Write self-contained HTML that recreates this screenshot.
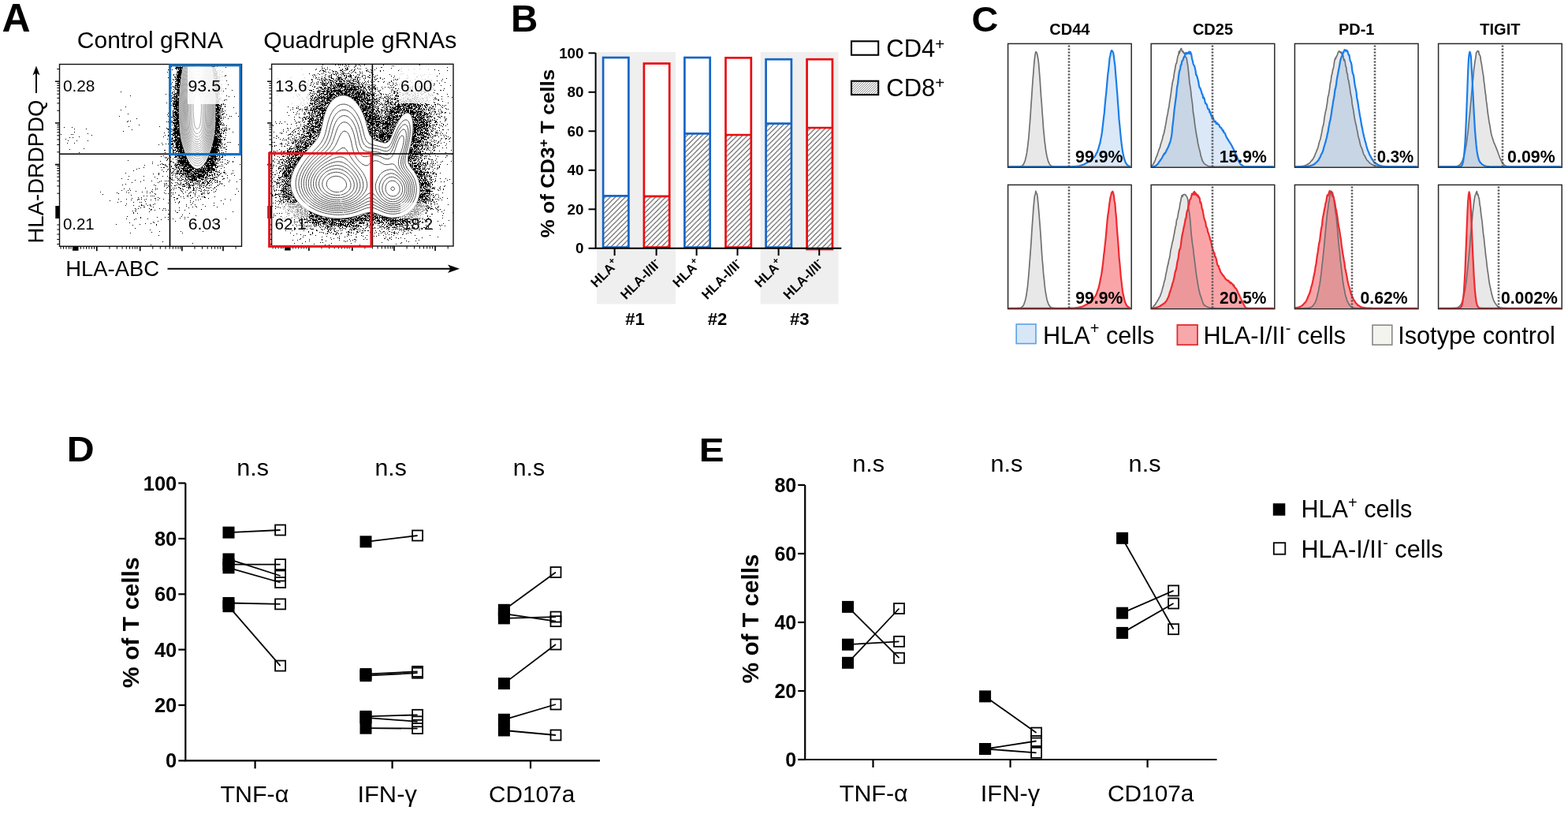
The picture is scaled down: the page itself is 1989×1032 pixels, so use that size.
<!DOCTYPE html>
<html><head><meta charset="utf-8"><title>Figure</title>
<style>html,body{margin:0;padding:0;background:#fff;}svg{display:block;}</style></head>
<body><svg width="1989" height="1032" viewBox="0 0 1989 1032" font-family="'Liberation Sans', Arial, Helvetica, sans-serif">
<rect width="1989" height="1032" fill="#fff"/>
<text transform="translate(2.5 39.5) scale(1.014 1)" font-size="49.3" font-weight="bold">A</text>
<text transform="translate(648 40) scale(1.001 1)" font-size="47.5" font-weight="bold">B</text>
<text transform="translate(1232.6 40.2) scale(1.075 1)" font-size="43.6" font-weight="bold">C</text>
<text transform="translate(84.8 585) scale(1.103 1)" font-size="43.8" font-weight="bold">D</text>
<text transform="translate(886.8 585.3) scale(1.122 1)" font-size="42.5" font-weight="bold">E</text>
<text transform="translate(97.8 60.7) scale(1.008 1)" font-size="29.8">Control gRNA</text>
<text transform="translate(334.2 60.7) scale(1.014 1)" font-size="29.8">Quadruple gRNAs</text>
<text transform="translate(55 308.5) rotate(-90) scale(1.001 1)" font-size="27.5">HLA-DRDPDQ</text>
<path d="M46 118V88" stroke="#000" stroke-width="2"/><path d="M46 83.5L41.5 95.5L46 92.5L50.5 95.5Z" fill="#000"/>
<text transform="translate(83.2 350.2) scale(1.009 1)" font-size="27.2">HLA-ABC</text>
<path d="M212.5 340.7H575" stroke="#000" stroke-width="2"/><path d="M583 340.7L568 335.5L571.5 340.7L568 346Z" fill="#000"/>
<path d="M225 82.5h1m1 0h6m35 0h8M222 83.5h1m3 0h1m1 0h1m1 0h2m36 0h6m1 0h1M217 84.5h1m5 0h1m1 0h1m2 0h1m2 0h1m36 0h5m2 0h1M214 85.5h1m8 0h9m37 0h3m14 0h1M222 86.5h10m37 0h4m1 0h1M223 87.5h1m2 0h1m1 0h2m1 0h1m38 0h4m7 0h1M213 88.5h1m4 0h1m5 0h1m1 0h5m38 0h2m1 0h2m4 0h1M227 89.5h4m38 0h5m2 0h1m2 0h1M225 90.5h6m39 0h1m1 0h4m2 0h1m3 0h1M212 91.5h1m11 0h7m39 0h3m1 0h1m6 0h2M225 92.5h6m40 0h6m1 0h1M224 93.5h1m1 0h4m40 0h6M220 94.5h1m2 0h1m1 0h5m40 0h6m2 0h1m1 0h1M220 95.5h1m3 0h6m41 0h4m3 0h1m7 0h1M224 96.5h5m42 0h6m4 0h1m3 0h1M221 97.5h2m1 0h6m41 0h2m1 0h2m1 0h2m3 0h1M213 98.5h1m8 0h1m1 0h6m41 0h1m1 0h4m2 0h1M223 99.5h1m1 0h2m1 0h2m41 0h6m1 0h1M219 100.5h1m2 0h7m42 0h5m2 0h1M220 101.5h1m3 0h5m42 0h1m1 0h2m1 0h1m2 0h1m2 0h1M223 102.5h6m42 0h6m1 0h1m8 0h1M222 103.5h2m1 0h4m43 0h5M218 104.5h1m6 0h4m43 0h3m1 0h2M215 105.5h1m6 0h5m1 0h1m43 0h7M217 106.5h1m5 0h4m1 0h1m43 0h1m1 0h2m4 0h1M222 107.5h1m1 0h5m43 0h6m3 0h1m7 0h1M222 108.5h6m44 0h6M218 109.5h1m1 0h1m1 0h1m1 0h2m1 0h1m44 0h5m1 0h1m1 0h1M220 110.5h1m1 0h1m1 0h4m44 0h3m1 0h2M215 111.5h1m1 0h1m3 0h3m1 0h3m44 0h1m1 0h4m2 0h1M222 112.5h1m1 0h1m1 0h1m46 0h7m2 0h1m3 0h1M220 113.5h1m1 0h6m45 0h6m1 0h1M224 114.5h4m45 0h5m2 0h2m12 0h1M215 115.5h1m5 0h1m3 0h3m45 0h4m1 0h3m2 0h1M153 116.5h1m61 0h1m3 0h1m4 0h4m45 0h6M218 117.5h1m2 0h1m2 0h4m45 0h2m1 0h2m4 0h1M218 118.5h1m3 0h6m45 0h4m1 0h1M210 119.5h1m3 0h1m5 0h3m1 0h1m1 0h2m45 0h6m2 0h1M219 120.5h1m1 0h1m1 0h4m46 0h4m1 0h1M165 121.5h1m48 0h1m2 0h1m3 0h1m1 0h2m1 0h2m45 0h4m10 0h1M220 122.5h6m47 0h4m1 0h1m11 0h1m6 0h1M218 123.5h1m1 0h1m1 0h3m49 0h3M218 124.5h4m1 0h4m46 0h4m1 0h3M216 125.5h2m3 0h3m1 0h2m48 0h4M221 126.5h1m1 0h4m46 0h3m1 0h3m5 0h1m1 0h1M218 127.5h1m1 0h1m1 0h3m1 0h1m46 0h5m3 0h1m2 0h1M215 128.5h1m1 0h1m2 0h7m47 0h4m4 0h1M220 129.5h7m46 0h6M211 130.5h1m4 0h1m2 0h1m1 0h1m1 0h4m46 0h4M214 131.5h1m4 0h8m46 0h6m1 0h4M219 132.5h8m46 0h5m2 0h2m1 0h1m1 0h1M217 133.5h1m1 0h1m2 0h5m46 0h6m1 0h1M219 134.5h8m46 0h4m1 0h3m4 0h1M159 135.5h1m56 0h1m3 0h5m1 0h1m48 0h3m2 0h1m4 0h1M214 136.5h1m6 0h1m1 0h4m46 0h1m1 0h5m16 0h1M220 137.5h5m1 0h1m46 0h5m1 0h2m1 0h1M221 138.5h6m46 0h7m2 0h1M153 139.5h1m66 0h1m2 0h4m47 0h5m2 0h1M219 140.5h1m2 0h1m1 0h3m46 0h3m1 0h3m2 0h1m2 0h1M219 141.5h1m1 0h3m1 0h2m46 0h5m3 0h1m1 0h1M216 142.5h1m2 0h7m49 0h5m1 0h1M213 143.5h1m2 0h1m2 0h1m1 0h4m1 0h1m46 0h5m6 0h1m14 0h1M162 144.5h1m52 0h1m3 0h2m1 0h5m46 0h4m1 0h2m2 0h2M212 145.5h1m3 0h1m2 0h1m1 0h6m46 0h2m1 0h2m3 0h2m4 0h1M219 146.5h2m1 0h5m46 0h7M151 147.5h1m61 0h1m5 0h3m1 0h4m46 0h1m1 0h4m1 0h1m10 0h1m1 0h1m8 0h1M215 148.5h4m1 0h3m1 0h3m46 0h2m1 0h4m3 0h1m1 0h1M216 149.5h1m2 0h1m2 0h5m46 0h6m1 0h2M173 150.5h1m46 0h2m1 0h4m46 0h5m1 0h2m2 0h1m5 0h1M215 151.5h2m4 0h5m47 0h6M214 152.5h3m2 0h8m46 0h6m2 0h1M162 153.5h1m2 0h1m49 0h3m3 0h2m1 0h3m47 0h6M161 154.5h1m49 0h1m1 0h2m3 0h2m3 0h4m46 0h5m1 0h1M217 155.5h1m1 0h9m45 0h4m1 0h2m1 0h1M214 156.5h1m4 0h8m46 0h5m2 0h1m2 0h1M215 157.5h1m5 0h1m1 0h5m45 0h8M176 158.5h1m41 0h1m1 0h5m1 0h2m45 0h5m1 0h1m1 0h4M216 159.5h1m4 0h3m1 0h3m45 0h6m8 0h1M163 160.5h1m38 0h1m11 0h1m1 0h1m4 0h7m45 0h2m1 0h3M81 161.5h1m9 0h1m128 0h1m1 0h3m2 0h1m45 0h6m7 0h1M211 162.5h1m4 0h1m4 0h7m45 0h6m3 0h1m1 0h1m2 0h1M94 163.5h1m14 0h1m102 0h3m2 0h1m1 0h6m1 0h2m45 0h3m2 0h1m1 0h1m5 0h1m3 0h2M167 164.5h1m45 0h3m2 0h1m1 0h8m45 0h6m1 0h2m2 0h2m1 0h1M219 165.5h4m1 0h4m44 0h6m4 0h1m1 0h2m1 0h1M156 166.5h1m60 0h1m1 0h1m1 0h7m44 0h7m1 0h1m2 0h2M94 167.5h1m118 0h1m7 0h7m44 0h2m1 0h4m16 0h1M208 168.5h1m7 0h1m2 0h9m44 0h7m1 0h2m1 0h1m2 0h1M111 169.5h1m107 0h10m44 0h2m1 0h1m1 0h3m2 0h1M77 170.5h1m12 0h1m1 0h1m124 0h3m1 0h2m1 0h5m43 0h4m1 0h1m1 0h1M116 171.5h1m92 0h1m3 0h2m1 0h1m2 0h4m1 0h5m43 0h1m2 0h2m1 0h3m5 0h1M213 172.5h1m5 0h1m2 0h4m1 0h2m43 0h3m1 0h5M100 173.5h1m106 0h1m8 0h1m4 0h4m3 0h1m42 0h7m1 0h3M88 174.5h1m3 0h1m125 0h1m2 0h8m42 0h5m1 0h2m4 0h1m1 0h1M218 175.5h2m2 0h1m1 0h5m42 0h6m2 0h1M83 176.5h1m128 0h1m1 0h1m1 0h3m3 0h8m41 0h9m1 0h1m2 0h2M219 177.5h1m1 0h4m1 0h4m41 0h11m2 0h1M86 178.5h1m10 0h1m13 0h1m105 0h1m1 0h11m40 0h7m1 0h2M217 179.5h3m1 0h2m1 0h6m40 0h11M221 180.5h1m1 0h8m39 0h11m7 0h1m1 0h1m1 0h1M85 181.5h1m8 0h1m110 0h1m12 0h2m2 0h5m1 0h3m39 0h6m1 0h1m1 0h1m1 0h1M210 182.5h1m2 0h1m3 0h3m3 0h8m38 0h9m1 0h1m1 0h1m3 0h1M201 183.5h1m4 0h1m9 0h4m2 0h9m38 0h10m2 0h1m2 0h1m17 0h1M220 184.5h1m2 0h4m1 0h4m37 0h11M219 185.5h1m3 0h3m1 0h5m38 0h4m1 0h2m1 0h3m1 0h1m4 0h1M218 186.5h1m1 0h1m1 0h10m36 0h4m1 0h4M217 187.5h1m3 0h12m35 0h10m1 0h3m1 0h3M106 188.5h1m111 0h1m5 0h3m1 0h5m35 0h8M88 189.5h1m130 0h1m2 0h1m2 0h6m1 0h1m35 0h10m8 0h2M208 190.5h2m9 0h4m2 0h1m1 0h7m33 0h11m3 0h1M219 191.5h2m2 0h8m1 0h2m33 0h8m1 0h3M219 192.5h1m3 0h2m1 0h8m32 0h11m9 0h1M100 193.5h1m108 0h1m9 0h2m1 0h1m3 0h1m1 0h7m31 0h10m2 0h1m2 0h1m1 0h1M223 194.5h11m33 0h5m1 0h2m3 0h1M226 195.5h2m1 0h3m1 0h2m30 0h14m2 0h1m2 0h1M222 196.5h1m2 0h2m2 0h7m29 0h12M207 197.5h1m6 0h1m7 0h1m1 0h9m1 0h2m29 0h9m2 0h1m1 0h1m3 0h1m2 0h1M204 198.5h1m17 0h3m1 0h3m1 0h7m27 0h1m2 0h9m2 0h1m3 0h1M209 199.5h1m1 0h1m4 0h1m4 0h3m3 0h2m1 0h7m27 0h1m1 0h1m1 0h6m4 0h1m1 0h3m14 0h1M210 200.5h1m2 0h1m11 0h12m26 0h8m1 0h3m2 0h1M212 201.5h1m6 0h1m8 0h5m1 0h4m25 0h14m1 0h2M212 202.5h1m10 0h1m1 0h1m1 0h1m1 0h2m1 0h4m1 0h1m24 0h8m1 0h4m1 0h1m1 0h1m3 0h1m2 0h1M162 203.5h1m48 0h1m13 0h14m23 0h3m2 0h4m1 0h2m2 0h1m1 0h1m9 0h1M203 204.5h1m12 0h2m8 0h10m1 0h2m23 0h10m1 0h1m2 0h1m13 0h1m4 0h1M193 205.5h1m21 0h2m2 0h1m4 0h16m21 0h3m1 0h3m1 0h4m6 0h1m1 0h2m12 0h1M220 206.5h1m5 0h1m1 0h13m19 0h3m1 0h1m1 0h6m1 0h3m12 0h2M193 207.5h1m11 0h1m16 0h1m1 0h1m1 0h1m1 0h6m1 0h5m19 0h14m1 0h1m1 0h1m8 0h1M203 208.5h1m2 0h2m1 0h1m4 0h1m7 0h1m1 0h5m1 0h12m17 0h2m1 0h3m2 0h7m7 0h1m5 0h1m16 0h1M183 209.5h1m16 0h1m8 0h1m11 0h5m1 0h2m1 0h3m1 0h9m15 0h1m1 0h15M210 210.5h2m5 0h1m5 0h1m4 0h9m1 0h6m13 0h1m1 0h1m1 0h10m1 0h2m2 0h1m1 0h1m1 0h1m1 0h1M212 211.5h1m4 0h1m4 0h2m1 0h3m5 0h5m1 0h6m11 0h1m2 0h1m1 0h5m2 0h2m3 0h1m1 0h2M182 212.5h1m21 0h1m2 0h2m14 0h2m1 0h1m2 0h1m2 0h3m2 0h9m9 0h3m1 0h1m1 0h1m1 0h7m3 0h3m8 0h1M176 213.5h1m41 0h3m3 0h1m1 0h2m1 0h11m1 0h1m1 0h5m4 0h2m1 0h1m1 0h15m8 0h1M173 214.5h1m39 0h1m1 0h1m6 0h1m4 0h1m3 0h3m1 0h1m1 0h1m2 0h6m1 0h12m1 0h1m2 0h4m1 0h5m1 0h1M205 215.5h1m6 0h1m3 0h1m3 0h2m2 0h1m2 0h2m1 0h1m1 0h7m1 0h4m1 0h1m2 0h4m1 0h3m1 0h16M169 216.5h1m55 0h2m2 0h2m1 0h12m2 0h3m1 0h10m1 0h6m1 0h1m1 0h3m1 0h1m3 0h1m5 0h1m10 0h1M207 217.5h1m3 0h1m4 0h1m2 0h2m3 0h3m1 0h3m1 0h1m1 0h8m1 0h3m1 0h14m2 0h2m2 0h2m4 0h2m1 0h1M218 218.5h1m4 0h1m1 0h1m2 0h1m3 0h1m1 0h1m1 0h5m1 0h1m1 0h4m1 0h1m1 0h13m1 0h4m1 0h1m4 0h1m1 0h2m4 0h3M159 219.5h1m41 0h1m13 0h1m1 0h2m1 0h1m3 0h3m1 0h3m1 0h1m1 0h2m1 0h6m3 0h6m4 0h3m1 0h2m1 0h1m2 0h1m1 0h1m3 0h1m7 0h1m3 0h1m10 0h1M194 220.5h1m6 0h1m20 0h4m1 0h2m1 0h9m3 0h15m1 0h6m7 0h2m2 0h1m3 0h1m6 0h1m6 0h1M201 221.5h1m17 0h1m7 0h1m3 0h2m2 0h1m1 0h6m1 0h2m1 0h2m2 0h5m1 0h3m2 0h2m1 0h1m2 0h2m2 0h1m2 0h2m1 0h1M218 222.5h1m3 0h1m6 0h2m1 0h1m1 0h1m1 0h2m1 0h1m2 0h5m1 0h12m2 0h2m1 0h3m1 0h1m2 0h1m4 0h1m10 0h1m8 0h1M163 223.5h1m18 0h1m23 0h1m5 0h1m11 0h1m5 0h1m4 0h2m1 0h11m1 0h9m3 0h1m1 0h2m3 0h1m6 0h1m4 0h2M196 224.5h1m25 0h1m5 0h2m1 0h1m1 0h1m2 0h7m1 0h15m1 0h3m8 0h1m1 0h2M214 225.5h1m1 0h1m1 0h1m5 0h1m10 0h1m2 0h1m3 0h6m1 0h1m1 0h3m3 0h2m1 0h2m1 0h1m2 0h1m2 0h1m1 0h2m2 0h1m12 0h1M154 226.5h1m44 0h1m16 0h1m8 0h1m1 0h1m2 0h1m4 0h1m2 0h3m2 0h7m2 0h5m3 0h1m1 0h1m1 0h1m1 0h5m12 0h2M162 227.5h1m54 0h2m7 0h1m4 0h2m2 0h2m1 0h1m1 0h5m1 0h4m5 0h4m1 0h1m1 0h1m7 0h2m10 0h1m21 0h1M171 228.5h1m10 0h1m35 0h1m1 0h1m4 0h1m1 0h1m1 0h2m6 0h1m2 0h10m1 0h1m1 0h1m2 0h1m4 0h1m4 0h2m1 0h1m2 0h2m1 0h1m15 0h1M192 229.5h1m11 0h1m4 0h1m1 0h1m1 0h1m14 0h1m4 0h4m6 0h2m1 0h1m1 0h1m1 0h2m1 0h2m4 0h2m1 0h1m2 0h2m8 0h1M178 230.5h1m23 0h1m35 0h2m1 0h2m1 0h1m4 0h3m1 0h1m3 0h1m4 0h2m1 0h1m2 0h1m3 0h1m2 0h1m2 0h2m10 0h1m9 0h1M167 231.5h1m32 0h1m16 0h1m4 0h1m1 0h1m4 0h1m6 0h2m3 0h2m1 0h1m2 0h1m4 0h1m3 0h3m1 0h1m2 0h2m2 0h1m5 0h1m1 0h1M208 232.5h1m1 0h2m6 0h1m6 0h1m3 0h1m5 0h2m2 0h1m5 0h1m1 0h1m1 0h2m1 0h1m3 0h4m3 0h3m3 0h1m9 0h1m1 0h1M159 233.5h1m66 0h1m1 0h1m3 0h2m3 0h4m4 0h1m2 0h1m3 0h1m2 0h1m6 0h2m14 0h1m2 0h1M155 234.5h1m39 0h1m12 0h2m1 0h1m12 0h1m2 0h1m1 0h1m1 0h3m2 0h1m3 0h1m1 0h1m1 0h1m1 0h1m3 0h1m1 0h1m1 0h1m2 0h1m1 0h1m2 0h1m3 0h1m1 0h1m7 0h1M197 235.5h1m15 0h1m3 0h1m3 0h2m11 0h1m3 0h4m1 0h3m7 0h1m1 0h1m2 0h1m2 0h1m3 0h1m10 0h1m7 0h1M208 236.5h1m5 0h1m16 0h4m5 0h1m12 0h1m1 0h1m4 0h1m13 0h1M212 237.5h1m13 0h2m8 0h1m1 0h4m3 0h1m2 0h1m1 0h1m6 0h2m3 0h1m4 0h1m4 0h1M184 238.5h1m12 0h1m13 0h1m7 0h1m1 0h1m1 0h1m4 0h1m10 0h1m1 0h1m3 0h1m6 0h3m7 0h1m1 0h2m6 0h1M157 239.5h1m6 0h1m34 0h1m28 0h2m1 0h1m7 0h1m5 0h2m2 0h1m20 0h1m29 0h1M193 240.5h1m3 0h1m19 0h1m2 0h1m11 0h1m12 0h1m9 0h1m3 0h1m14 0h1M154 241.5h1m7 0h1m2 0h1m43 0h1m6 0h1m12 0h1m7 0h1m6 0h3m1 0h1m3 0h1m5 0h1m1 0h1m1 0h1m1 0h1m3 0h1M172 242.5h1m13 0h1m5 0h1m37 0h1m23 0h2m17 0h1m28 0h1M127 243.5h1m32 0h1m19 0h1m12 0h1m37 0h1m3 0h1m5 0h2m5 0h1m10 0h1m3 0h1m7 0h1M148 244.5h1m14 0h1m22 0h1m3 0h1m17 0h1m8 0h1m1 0h1m2 0h1m17 0h1m4 0h1m11 0h1m7 0h1M150 245.5h1m45 0h1m13 0h1m2 0h1m18 0h1m6 0h1m7 0h1m7 0h1m1 0h1m1 0h1m3 0h2M130 246.5h1m66 0h1m17 0h1m3 0h1m27 0h1m7 0h2m41 0h1M166 247.5h1m59 0h2m10 0h1m2 0h1M182 248.5h1m3 0h1m4 0h1m1 0h1m1 0h1m21 0h1m19 0h1m3 0h1m5 0h1m4 0h1M229 249.5h1m2 0h1m5 0h1m17 0h1m1 0h2m12 0h1M175 250.5h1m3 0h1m20 0h1m19 0h2m22 0h1m5 0h1m8 0h2M167 251.5h1m28 0h2m4 0h1m21 0h2m7 0h1m8 0h1m21 0h1M150 252.5h1m9 0h1m14 0h2m2 0h1m5 0h1m21 0h1m16 0h1m29 0h1m30 0h1M166 253.5h1m7 0h1m8 0h1m7 0h1m5 0h1m2 0h1m13 0h1m6 0h1m26 0h1m2 0h1m40 0h1M139 254.5h1m101 0h1m38 0h1M153 255.5h1m30 0h1m42 0h1m17 0h1M149 256.5h1m19 0h1m7 0h1m1 0h1m42 0h1m4 0h1m13 0h1M213 257.5h1m12 0h1m17 0h1m26 0h1M160 258.5h1m24 0h1m10 0h1m86 0h1M179 259.5h1m10 0h1m3 0h1m41 0h1m5 0h1m4 0h1m9 0h1M159 260.5h1m9 0h1m9 0h2m1 0h1m4 0h1m2 0h1m80 0h1M176 261.5h1m14 0h1m23 0h1m20 0h1m11 0h1m11 0h1M182 262.5h2m10 0h1m49 0h1m4 0h1m25 0h1M178 263.5h1m48 0h1m11 0h1M171 264.5h1m3 0h1m13 0h1m12 0h1m4 0h1m1 0h1M172 265.5h1m18 0h2m62 0h1M191 266.5h1m4 0h1m9 0h1m3 0h1m2 0h1m13 0h1m6 0h1M168 267.5h1m2 0h2m49 0h1M189 268.5h1m105 0h1M169 269.5h1m54 0h2M169 270.5h1m4 0h1m65 0h1M213 271.5h2M231 272.5h1M248 273.5h1M161 274.5h1m53 0h1m14 0h1M178 275.5h1m20 0h1m9 0h1m3 0h1m20 0h1m3 0h1M178 276.5h1m49 0h1M160 277.5h1m11 0h1m14 0h1m31 0h1m14 0h1m51 0h1M170 278.5h1m33 0h1m8 0h1M200 280.5h1m21 0h1M194 281.5h1M164 282.5h1m30 0h1m48 0h1m26 0h1M184 283.5h1m6 0h1M147 284.5h1m29 0h1m20 0h1M168 285.5h1m29 0h1M215 287.5h1M171 289.5h1M190 291.5h1M202 293.5h1m26 0h1m27 0h1M192 294.5h1M165 295.5h1m65 0h1M201 298.5h1M206 306.5h1M244 308.5h1M191 310.5h1" stroke="#000" stroke-width="1" fill="none"/>
<path d="M267.7 81.5L268 82.8L268.3 84L268.6 85.5L268.9 87L269.3 88.5L269.5 89.8L269.7 91L270 92.5L270.3 94L270.5 95.5L270.7 97L271 98.5L271.2 100L271.4 101.5L271.6 103L271.7 104.5L271.9 106L272.1 107.5L272.2 109L272.3 110.5L272.5 112L272.6 113.5L272.7 115L272.8 116.5L272.9 118L273 119.5L273.1 121L273.1 122.5L273.2 124L273.2 125.5L273.3 127L273.3 128.5L273.3 130L273.4 131.5L273.4 133L273.4 134.5L273.4 136L273.4 137.5L273.4 139L273.4 140.5L273.3 142L273.3 143.5L273.3 145L273.3 146.5L273.2 148L273.2 149.5L273.2 151L273.1 152.5L273.1 154L273 155.5L273 157L272.9 158.5L272.8 160L272.7 161.5L272.6 163L272.5 164.5L272.4 166L272.2 167.5L272 169L271.8 170.5L271.6 172L271.4 173.5L271.1 175L270.8 176.5L270.5 177.9L270.1 179.5L269.8 181L269.4 182.5L269 183.9L268.6 185.5L268.1 187L267.7 188.5L267.2 190L266.7 191.5L266.2 193L265.6 194.5L265.1 196L264.5 197.4L264 198.6L263.5 199.8L263 200.9L262.5 202L261.7 203.5L261 204.8L260.3 206L259.5 207.3L258.6 208.5L257.8 209.5L257 210.4L256 211.4L255 212.2L253.7 213L252.5 213.5L251 213.8L249.5 213.8L248.2 213.5L247 213L245.5 212.1L244.5 211.3L243.5 210.3L242.5 209.2L241.6 208L240.9 207L240 205.5L239.1 204L238.5 202.8L237.9 201.5L237.2 200L236.5 198.5L236 197.2L235.5 196L235 194.6L234.5 193.2L234.1 192L233.5 190.5L233.1 189L232.6 187.5L232.1 186L231.7 184.5L231.3 183L230.9 181.5L230.5 180.1L230.1 178.5L229.8 177L229.5 175.5L229.2 174L229 172.8L228.8 171.5L228.6 170L228.4 168.5L228.2 167L228.1 165.5L227.9 164L227.8 162.5L227.7 161L227.7 159.5L227.6 158L227.5 156.5L227.5 155.3L227.5 154L227.4 152.5L227.4 151L227.4 149.5L227.3 148L227.3 146.5L227.3 145L227.3 143.5L227.2 142L227.2 140.5L227.2 139L227.2 137.5L227.2 136L227.2 134.5L227.2 133L227.2 131.5L227.3 130L227.3 128.5L227.3 127L227.4 125.5L227.4 124L227.5 122.5L227.5 121L227.6 119.5L227.7 118L227.8 116.5L227.9 115L228 113.6L228.1 112L228.3 110.5L228.4 109L228.5 107.5L228.7 106L228.9 104.5L229 103L229.2 101.5L229.4 100L229.6 98.5L229.9 97L230.1 95.5L230.3 94L230.6 92.5L230.9 91L231.1 89.5L231.4 88L231.8 86.5L232.1 85L232.4 83.5L232.8 82M266.2 81.5L266.6 83L267 84.4L267.4 86L267.7 87.5L268 88.8L268.3 90L268.5 91.2L268.7 92.5L269 93.9L269.3 95.5L269.5 96.8L269.8 98.5L270 100L270.2 101.5L270.4 103L270.6 104.5L270.8 106L270.9 107.5L271.1 109L271.2 110.5L271.4 112L271.5 113.5L271.6 115L271.7 116.5L271.8 118L271.9 119.5L272 121L272 122.5L272.1 124L272.2 125.5L272.2 127L272.3 128.5L272.3 130L272.3 131.5L272.3 133L272.3 134.5L272.3 136L272.3 137.5L272.3 139L272.3 140.5L272.3 142L272.3 143.5L272.2 145L272.2 146.5L272.2 148L272.1 149.5L272.1 151L272.1 152.5L272 154L272 155.5L271.9 157L271.8 158.5L271.8 160L271.7 161.5L271.5 163L271.4 164.5L271.3 166L271.1 167.5L270.9 169L270.7 170.5L270.5 171.8L270.2 173.5L269.9 175L269.6 176.5L269.3 178L268.9 179.5L268.5 181L268.1 182.5L267.7 184L267.2 185.5L266.7 187L266.2 188.5L265.7 190L265.1 191.5L264.6 193L264 194.4L263.5 195.6L263 196.7L262.4 198L261.7 199.5L261 200.8L260.3 202L259.5 203.3L258.7 204.5L257.9 205.5L257.1 206.5L256.1 207.5L255 208.4L254 209.1L252.5 209.8L251 210.1L249.5 210.1L248 209.8L246.5 209L245.5 208.4L244.5 207.5L243.5 206.5L242.7 205.5L241.9 204.5L241.2 203.5L240.5 202.4L239.7 201L239 199.7L238.4 198.5L237.7 197L237 195.5L236.5 194.2L236 193L235.5 191.7L235 190.5L234.5 189L234 187.6L233.5 186L233 184.5L232.6 183L232.1 181.5L231.7 180L231.3 178.5L231 177L230.7 175.5L230.4 174L230.1 172.5L229.8 171L229.6 169.5L229.4 168L229.3 166.5L229.1 165L229 163.7L228.9 162.5L228.8 161L228.7 159.5L228.7 158L228.6 156.5L228.6 155L228.5 153.5L228.5 152L228.5 150.5L228.4 149L228.4 147.5L228.4 146L228.3 144.5L228.3 143L228.3 141.5L228.3 140L228.3 138.5L228.3 137L228.3 135.5L228.3 134L228.3 132.5L228.3 131L228.3 129.5L228.4 128L228.4 126.5L228.5 125L228.5 123.7L228.6 122.5L228.6 121L228.7 119.5L228.8 118L228.9 116.5L229 115L229.1 113.5L229.2 112L229.4 110.5L229.5 109.2L229.6 108L229.8 106.5L230 105L230.1 103.5L230.3 102L230.5 100.5L230.8 99L231 97.5L231.2 96L231.5 94.5L231.8 93L232 91.7L232.2 90.5L232.5 89.3L232.8 88L233.1 86.5L233.5 85L233.8 83.5L234.2 82M265 81.5L265.4 83L265.8 84.5L266.2 86L266.5 87.2L266.8 88.5L267.2 90L267.5 91.5L267.8 93L268 94.2L268.2 95.5L268.5 97L268.7 98.5L269 100L269.2 101.5L269.4 103L269.6 104.5L269.8 106L270 107.5L270.1 109L270.3 110.5L270.4 112L270.6 113.5L270.7 115L270.8 116.5L270.9 118L271 119.5L271.1 121L271.1 122.5L271.2 124L271.3 125.5L271.3 127L271.4 128.5L271.4 130L271.4 131.5L271.4 133L271.4 134.5L271.4 136L271.4 137.5L271.4 139L271.4 140.5L271.4 142L271.4 143.5L271.3 145L271.3 146.5L271.3 148L271.2 149.5L271.2 151L271.2 152.5L271.1 154L271.1 155.5L271 156.9L270.9 158.5L270.8 160L270.8 161.5L270.6 163L270.5 164.5L270.4 166L270.2 167.5L270 168.9L269.8 170.5L269.5 172L269.2 173.5L269 174.7L268.7 176L268.4 177.5L268 179L267.6 180.5L267.2 182L266.7 183.5L266.2 185L265.7 186.5L265.2 188L264.6 189.5L264 191L263.5 192.2L263 193.4L262.5 194.5L261.8 196L261 197.5L260.1 199L259.5 200.1L258.5 201.5L257.8 202.5L257 203.4L256 204.5L255 205.3L254 206L252.5 206.7L251 207.1L249.5 207.1L248 206.7L246.6 206L245.5 205.3L244.5 204.4L243.7 203.5L242.8 202.5L242.1 201.5L241.4 200.5L240.5 199.1L239.9 198L239.1 196.5L238.5 195.4L237.9 194L237.2 192.5L236.6 191L236 189.6L235.5 188.3L235 187L234.5 185.5L234 184L233.5 182.5L233.1 181L232.6 179.5L232.2 178L231.9 176.5L231.5 175L231.2 173.5L231 172.2L230.8 171L230.6 169.5L230.4 168L230.2 166.5L230 165L229.9 163.5L229.8 162L229.7 160.5L229.6 159L229.5 157.5L229.5 156.3L229.5 155L229.4 153.5L229.4 152L229.3 150.5L229.3 149L229.3 147.5L229.3 146L229.2 144.5L229.2 143L229.2 141.5L229.2 140L229.2 138.5L229.2 137L229.2 135.5L229.2 134L229.2 132.5L229.2 131L229.2 129.5L229.3 128L229.3 126.5L229.3 125L229.4 123.5L229.5 122L229.6 120.5L229.6 119L229.7 117.5L229.8 116L230 114.5L230.1 113L230.2 111.5L230.4 110L230.5 108.7L230.6 107.5L230.8 106L231 104.5L231.2 103L231.4 101.5L231.6 100L231.9 98.5L232.1 97L232.4 95.5L232.6 94L232.9 92.5L233.2 91L233.5 89.8L233.8 88.5L234.1 87L234.5 85.6L234.9 84L235.3 82.5M263.7 81.5L264.2 83L264.6 84.5L265 85.8L265.3 87L265.7 88.5L266 89.8L266.3 91L266.6 92.5L266.9 94L267.2 95.5L267.5 97L267.8 98.5L268 100L268.2 101.5L268.5 103L268.7 104.5L268.9 106L269 107.5L269.2 109L269.4 110.5L269.5 111.8L269.6 113L269.7 114.5L269.9 116L270 117.5L270.1 119L270.2 120.5L270.3 122L270.3 123.5L270.4 125L270.4 126.5L270.5 128L270.5 129.5L270.5 131L270.6 132.5L270.6 134L270.6 135.5L270.6 137L270.6 138.5L270.5 140L270.5 141.5L270.5 143L270.5 144.5L270.4 146L270.4 147.5L270.4 149L270.3 150.5L270.3 152L270.3 153.5L270.2 155L270.2 156.5L270.1 158L270 159.5L269.9 161L269.8 162.5L269.7 164L269.5 165.5L269.3 167L269.2 168.5L268.9 170L268.7 171.5L268.4 173L268.1 174.5L267.7 176L267.4 177.5L267 178.9L266.5 180.5L266.1 182L265.6 183.5L265.1 185L264.5 186.5L264 187.8L263.5 189L263 190.2L262.5 191.3L261.9 192.5L261.2 194L260.5 195.3L259.8 196.5L259 197.8L258.1 199L257.4 200L256.5 201L255.5 201.9L254.5 202.7L253.2 203.5L252 204L250.5 204.2L249 204.1L247.5 203.6L246 202.7L245 201.9L244.1 201L243.2 200L242.4 199L241.7 198L241 196.9L240.2 195.5L239.5 194.2L238.9 193L238.1 191.5L237.5 190.1L237 188.9L236.5 187.7L236 186.5L235.5 185.1L235 183.7L234.6 182.5L234.1 181L233.7 179.5L233.2 178L232.9 176.5L232.5 175L232.2 173.5L231.9 172L231.6 170.5L231.4 169L231.2 167.5L231 166L230.9 164.5L230.7 163L230.6 161.5L230.5 160L230.5 158.5L230.4 157L230.3 155.5L230.3 154L230.3 152.5L230.2 151L230.2 149.5L230.2 148L230.1 146.5L230.1 145L230.1 143.5L230.1 142L230 140.5L230 139L230 137.5L230 136L230 134.5L230 133L230.1 131.5L230.1 130L230.1 128.5L230.1 127L230.2 125.5L230.3 124L230.3 122.5L230.4 121L230.5 119.5L230.6 118L230.7 116.5L230.8 115L230.9 113.5L231.1 112L231.2 110.5L231.4 109L231.6 107.5L231.7 106L231.9 104.5L232.1 103L232.4 101.5L232.6 100L232.8 98.5L233.1 97L233.4 95.5L233.7 94L234 92.5L234.3 91L234.7 89.5L235 88.1L235.4 86.5L235.8 85L236.3 83.5L236.7 82M262.4 81.5L262.9 83L263.4 84.5L263.9 86L264.3 87.5L264.7 89L265 90.2L265.3 91.5L265.7 93L266 94.5L266.3 96L266.6 97.5L266.8 99L267.1 100.5L267.3 102L267.6 103.5L267.8 105L268 106.5L268.2 108L268.4 109.5L268.5 110.8L268.7 112.5L268.8 114L268.9 115.5L269.1 117L269.2 118.5L269.3 120L269.4 121.5L269.4 123L269.5 124.5L269.6 126L269.6 127.5L269.6 129L269.7 130.5L269.7 132L269.7 133.5L269.7 135L269.7 136.5L269.7 138L269.7 139.5L269.7 141L269.7 142.5L269.6 144L269.6 145.5L269.6 147L269.5 148.5L269.5 150L269.5 151.5L269.4 153L269.4 154.5L269.3 156L269.2 157.5L269.2 159L269.1 160.5L269 162L268.8 163.5L268.7 165L268.5 166.5L268.3 168L268.1 169.5L267.8 171L267.6 172.5L267.2 174L266.9 175.5L266.5 177L266.1 178.5L265.6 180L265.2 181.5L264.6 183L264.1 184.5L263.5 186L263 187.2L262.5 188.3L261.9 189.5L261.2 191L260.5 192.3L259.8 193.5L259 194.8L258.2 196L257.4 197L256.6 198L255.6 199L254.5 199.9L253 200.8L251.5 201.3L250 201.4L248.5 201.1L247.1 200.5L246 199.8L245 199L244 198L243.2 197L242.4 196L241.7 195L241 193.9L240.2 192.5L239.5 191.3L238.9 190L238.1 188.5L237.5 187.1L237 185.9L236.5 184.6L236.1 183.5L235.5 182L235 180.5L234.6 179L234.1 177.5L233.7 176L233.4 174.5L233 173L232.7 171.5L232.5 170.2L232.3 169L232.1 167.5L231.9 166L231.7 164.5L231.6 163L231.5 161.6L231.4 160L231.3 158.5L231.3 157L231.2 155.5L231.2 154L231.1 152.5L231.1 151L231 149.5L231 148L231 146.5L231 145L230.9 143.5L230.9 142L230.9 140.5L230.9 139L230.9 137.5L230.9 136L230.9 134.5L230.9 133L230.9 131.5L230.9 130L231 128.5L231 127.3L231 126L231.1 124.5L231.2 123L231.2 121.5L231.3 120L231.4 118.5L231.5 117L231.7 115.5L231.8 114L231.9 112.5L232.1 111L232.2 109.5L232.4 108L232.6 106.5L232.8 105L233 103.7L233.3 102L233.5 100.5L233.7 99L234 97.6L234.3 96L234.6 94.5L234.9 93L235.3 91.5L235.7 90L236 88.7L236.3 87.5L236.7 86L237.2 84.5L237.7 83L238.2 81.5M261 81.5L261.5 82.9L262 84.2L262.4 85.5L262.9 87L263.4 88.5L263.8 90L264.2 91.5L264.5 92.8L264.8 94L265.1 95.5L265.4 97L265.7 98.5L266 99.9L266.3 101.5L266.5 102.8L266.8 104.5L267 106L267.2 107.5L267.4 109L267.5 110.5L267.7 112L267.9 113.5L268 115L268.1 116.5L268.3 118L268.4 119.5L268.5 121L268.5 122.5L268.6 124L268.7 125.5L268.7 127L268.8 128.5L268.8 130L268.8 131.5L268.9 133L268.9 134.5L268.9 136L268.9 137.5L268.8 139L268.8 140.5L268.8 142L268.8 143.5L268.8 145L268.7 146.5L268.7 148L268.7 149.5L268.6 151L268.6 152.5L268.5 154L268.5 155.5L268.4 157L268.3 158.5L268.2 160L268.1 161.5L268 163L267.9 164.5L267.7 166L267.5 167.4L267.3 169L267 170.5L266.7 172L266.4 173.5L266 175L265.6 176.5L265.2 178L264.7 179.5L264.2 181L263.7 182.5L263.1 184L262.5 185.3L262 186.4L261.2 188L260.5 189.4L259.9 190.5L259 192L258.3 193L257.6 194L256.7 195L255.8 196L254.6 197L253.5 197.7L252 198.3L250.5 198.6L249.2 198.5L248 198.1L246.7 197.5L245.5 196.6L244.5 195.7L243.5 194.6L242.6 193.5L241.9 192.5L241 191.1L240.4 190L239.6 188.5L239 187.4L238.3 186L237.7 184.5L237.1 183L236.5 181.6L236 180.2L235.6 179L235.1 177.5L234.7 176L234.3 174.5L234 173.1L233.7 171.5L233.4 170L233.1 168.5L232.9 167L232.7 165.5L232.6 164L232.4 162.5L232.3 161L232.2 159.5L232.2 158L232.1 156.5L232 155L232 153.5L232 152L231.9 150.5L231.9 149L231.9 147.5L231.8 146L231.8 144.5L231.8 143L231.8 141.5L231.8 140L231.7 138.5L231.7 137L231.7 135.5L231.7 134L231.7 132.5L231.8 131L231.8 129.5L231.8 128L231.9 126.5L231.9 125L232 123.5L232.1 122L232.2 120.5L232.3 119L232.4 117.5L232.5 116.1L232.6 114.5L232.8 113L232.9 111.5L233.1 110L233.3 108.5L233.5 107L233.7 105.5L233.9 104L234.2 102.5L234.4 101L234.7 99.5L235 98L235.3 96.5L235.6 95L235.9 93.5L236.3 92L236.7 90.5L237 89.3L237.4 88L237.8 86.5L238.3 85L238.9 83.5L239.4 82M259.3 81.5L260 82.9L260.5 84.1L261 85.4L261.4 86.5L261.9 88L262.4 89.5L262.9 91L263.3 92.5L263.7 94L264 95.4L264.4 97L264.7 98.5L265 100L265.3 101.5L265.5 102.9L265.8 104.5L266 106L266.2 107.5L266.4 109L266.6 110.5L266.8 112L266.9 113.5L267.1 115L267.2 116.5L267.3 118L267.5 119.5L267.6 121L267.6 122.5L267.7 124L267.8 125.5L267.9 127L267.9 128.5L267.9 130L268 131.5L268 133L268 134.5L268 136L268 137.5L268 139L268 140.5L267.9 142L267.9 143.5L267.9 145L267.9 146.5L267.8 148L267.8 149.5L267.7 151L267.7 152.5L267.6 154L267.6 155.5L267.5 157L267.4 158.5L267.3 160L267.2 161.5L267.1 163L266.9 164.5L266.8 166L266.6 167.5L266.3 169L266 170.5L265.7 172L265.4 173.5L265 175L264.6 176.5L264.1 178L263.6 179.5L263 181L262.5 182.3L262 183.5L261.3 185L260.5 186.5L259.7 188L259 189.2L258.1 190.5L257.3 191.5L256.5 192.5L255.5 193.5L254.5 194.3L253.4 195L252.3 195.5L251 195.8L249.5 195.8L248.3 195.5L247.1 195L246 194.3L245 193.4L244.1 192.5L243.2 191.5L242.5 190.5L241.8 189.5L241 188.3L240.3 187L239.5 185.6L238.7 184L238.1 182.5L237.5 181.1L237 179.8L236.5 178.5L236.1 177L235.6 175.5L235.2 174L234.9 172.5L234.5 171L234.2 169.5L234 168L233.8 166.5L233.6 165L233.4 163.5L233.3 162L233.2 160.5L233.1 159L233 157.5L233 156L232.9 154.5L232.9 153L232.8 151.5L232.8 150L232.8 148.5L232.7 147L232.7 145.5L232.7 144L232.7 142.5L232.6 141L232.6 139.5L232.6 138L232.6 136.5L232.6 135L232.6 133.5L232.6 132L232.7 130.5L232.7 129L232.7 127.5L232.8 126L232.8 124.5L232.9 123L233 121.7L233.1 120L233.2 118.5L233.3 117L233.5 115.5L233.6 114L233.8 112.5L233.9 111L234.1 109.5L234.3 108L234.5 106.7L234.7 105.5L234.9 104L235.2 102.5L235.4 101L235.7 99.5L236 98.1L236.4 96.5L236.7 95L237 93.8L237.3 92.5L237.7 91L238.2 89.5L238.7 88L239.2 86.5L239.7 85L240.3 83.5L241 82M257.4 81.5L258.3 83L259 84.4L259.5 85.5L260 86.7L260.5 87.9L261 89.3L261.4 90.5L261.9 92L262.3 93.5L262.7 95L263.1 96.5L263.5 98L263.8 99.5L264.1 101L264.4 102.5L264.7 104L264.9 105.5L265.1 107L265.4 108.5L265.6 110L265.8 111.5L265.9 113L266.1 114.5L266.2 116L266.4 117.5L266.5 119L266.6 120.5L266.7 122L266.8 123.5L266.9 125L266.9 126.5L267 128L267 129.5L267.1 131L267.1 132.5L267.1 134L267.1 135.5L267.1 137L267.1 138.5L267.1 140L267.1 141.5L267 143L267 144.3L267 145.5L266.9 147L266.9 148.5L266.9 150L266.8 151.5L266.8 153L266.7 154.5L266.7 156L266.6 157.5L266.5 158.9L266.4 160.5L266.3 162L266.1 163.5L265.9 165L265.7 166.5L265.5 168L265.2 169.5L265 170.7L264.7 172L264.3 173.5L264 174.8L263.6 176L263.1 177.5L262.6 179L262 180.5L261.5 181.7L260.9 183L260.1 184.5L259.5 185.6L258.6 187L257.9 188L257.1 189L256.3 190L255.3 191L254 192L252.5 192.8L251 193.1L249.5 193.1L248 192.7L246.6 192L245.5 191.2L244.5 190.2L243.5 189.1L242.6 188L241.9 187L241 185.5L240.2 184L239.5 182.7L238.9 181.5L238.3 180L237.7 178.5L237.2 177L236.7 175.5L236.3 174L235.9 172.5L235.5 171L235.2 169.5L235 168.3L234.8 167L234.6 165.5L234.4 164L234.3 162.5L234.1 161L234 159.5L234 158L233.9 156.5L233.8 155L233.8 153.5L233.7 152L233.7 150.5L233.7 149L233.6 147.5L233.6 146L233.6 144.5L233.6 143L233.5 141.5L233.5 140L233.5 138.5L233.5 137L233.5 135.5L233.5 134L233.5 132.5L233.5 131L233.6 129.5L233.6 128L233.7 126.5L233.7 125L233.8 123.5L233.9 122L234 120.5L234.1 119L234.2 117.5L234.4 116L234.5 114.6L234.7 113L234.8 111.5L235 110.3L235.2 109L235.4 107.5L235.6 106L235.9 104.5L236.1 103L236.4 101.5L236.7 100L237 98.7L237.4 97L237.8 95.5L238.2 94L238.5 92.8L238.9 91.5L239.4 90L239.9 88.5L240.5 87L241 85.7L241.5 84.6L242 83.5L242.9 82M254.9 81.5L255.7 82.5L256.5 83.5L257.4 85L258 86.1L258.7 87.5L259.4 89L259.9 90.5L260.5 92L261 93.5L261.4 95L261.9 96.5L262.3 98L262.6 99.5L263 101L263.3 102.5L263.5 103.7L263.7 105L264 106.5L264.2 108L264.5 109.5L264.7 111L264.9 112.5L265.1 114L265.2 115.5L265.4 117L265.5 118.5L265.6 120L265.7 121.5L265.8 123L265.9 124.5L266 126L266 127.5L266.1 129L266.1 130.5L266.2 132L266.2 133.5L266.2 135L266.2 136.5L266.2 138L266.2 139.5L266.1 141L266.1 142.5L266.1 144L266 145.5L266 147L266 148.5L265.9 150L265.9 151.5L265.8 153L265.8 154.5L265.7 156L265.6 157.5L265.5 159L265.4 160.5L265.3 162L265.2 163.5L265 164.8L264.8 166L264.6 167.5L264.3 169L264 170.5L263.7 172L263.3 173.5L262.8 175L262.3 176.5L261.7 178L261.1 179.5L260.5 180.8L259.9 182L259.1 183.5L258.1 185L257.4 186L256.6 187L255.6 188L254.5 189L253.5 189.6L252 190.3L250.5 190.5L249 190.4L247.8 190L246.5 189.3L245.5 188.5L244.5 187.6L243.5 186.5L242.8 185.5L242.1 184.5L241.2 183L240.5 181.8L239.8 180.5L239.2 179L238.6 177.5L238 176L237.5 174.5L237.1 173L236.7 171.5L236.3 170L236.1 168.5L235.8 167L235.6 165.5L235.4 164L235.2 162.5L235.1 161L235 159.7L234.9 158L234.8 156.5L234.8 155L234.7 153.5L234.7 152L234.6 150.5L234.6 149L234.6 147.5L234.5 146L234.5 144.5L234.5 143L234.5 141.5L234.4 140L234.4 138.5L234.4 137L234.4 135.5L234.4 134L234.4 132.5L234.5 131L234.5 129.5L234.5 128L234.6 126.5L234.7 125L234.7 123.5L234.8 122L234.9 120.5L235.1 119L235.2 117.5L235.3 116L235.5 114.5L235.7 113L235.9 111.5L236.1 110L236.3 108.5L236.5 107.1L236.8 105.5L237 104.2L237.2 103L237.5 101.7L237.8 100.5L238.1 99L238.5 97.5L238.9 96L239.3 94.5L239.8 93L240.3 91.5L240.8 90L241.5 88.5L242 87.3L242.6 86L243.5 84.5L244.5 83L245.3 82M252 187.7L250.5 187.9L249 187.8L247.5 187.2L246.3 186.5L245.1 185.5L244.1 184.5L243.3 183.5L242.6 182.5L241.6 181L241 179.8L240.3 178.5L239.7 177L239.1 175.5L238.5 174L238.1 172.5L237.7 171L237.3 169.5L237 168L236.8 166.5L236.5 165L236.3 163.5L236.2 162L236.1 160.5L235.9 159L235.9 157.5L235.8 156L235.7 154.5L235.7 153L235.6 151.5L235.6 150L235.6 148.5L235.5 147L235.5 145.5L235.5 144L235.4 142.5L235.4 141L235.4 139.5L235.4 138L235.4 136.5L235.4 135L235.4 133.5L235.4 132L235.4 130.5L235.5 129L235.5 127.5L235.6 126L235.7 124.5L235.8 123L235.9 121.5L236 120L236.1 118.5L236.3 117L236.4 115.5L236.6 114L236.8 112.5L237 111L237.2 109.5L237.5 108L237.7 106.5L238 105L238.3 103.5L238.6 102L239 100.5L239.4 99L239.8 97.5L240.3 96L240.8 94.5L241.3 93L241.9 91.5L242.5 90.1L243.1 89L243.9 87.5L244.9 86L245.7 85L246.7 84L248 83.1L249.5 82.6L251 82.6L252.4 83L253.5 83.7L254.4 84.5L255.3 85.5L256 86.5L257 88L257.8 89.5L258.5 91L259 92.2L259.5 93.5L260 94.9L260.5 96.5L260.9 98L261.3 99.5L261.7 101L262 102.2L262.3 103.5L262.6 105L262.9 106.5L263.1 108L263.4 109.5L263.6 111L263.8 112.5L264 113.9L264.2 115.5L264.3 117L264.5 118.5L264.6 120L264.7 121.5L264.8 123L264.9 124.5L265 126L265.1 127.5L265.1 129L265.2 130.5L265.2 132L265.2 133.5L265.2 135L265.2 136.5L265.2 138L265.2 139.5L265.2 141L265.1 142.5L265.1 144L265.1 145.5L265 147L265 148.5L265 150L264.9 151.5L264.9 153L264.8 154.5L264.7 156L264.7 157.5L264.6 159L264.4 160.5L264.3 162L264.1 163.5L263.9 165L263.7 166.5L263.5 167.7L263.3 169L262.9 170.5L262.5 172L262.1 173.5L261.6 175L261 176.5L260.5 177.7L259.9 179L259.1 180.5L258.5 181.6L257.6 183L256.8 184L256 184.9L255 185.9L254 186.7L252.5 187.5M252 185L250.5 185.3L249 185.2L247.5 184.6L246 183.6L245 182.7L244 181.6L243.2 180.5L242.2 179L241.5 177.8L240.9 176.5L240.2 175L239.7 173.5L239.2 172L238.7 170.5L238.4 169L238 167.5L237.8 166L237.5 164.5L237.4 163L237.2 161.5L237.1 160L237 158.5L236.9 157L236.8 155.5L236.7 154L236.7 152.5L236.6 151L236.6 149.5L236.6 148L236.5 146.5L236.5 145.1L236.5 143.5L236.4 142L236.4 140.5L236.4 139L236.4 137.5L236.4 136L236.4 134.5L236.4 133L236.4 131.5L236.5 130L236.5 128.5L236.6 127L236.6 125.5L236.7 124L236.8 122.5L237 121L237.1 119.5L237.2 118L237.4 116.5L237.6 115L237.8 113.5L238 112L238.2 110.5L238.5 109L238.7 107.5L239 106.2L239.3 105L239.6 103.5L240 102L240.4 100.5L240.8 99L241.3 97.5L241.8 96L242.4 94.5L243 93.2L243.6 92L244.4 90.5L245.1 89.5L245.9 88.5L246.9 87.5L248 86.7L249.5 86.1L251 86.1L252.3 86.5L253.5 87.3L254.5 88.3L255.5 89.5L256.5 91L257.3 92.5L258 94L258.5 95.3L259 96.5L259.5 98L259.9 99.5L260.4 101L260.8 102.5L261.1 104L261.5 105.5L261.8 107L262 108.2L262.2 109.5L262.5 111L262.7 112.5L262.9 114L263.1 115.5L263.3 117L263.4 118.5L263.6 120L263.7 121.5L263.8 123L263.9 124.5L264 126L264 127.5L264.1 129L264.1 130.5L264.2 132L264.2 133.5L264.2 135L264.2 136.5L264.2 138L264.2 139.5L264.2 141L264.1 142.5L264.1 144L264.1 145.5L264 147L264 148.5L263.9 150L263.9 151.5L263.8 153L263.8 154.5L263.7 156L263.6 157.5L263.5 159L263.4 160.5L263.2 162L263.1 163.5L262.9 165L262.6 166.5L262.3 168L262 169.4L261.6 171L261.1 172.5L260.6 174L260 175.5L259.5 176.7L258.9 178L258 179.5L257 181L256.2 182L255.2 183L254 184L252.5 184.9M251.5 182.5L250 182.7L248.5 182.4L247 181.6L246 180.9L245 180L244.2 179L243.5 178L242.5 176.5L241.8 175L241.1 173.5L240.5 172L240 170.5L239.6 169L239.3 167.5L239 166.2L238.8 165L238.6 163.5L238.4 162L238.2 160.5L238.1 159L238 157.5L237.9 156L237.8 154.5L237.8 153L237.7 151.5L237.7 150L237.7 148.5L237.6 147L237.6 145.5L237.6 144L237.5 142.5L237.5 141.1L237.5 139.5L237.5 138L237.5 136.5L237.5 135L237.5 133.5L237.5 132L237.5 130.5L237.6 129L237.6 127.5L237.7 126L237.8 124.5L237.9 123L238 121.5L238.2 120L238.3 118.5L238.5 117L238.7 115.5L238.9 114L239.1 112.5L239.4 111L239.6 109.5L239.9 108L240.3 106.5L240.6 105L241 103.6L241.5 102L241.9 100.5L242.5 99L243 97.6L243.5 96.5L244.2 95L245 93.7L245.8 92.5L246.7 91.5L247.9 90.5L249 90L250.5 89.7L251.7 90L253 90.7L254 91.6L255 92.8L255.8 94L256.5 95.3L257.1 96.5L257.7 98L258.3 99.5L258.8 101L259.3 102.5L259.7 104L260.1 105.5L260.4 107L260.8 108.5L261 109.7L261.2 111L261.5 112.5L261.7 114L261.9 115.5L262.1 117L262.3 118.5L262.4 120L262.6 121.5L262.7 123L262.8 124.5L262.9 126L263 127.5L263 129L263.1 130.5L263.1 132L263.1 133.5L263.1 135L263.1 136.5L263.1 138L263.1 139.5L263.1 141L263.1 142.5L263 144L263 145.5L262.9 147L262.9 148.5L262.9 150L262.8 151.5L262.7 153L262.7 154.5L262.6 156L262.5 157.5L262.4 159L262.3 160.5L262.1 162L261.9 163.5L261.7 165L261.4 166.5L261.1 168L260.7 169.5L260.3 171L259.8 172.5L259.2 174L258.5 175.4L257.7 177L257 178L256 179.4L255 180.5L254 181.3L252.9 182L251.6 182.5M252 179.6L250.5 179.9L249 179.8L247.5 179.1L246.5 178.4L245.5 177.5L244.6 176.5L243.9 175.5L243 174L242.3 172.5L241.7 171L241.2 169.5L240.7 168L240.4 166.5L240.1 165L239.8 163.5L239.6 162L239.4 160.5L239.3 159L239.2 157.5L239.1 156L239 154.5L239 153L238.9 151.5L238.9 150L238.8 148.5L238.8 147L238.7 145.5L238.7 144L238.7 142.5L238.7 141L238.6 139.5L238.6 138L238.6 136.5L238.6 135L238.6 133.5L238.7 132L238.7 130.5L238.7 129L238.8 127.5L238.9 126L239 124.5L239.1 123L239.2 121.5L239.4 120L239.6 118.5L239.8 117L240 115.5L240.2 114L240.5 112.5L240.8 111L241 109.8L241.3 108.5L241.7 107L242 105.8L242.4 104.5L242.9 103L243.4 101.5L244 100.1L244.5 99L245.4 97.5L246.1 96.5L246.9 95.5L248 94.5L249.5 93.8L251 93.8L252.5 94.5L253.5 95.3L254.5 96.4L255.2 97.5L256 98.9L256.5 100L257.2 101.5L257.7 103L258.2 104.5L258.7 106L259 107.3L259.3 108.5L259.6 110L259.9 111.5L260.2 113L260.5 114.5L260.7 116L260.9 117.5L261.1 119L261.3 120.5L261.4 122L261.5 123.5L261.6 125L261.7 126.5L261.8 128L261.9 129.5L261.9 131L262 132.5L262 134L262 135.5L262 137L262 138.5L262 140L261.9 141.5L261.9 143L261.9 144.5L261.8 146L261.8 147.5L261.7 149L261.7 150.5L261.6 152L261.5 153.5L261.5 155L261.4 156.5L261.3 158L261.1 159.5L261 160.9L260.8 162.5L260.6 164L260.3 165.5L260 166.9L259.6 168.5L259.1 170L258.6 171.5L258 172.9L257.4 174L256.6 175.5L255.9 176.5L255 177.5L254 178.4L253 179.1M252 176.6L250.5 177L249 176.8L247.5 176.1L246.5 175.3L245.5 174.3L244.6 173L243.7 171.5L243 170L242.5 168.5L242 167L241.6 165.5L241.3 164L241.1 162.5L240.9 161L240.7 159.5L240.6 158L240.5 156.5L240.4 155L240.3 153.5L240.2 152L240.2 150.5L240.1 149L240.1 147.5L240 146L240 144.5L240 143L239.9 141.5L239.9 140L239.9 138.5L239.9 137L239.9 135.5L239.9 134L239.9 132.5L239.9 131L240 129.5L240.1 128L240.2 126.5L240.3 125L240.4 123.5L240.5 122L240.7 120.5L240.9 119L241.1 117.5L241.3 116L241.6 114.5L241.9 113L242.2 111.5L242.6 110L243 108.5L243.5 107L244 105.5L244.5 104.3L245 103.2L245.6 102L246.5 100.6L247.5 99.5L248.5 98.7L250 98.1L251.5 98.4L252.6 99L253.5 99.9L254.4 101L255 102L255.8 103.5L256.4 105L257 106.5L257.4 108L257.9 109.5L258.3 111L258.6 112.5L258.9 114L259.2 115.5L259.4 117L259.6 118.5L259.8 120L260 121.4L260.2 123L260.3 124.5L260.4 126L260.5 127.5L260.6 129L260.6 130.5L260.7 132L260.7 133.5L260.7 135L260.7 136.5L260.7 138L260.7 139.5L260.7 141L260.6 142.5L260.6 144L260.5 145.5L260.5 147L260.4 148.5L260.4 150L260.3 151.5L260.3 153L260.2 154.5L260.1 156L260 157.3L259.9 158.5L259.7 160L259.6 161.5L259.3 163L259 164.5L258.7 166L258.3 167.5L257.8 169L257.2 170.5L256.5 172L255.9 173L255.2 174L254.3 175L253.1 176L252 176.6M251 173.6L249.5 173.6L248 173L247 172.2L246 171.1L245.3 170L244.5 168.5L244 167.3L243.6 166L243.1 164.5L242.8 163L242.5 161.5L242.3 160L242.1 158.5L242 157L241.9 155.5L241.8 154L241.7 152.5L241.7 151L241.6 149.5L241.5 148L241.5 146.5L241.5 145L241.4 143.5L241.4 142L241.3 140.5L241.3 139L241.3 137.5L241.3 136L241.3 134.5L241.3 133L241.4 131.5L241.4 130L241.5 128.5L241.6 127L241.7 125.5L241.8 124L242 122.5L242.2 121L242.4 119.5L242.7 118L242.9 116.5L243.3 115L243.6 113.5L244 112.1L244.5 110.5L245 109.1L245.5 108L246 106.9L246.8 105.5L247.6 104.5L248.8 103.5L250 103.1L251.5 103.4L252.5 104L253.4 105L254.1 106L254.9 107.5L255.5 108.9L255.9 110L256.4 111.5L256.9 113L257.2 114.5L257.5 115.7L257.8 117L258 118.3L258.3 120L258.5 121.5L258.7 123L258.8 124.5L258.9 126L259 127.5L259.1 129L259.2 130.5L259.3 132L259.3 133.5L259.3 135L259.3 136.5L259.3 138L259.3 139.5L259.2 141L259.2 142.5L259.2 144L259.1 145.5L259.1 147L259 148.3L258.9 150L258.9 151.5L258.8 153L258.7 154.5L258.6 156L258.5 157.5L258.3 159L258.1 160.5L257.9 162L257.6 163.5L257.2 165L256.7 166.5L256.2 168L255.5 169.4L254.9 170.5L254.1 171.5L253.1 172.5L252 173.2M251 169.5L249.5 169.5L248.4 169L247.3 168L246.6 167L245.8 165.5L245.2 164L244.8 162.5L244.5 161.3L244.3 160L244 158.5L243.8 157L243.7 155.5L243.6 154L243.5 152.6L243.4 151L243.3 149.5L243.3 148L243.2 146.5L243.2 145L243.1 143.5L243.1 142L243 140.5L243 139L243 137.5L243 136L243 134.5L243 133L243 131.5L243.1 130L243.2 128.5L243.3 127L243.5 125.5L243.7 124L243.9 122.5L244.1 121L244.4 119.5L244.7 118L245.1 116.5L245.5 115.2L245.9 114L246.5 112.6L247.1 111.5L247.8 110.5L248.8 109.5L250 108.9L251.5 109.3L252.5 110.1L253.5 111.5L254.3 113L254.9 114.5L255.3 116L255.8 117.5L256.1 119L256.4 120.5L256.7 122L256.9 123.5L257.1 125L257.2 126.5L257.4 128L257.5 129.5L257.5 131L257.6 132.5L257.6 134L257.6 135.5L257.6 137L257.6 138.5L257.6 140L257.5 141.5L257.5 142.9L257.4 144.5L257.4 146L257.3 147.5L257.2 149L257.2 150.5L257.1 152L257 153.5L256.9 155L256.7 156.5L256.5 158L256.3 159.5L256.1 161L255.7 162.5L255.3 164L254.7 165.5L254 166.8L253.2 168L252.1 169M250.5 163.6L249 163.1L248.1 162L247.5 160.8L247 159.5L246.7 158L246.4 156.5L246.2 155L246 153.5L245.9 152L245.7 150.5L245.6 149L245.5 147.5L245.5 146L245.4 144.5L245.3 143L245.2 141.5L245.2 140L245.1 138.5L245.1 137L245.1 135.5L245.1 134L245.2 132.5L245.3 131L245.4 129.5L245.5 128L245.7 126.5L246 125L246.3 123.5L246.6 122L247 120.8L247.5 119.5L248.3 118L249.2 117L250.5 116.5L252 117.5L252.6 118.5L253.3 120L253.8 121.5L254.2 123L254.5 124.3L254.7 125.5L254.9 127L255.1 128.5L255.2 130L255.4 131.5L255.4 133L255.5 134.5L255.5 136L255.5 137.5L255.4 139L255.4 140.5L255.3 142L255.3 143.5L255.2 145L255.1 146.5L255 147.8L254.9 149.5L254.8 151L254.6 152.5L254.5 153.8L254.3 155L254.1 156.5L253.8 158L253.5 159.3L253.1 160.5L252.5 161.8L251.6 163L250.5 163.6" fill="none" stroke="#8c8c8c" stroke-width="0.8"/>
<path d="M409 82.5h1m15 0h1m3 0h1m1 0h1m2 0h1m3 0h1m3 0h1m8 0h1m3 0h1m6 0h1m23 0h1m45 0h1M439 83.5h1m11 0h1m5 0h1m39 0h1m1 0h1M408 84.5h1m28 0h1m4 0h1m7 0h1M415 85.5h1m14 0h1m9 0h1m8 0h1m33 0h2m82 0h1M408 86.5h2m1 0h1m26 0h1m1 0h1m12 0h1m10 0h1m12 0h1m18 0h1m12 0h1M382 87.5h1m18 0h1m13 0h1m18 0h1m3 0h1m1 0h2m8 0h1m4 0h1m1 0h1m67 0h1m6 0h1m10 0h1M400 88.5h1m7 0h1m3 0h2m4 0h1m13 0h1m1 0h1m4 0h2m5 0h1m2 0h1m16 0h1m3 0h1m4 0h1m30 0h2m10 0h1m24 0h1m7 0h1M406 89.5h1m2 0h2m10 0h1m9 0h3m2 0h1m1 0h1m6 0h1m3 0h1m14 0h2m5 0h1m10 0h1m3 0h1m18 0h1m50 0h1m10 0h1M405 90.5h1m4 0h3m9 0h2m1 0h2m7 0h1m8 0h1m4 0h1m7 0h1m8 0h1m1 0h1m4 0h1m9 0h1m26 0h1M413 91.5h1m2 0h1m5 0h1m4 0h1m4 0h1m1 0h2m11 0h1m2 0h1m8 0h1m8 0h1m1 0h1M410 92.5h1m7 0h1m6 0h1m2 0h1m7 0h1m5 0h1m2 0h1m5 0h1m4 0h2m13 0h1M392 93.5h1m10 0h1m4 0h1m13 0h1m3 0h1m1 0h1m4 0h4m1 0h1m1 0h1m1 0h1m16 0h1m49 0h1m1 0h1m13 0h1m31 0h1M384 94.5h1m13 0h1m6 0h1m7 0h1m6 0h1m2 0h2m1 0h1m4 0h1m3 0h1m8 0h1m8 0h1m1 0h1m17 0h1m20 0h1m12 0h1m30 0h1m6 0h1M396 95.5h1m1 0h1m1 0h1m11 0h1m5 0h1m1 0h1m5 0h1m2 0h1m3 0h1m2 0h2m1 0h1m3 0h3m2 0h1m6 0h1m4 0h1m1 0h1m5 0h2m8 0h1m37 0h1m16 0h1m2 0h1M416 96.5h1m1 0h1m1 0h1m15 0h2m1 0h1m1 0h2m1 0h2m6 0h1m6 0h1m3 0h1m12 0h1m19 0h1m3 0h1m53 0h1M397 97.5h1m2 0h1m7 0h1m3 0h1m4 0h1m2 0h1m6 0h3m1 0h1m1 0h1m5 0h1m2 0h4m4 0h2m2 0h1m4 0h1m6 0h2m6 0h1m53 0h2m4 0h1m8 0h1M369 98.5h1m16 0h1m14 0h1m2 0h1m6 0h1m5 0h1m1 0h2m8 0h4m5 0h2m5 0h1m4 0h2m1 0h2m1 0h1m6 0h1m4 0h2m2 0h1m2 0h1m6 0h1m16 0h1m6 0h1m10 0h1M352 99.5h1m47 0h1m6 0h2m3 0h1m7 0h3m3 0h1m1 0h4m1 0h1m2 0h1m1 0h1m7 0h1m6 0h1m7 0h1m1 0h1m14 0h1m3 0h1m4 0h1m18 0h1m9 0h1m49 0h1M395 100.5h1m6 0h1m1 0h1m3 0h1m1 0h1m1 0h3m2 0h1m4 0h2m3 0h1m1 0h2m1 0h3m3 0h1m2 0h1m2 0h1m3 0h4m1 0h1m2 0h1m18 0h1m1 0h1m7 0h1m15 0h1m2 0h1m21 0h1m8 0h1m3 0h1m21 0h1M395 101.5h2m8 0h1m1 0h1m3 0h1m3 0h1m1 0h3m5 0h1m2 0h3m1 0h1m1 0h1m1 0h1m9 0h1m1 0h1m4 0h1m8 0h1m8 0h1m4 0h1m22 0h1m3 0h1m41 0h1m1 0h1M391 102.5h1m16 0h2m1 0h3m5 0h4m1 0h1m1 0h2m2 0h1m1 0h1m2 0h2m2 0h6m2 0h2m1 0h1m1 0h1m1 0h2m11 0h1m28 0h1m23 0h1m20 0h1m5 0h1m6 0h1m5 0h1M396 103.5h1m6 0h1m5 0h1m6 0h1m1 0h1m3 0h1m3 0h2m2 0h4m2 0h2m3 0h1m1 0h1m4 0h1m1 0h1m1 0h1m1 0h1m8 0h1m2 0h1m3 0h1m1 0h1m1 0h1m4 0h2m6 0h1m8 0h1m12 0h1m7 0h1m11 0h1M395 104.5h1m5 0h1m1 0h1m2 0h2m1 0h1m3 0h1m2 0h1m2 0h2m2 0h1m1 0h1m5 0h1m1 0h1m5 0h1m3 0h2m1 0h1m6 0h2m1 0h1m2 0h1m2 0h1m4 0h1m3 0h1m14 0h1m6 0h2m3 0h1m10 0h1m12 0h1m3 0h1m37 0h1M389 105.5h1m4 0h1m3 0h1m9 0h4m1 0h1m1 0h1m1 0h1m1 0h2m2 0h1m1 0h3m1 0h2m1 0h1m1 0h4m2 0h3m1 0h5m1 0h1m1 0h1m1 0h2m5 0h1m2 0h1m37 0h1m4 0h1m2 0h1m23 0h1m8 0h1m13 0h1M390 106.5h1m10 0h3m3 0h1m1 0h1m1 0h2m1 0h2m4 0h1m5 0h10m1 0h1m1 0h1m1 0h2m3 0h1m1 0h3m4 0h1m2 0h2m1 0h1m29 0h1m1 0h1m4 0h2m10 0h1m1 0h1m18 0h1m15 0h1m2 0h2M394 107.5h1m2 0h1m10 0h4m1 0h1m4 0h4m1 0h2m1 0h1m1 0h2m1 0h4m1 0h1m1 0h1m1 0h1m2 0h2m1 0h1m1 0h1m3 0h1m1 0h1m1 0h1m2 0h1m3 0h2m1 0h1m1 0h1m2 0h1m1 0h1m1 0h1m27 0h1m2 0h1m6 0h1m24 0h1M390 108.5h1m2 0h1m15 0h1m1 0h4m4 0h1m1 0h1m1 0h1m1 0h1m1 0h8m2 0h3m1 0h3m1 0h4m1 0h1m4 0h1m3 0h2m9 0h1m5 0h1m18 0h1m1 0h1m3 0h1m13 0h1m1 0h2m7 0h1m4 0h1m12 0h1m5 0h1m8 0h1m11 0h1M386 109.5h1m9 0h1m2 0h1m10 0h1m4 0h1m3 0h2m1 0h2m1 0h1m1 0h13m1 0h1m1 0h1m2 0h1m1 0h3m1 0h3m1 0h2m1 0h2m2 0h1m3 0h2m5 0h2m47 0h1m5 0h1m3 0h1M391 110.5h1m6 0h2m4 0h4m4 0h1m3 0h3m4 0h4m3 0h1m1 0h7m1 0h4m1 0h11m1 0h3m1 0h2m3 0h3m3 0h3m9 0h1m3 0h1m3 0h1m3 0h1m2 0h1m12 0h1m3 0h1m1 0h1m1 0h1m2 0h1m3 0h1m3 0h2m5 0h1m9 0h1M402 111.5h1m3 0h3m2 0h3m1 0h6m1 0h3m1 0h5m1 0h2m3 0h4m1 0h1m1 0h3m1 0h3m3 0h1m2 0h2m2 0h3m4 0h1m1 0h1m3 0h3m1 0h1m15 0h1m3 0h1m10 0h1m1 0h1m7 0h1m2 0h1m6 0h1m7 0h1m4 0h2M373 112.5h1m11 0h1m15 0h1m1 0h1m3 0h1m1 0h1m1 0h2m1 0h1m1 0h1m2 0h1m1 0h5m5 0h2m1 0h1m2 0h2m1 0h2m1 0h5m1 0h4m1 0h3m4 0h1m1 0h1m3 0h1m2 0h1m2 0h1m1 0h2m8 0h1m15 0h2m2 0h1m3 0h1m2 0h1m7 0h1m2 0h1m7 0h1m1 0h1m4 0h1m2 0h1m7 0h1m13 0h1M370 113.5h1m19 0h2m5 0h1m10 0h3m1 0h1m2 0h3m1 0h2m3 0h1m1 0h1m1 0h4m4 0h19m2 0h2m1 0h1m3 0h1m3 0h2m1 0h1m3 0h2m1 0h1m18 0h1m8 0h1m14 0h1m6 0h1m6 0h1m4 0h1m3 0h1m2 0h1m1 0h1M388 114.5h1m3 0h4m7 0h4m4 0h1m2 0h2m1 0h1m1 0h2m1 0h11m1 0h4m1 0h2m1 0h5m1 0h5m2 0h1m1 0h2m1 0h1m1 0h1m1 0h2m2 0h1m3 0h1m9 0h1m13 0h1m1 0h1m5 0h1m2 0h1m4 0h1m2 0h1m2 0h1m14 0h2m16 0h1m6 0h2m2 0h1M387 115.5h1m7 0h1m6 0h1m1 0h1m2 0h1m1 0h4m1 0h4m1 0h16m2 0h3m1 0h3m1 0h1m1 0h2m1 0h1m2 0h2m1 0h2m1 0h3m8 0h1m1 0h1m3 0h1m2 0h3m18 0h1m2 0h1m12 0h1m2 0h1m1 0h1m1 0h1m3 0h2m5 0h1m2 0h1m8 0h1M397 116.5h2m3 0h5m1 0h5m1 0h5m1 0h2m1 0h3m1 0h1m1 0h5m1 0h1m1 0h8m2 0h3m1 0h4m1 0h2m2 0h4m1 0h2m3 0h1m25 0h1m2 0h3m4 0h2m10 0h1m1 0h1m1 0h3m10 0h1m2 0h2M393 117.5h1m8 0h1m1 0h1m5 0h1m3 0h3m1 0h4m1 0h1m2 0h4m1 0h4m2 0h4m1 0h1m1 0h1m1 0h3m1 0h1m1 0h6m1 0h4m3 0h2m1 0h1m4 0h1m6 0h1m18 0h1m2 0h2m1 0h3m5 0h4m8 0h1m7 0h1m3 0h2m10 0h1M394 118.5h1m1 0h1m1 0h1m1 0h1m4 0h1m1 0h4m3 0h2m1 0h3m2 0h2m2 0h5m1 0h9m2 0h1m1 0h4m1 0h7m1 0h6m1 0h1m1 0h3m2 0h1m1 0h1m1 0h1m5 0h2m10 0h1m4 0h2m3 0h1m5 0h2m2 0h1m1 0h2m4 0h1m3 0h1m2 0h2m2 0h1m3 0h1m5 0h1m10 0h1M378 119.5h1m11 0h1m1 0h1m5 0h1m2 0h1m3 0h4m1 0h6m1 0h8m2 0h5m1 0h2m1 0h4m1 0h4m2 0h1m1 0h4m1 0h3m1 0h5m1 0h3m2 0h3m1 0h2m8 0h1m2 0h1m2 0h1m13 0h1m3 0h1m4 0h1m1 0h1m1 0h1m2 0h1m2 0h1m3 0h1m7 0h3m6 0h2m2 0h1m7 0h1m11 0h1M351 120.5h1m24 0h1m2 0h2m9 0h1m5 0h1m5 0h1m1 0h2m5 0h3m1 0h1m1 0h10m2 0h1m1 0h13m1 0h4m1 0h1m1 0h8m1 0h3m1 0h4m2 0h4m3 0h1m1 0h1m2 0h1m6 0h1m1 0h1m4 0h1m4 0h1m4 0h1m2 0h3m2 0h1m1 0h4m3 0h1m1 0h2m2 0h1m3 0h1m5 0h1m4 0h1m2 0h2M391 121.5h1m2 0h1m1 0h2m4 0h1m1 0h2m1 0h2m1 0h1m4 0h2m1 0h4m3 0h2m1 0h2m11 0h3m1 0h1m1 0h3m1 0h2m1 0h2m1 0h1m1 0h1m1 0h2m2 0h5m1 0h1m1 0h2m2 0h1m17 0h1m5 0h5m4 0h1m12 0h2m4 0h2m8 0h1m3 0h1m1 0h2m1 0h1M377 122.5h1m11 0h1m4 0h2m4 0h1m2 0h1m2 0h2m1 0h3m1 0h3m1 0h5m1 0h2m1 0h2m15 0h4m1 0h1m1 0h10m2 0h2m1 0h1m1 0h1m4 0h1m2 0h1m7 0h1m4 0h1m1 0h2m1 0h1m8 0h1m1 0h2m1 0h1m6 0h1m1 0h1m3 0h1m1 0h1m3 0h2m5 0h1m7 0h1m18 0h1m7 0h1M372 123.5h1m15 0h2m6 0h1m2 0h3m1 0h3m1 0h6m2 0h6m1 0h4m20 0h14m1 0h2m1 0h2m2 0h2m2 0h2m7 0h2m4 0h2m3 0h1m2 0h1m4 0h1m8 0h1m2 0h1m1 0h1m3 0h1m6 0h2m1 0h3m7 0h1m2 0h1m2 0h1m4 0h1m2 0h1m20 0h1M383 124.5h1m9 0h2m1 0h1m1 0h2m2 0h1m1 0h6m1 0h9m1 0h1m1 0h1m22 0h8m2 0h1m1 0h1m1 0h1m1 0h5m1 0h1m3 0h3m2 0h1m1 0h1m3 0h1m1 0h1m3 0h1m3 0h1m3 0h1m3 0h2m1 0h1m6 0h1m4 0h2m4 0h2m1 0h1m1 0h1m1 0h1m4 0h3m3 0h1m1 0h1m8 0h1M379 125.5h1m10 0h2m3 0h1m3 0h1m1 0h4m2 0h1m2 0h3m1 0h4m1 0h4m24 0h1m1 0h8m1 0h7m1 0h1m1 0h1m3 0h2m1 0h1m1 0h1m3 0h1m4 0h1m3 0h2m1 0h1m1 0h3m1 0h4m1 0h1m2 0h1m1 0h1m1 0h2m3 0h3m1 0h1m2 0h4m1 0h1m2 0h3m2 0h2m3 0h1m10 0h2m6 0h1M385 126.5h1m5 0h1m2 0h2m1 0h1m1 0h1m1 0h2m1 0h1m3 0h2m1 0h1m2 0h5m30 0h3m1 0h4m1 0h4m1 0h1m1 0h7m2 0h4m1 0h1m1 0h1m10 0h1m4 0h1m2 0h2m4 0h3m5 0h1m1 0h6m3 0h1m1 0h2m1 0h1m4 0h1m6 0h1m7 0h1m4 0h2M385 127.5h1m8 0h1m1 0h2m1 0h3m1 0h1m1 0h1m2 0h4m2 0h7m29 0h4m1 0h4m1 0h3m1 0h6m2 0h1m1 0h1m4 0h1m6 0h1m1 0h1m2 0h2m2 0h1m7 0h3m1 0h1m3 0h1m2 0h2m3 0h5m2 0h2m2 0h1m1 0h1m1 0h1m2 0h1m3 0h2m2 0h1m10 0h1M354 128.5h1m39 0h1m3 0h2m1 0h3m1 0h1m1 0h3m1 0h1m1 0h1m1 0h1m2 0h2m32 0h4m1 0h4m1 0h2m2 0h2m1 0h1m1 0h3m2 0h3m1 0h2m7 0h4m4 0h1m6 0h2m3 0h5m1 0h2m1 0h4m2 0h1m2 0h2m1 0h3m3 0h1m2 0h2m20 0h1M382 129.5h1m16 0h2m2 0h1m1 0h9m1 0h3m34 0h3m2 0h4m1 0h2m1 0h2m4 0h1m1 0h3m1 0h2m9 0h1m2 0h3m1 0h3m3 0h3m2 0h1m2 0h2m1 0h3m1 0h1m1 0h1m1 0h7m1 0h2m1 0h1m2 0h2m7 0h2m5 0h1M385 130.5h1m3 0h2m2 0h2m1 0h1m1 0h2m1 0h1m2 0h2m6 0h7m33 0h4m4 0h1m2 0h5m2 0h2m3 0h1m2 0h1m4 0h1m5 0h1m2 0h1m1 0h2m2 0h1m2 0h1m3 0h4m2 0h6m2 0h3m1 0h1m1 0h1m1 0h1m1 0h1m2 0h2m1 0h1m1 0h3m11 0h1m16 0h1M370 131.5h1m10 0h1m8 0h1m2 0h4m1 0h2m2 0h2m1 0h5m1 0h5m1 0h1m35 0h3m1 0h2m1 0h3m1 0h9m1 0h2m1 0h1m1 0h1m1 0h1m2 0h1m2 0h1m3 0h2m2 0h2m3 0h2m3 0h1m3 0h1m1 0h2m1 0h4m1 0h7m1 0h1m1 0h1m3 0h1m5 0h2m14 0h1M386 132.5h1m4 0h1m3 0h2m2 0h3m2 0h1m2 0h4m1 0h2m2 0h1m37 0h2m2 0h2m1 0h3m1 0h6m2 0h1m3 0h1m4 0h2m1 0h1m2 0h3m2 0h1m1 0h3m1 0h3m2 0h4m1 0h7m1 0h1m1 0h4m1 0h4m1 0h3m2 0h3m3 0h5m6 0h2m2 0h1m1 0h1M346 133.5h1m33 0h1m2 0h2m7 0h2m5 0h1m3 0h1m1 0h5m1 0h2m3 0h1m38 0h1m1 0h7m1 0h1m2 0h1m1 0h2m2 0h1m1 0h1m4 0h1m3 0h1m1 0h1m1 0h2m6 0h1m3 0h1m2 0h3m3 0h1m1 0h3m2 0h4m1 0h1m1 0h4m1 0h5m1 0h1m2 0h1m1 0h2m5 0h1m4 0h1m5 0h1m2 0h1m3 0h1M376 134.5h2m12 0h1m1 0h1m3 0h3m2 0h2m1 0h3m2 0h4m1 0h2m41 0h4m2 0h3m2 0h3m1 0h3m4 0h1m12 0h3m4 0h1m2 0h18m1 0h2m1 0h2m1 0h2m1 0h1m1 0h2m1 0h1m2 0h2m1 0h2m6 0h1m13 0h1M365 135.5h1m12 0h1m8 0h1m1 0h1m7 0h2m1 0h6m1 0h2m6 0h1m40 0h2m1 0h11m3 0h1m1 0h3m1 0h1m6 0h2m1 0h3m3 0h1m1 0h1m3 0h8m2 0h1m4 0h4m1 0h3m1 0h4m1 0h4m5 0h1m5 0h1m2 0h2m2 0h1m7 0h1M371 136.5h1m4 0h1m9 0h1m2 0h1m4 0h1m1 0h1m2 0h1m1 0h2m3 0h4m1 0h4m42 0h3m1 0h1m1 0h3m1 0h5m1 0h1m1 0h1m3 0h1m4 0h2m4 0h1m3 0h2m1 0h5m2 0h4m3 0h5m2 0h5m4 0h3m1 0h2m2 0h1m3 0h3m2 0h1m1 0h1m14 0h1M376 137.5h1m1 0h1m10 0h1m4 0h2m1 0h2m1 0h12m1 0h1m43 0h1m1 0h11m2 0h2m3 0h1m1 0h2m6 0h1m1 0h1m1 0h1m4 0h1m1 0h4m1 0h3m1 0h2m1 0h2m1 0h1m1 0h9m1 0h3m2 0h3m1 0h1m2 0h1m6 0h1m2 0h2m1 0h1m14 0h1M371 138.5h1m8 0h2m1 0h1m2 0h3m1 0h1m3 0h1m2 0h5m1 0h5m1 0h1m1 0h2m45 0h7m1 0h2m1 0h1m1 0h5m2 0h2m3 0h1m5 0h3m2 0h2m1 0h2m1 0h10m1 0h3m1 0h2m1 0h1m2 0h1m2 0h3m3 0h5m2 0h2m1 0h2m1 0h1m2 0h1m4 0h1m6 0h1m7 0h1m1 0h1M368 139.5h1m10 0h1m7 0h3m3 0h6m1 0h1m4 0h9m44 0h1m1 0h7m1 0h1m1 0h5m4 0h1m3 0h3m1 0h1m2 0h1m1 0h1m1 0h4m1 0h3m1 0h2m1 0h1m1 0h2m1 0h3m1 0h4m1 0h2m1 0h3m1 0h1m1 0h2m4 0h2m1 0h1m4 0h2m4 0h1m1 0h1m4 0h1M383 140.5h1m7 0h1m1 0h1m1 0h2m1 0h2m1 0h3m1 0h1m1 0h6m46 0h5m1 0h3m1 0h1m1 0h3m2 0h5m3 0h1m1 0h1m1 0h1m1 0h2m3 0h5m2 0h1m1 0h5m1 0h2m1 0h6m1 0h4m3 0h2m2 0h1m1 0h2m1 0h1m3 0h1m2 0h1m1 0h1m13 0h1M377 141.5h1m10 0h1m7 0h1m1 0h4m1 0h1m1 0h1m2 0h3m48 0h3m2 0h1m1 0h1m1 0h3m1 0h2m3 0h1m2 0h2m1 0h1m1 0h1m2 0h2m1 0h10m1 0h5m3 0h1m1 0h3m1 0h3m1 0h6m1 0h9m1 0h1m10 0h1m1 0h3m3 0h1m3 0h1M364 142.5h1m7 0h1m13 0h1m4 0h2m3 0h1m2 0h1m3 0h3m2 0h2m1 0h1m48 0h1m3 0h3m1 0h4m1 0h1m1 0h1m1 0h1m1 0h1m1 0h1m2 0h1m3 0h2m3 0h1m1 0h12m1 0h4m1 0h1m1 0h4m1 0h8m1 0h3m1 0h3m2 0h2m4 0h2m1 0h1m4 0h1m7 0h2m2 0h2M376 143.5h1m9 0h1m3 0h3m1 0h3m1 0h3m1 0h3m1 0h6m49 0h5m1 0h2m1 0h3m1 0h2m2 0h1m2 0h1m1 0h1m3 0h2m2 0h1m1 0h5m2 0h4m1 0h2m1 0h1m1 0h1m1 0h2m5 0h11m2 0h2m1 0h1m1 0h2m1 0h2m2 0h1m6 0h1m5 0h1m1 0h1m4 0h1m5 0h1M379 144.5h1m5 0h1m1 0h1m4 0h1m4 0h1m6 0h3m1 0h4m49 0h7m1 0h1m1 0h8m5 0h1m4 0h2m1 0h1m1 0h3m2 0h2m1 0h1m5 0h2m2 0h1m7 0h2m1 0h3m3 0h6m3 0h6m1 0h3m5 0h1m1 0h1M375 145.5h1m10 0h1m5 0h1m1 0h3m2 0h2m1 0h2m1 0h2m2 0h1m51 0h1m1 0h3m2 0h3m1 0h1m1 0h1m1 0h1m3 0h1m1 0h1m5 0h2m1 0h1m1 0h2m1 0h3m1 0h1m3 0h1m4 0h1m11 0h5m1 0h4m1 0h3m2 0h3m1 0h2m7 0h1m2 0h1m3 0h1M366 146.5h1m26 0h1m1 0h1m1 0h1m3 0h6m2 0h2m51 0h5m1 0h5m2 0h6m3 0h2m4 0h1m1 0h1m1 0h3m1 0h1m2 0h4m1 0h4m14 0h1m3 0h3m1 0h2m1 0h4m2 0h1m3 0h1M388 147.5h1m1 0h1m1 0h1m2 0h1m1 0h2m1 0h3m3 0h1m1 0h2m52 0h1m1 0h7m1 0h4m1 0h1m1 0h2m1 0h2m3 0h2m1 0h5m1 0h5m1 0h3m1 0h3m13 0h3m2 0h2m1 0h3m1 0h2m1 0h1m2 0h1m1 0h5m1 0h1m6 0h1m3 0h2M373 148.5h1m5 0h1m5 0h2m2 0h1m2 0h1m2 0h2m2 0h1m1 0h2m2 0h5m53 0h3m1 0h4m2 0h7m1 0h2m1 0h1m1 0h1m2 0h2m1 0h3m3 0h8m1 0h2m13 0h6m1 0h2m1 0h3m1 0h3m2 0h2m3 0h2m8 0h2m5 0h2M380 149.5h1m3 0h1m1 0h3m2 0h2m1 0h1m1 0h2m5 0h2m2 0h3m53 0h2m1 0h1m1 0h3m1 0h2m1 0h3m2 0h2m1 0h2m1 0h4m1 0h11m1 0h1m3 0h1m16 0h4m1 0h9m3 0h4m5 0h2m6 0h1M383 150.5h1m3 0h1m2 0h2m1 0h5m3 0h2m3 0h4m53 0h2m1 0h11m1 0h4m2 0h1m3 0h1m2 0h6m1 0h2m2 0h2m1 0h2m16 0h1m2 0h3m2 0h1m1 0h4m1 0h1m12 0h1m12 0h1m1 0h1M373 151.5h1m10 0h1m2 0h2m3 0h4m1 0h1m2 0h1m1 0h3m1 0h2m1 0h1m53 0h2m1 0h4m1 0h11m1 0h2m3 0h4m1 0h3m1 0h9m17 0h7m1 0h4m1 0h4m2 0h2m1 0h1m2 0h1m5 0h1m10 0h1M384 152.5h1m7 0h1m1 0h8m1 0h2m1 0h4m54 0h10m2 0h1m5 0h1m2 0h3m3 0h8m3 0h3m20 0h10m1 0h2m1 0h2m1 0h1m3 0h1m1 0h1m1 0h2m13 0h1M374 153.5h1m8 0h1m6 0h4m1 0h2m3 0h1m1 0h2m2 0h1m2 0h1m55 0h3m3 0h2m1 0h8m1 0h4m1 0h1m1 0h2m1 0h1m1 0h1m1 0h3m1 0h1m1 0h2m19 0h1m1 0h1m1 0h2m2 0h1m1 0h2m1 0h2m1 0h2m1 0h4m5 0h2m10 0h1M349 154.5h1m5 0h1m5 0h1m16 0h1m1 0h1m5 0h1m4 0h4m1 0h1m2 0h1m1 0h6m58 0h7m1 0h2m1 0h7m1 0h1m1 0h1m1 0h4m1 0h3m1 0h1m1 0h2m1 0h1m1 0h1m19 0h1m1 0h2m1 0h3m1 0h6m2 0h2m1 0h1m1 0h1m5 0h2m4 0h1M376 155.5h1m2 0h1m5 0h1m6 0h1m3 0h1m2 0h5m2 0h3m57 0h7m1 0h1m1 0h3m1 0h4m1 0h2m1 0h4m1 0h2m1 0h8m20 0h2m1 0h3m1 0h7m1 0h4m1 0h1m6 0h2m1 0h1M350 156.5h1m3 0h1m2 0h1m17 0h1m14 0h5m1 0h2m1 0h4m1 0h2m1 0h2m57 0h1m2 0h7m1 0h1m1 0h2m1 0h14m1 0h2m2 0h1m1 0h1m21 0h1m3 0h1m1 0h2m3 0h3m1 0h2m3 0h2m13 0h1M364 157.5h1m4 0h1m11 0h1m7 0h3m2 0h2m4 0h3m1 0h3m1 0h1m56 0h3m1 0h7m1 0h5m3 0h11m1 0h5m22 0h8m1 0h6m1 0h3m1 0h1m8 0h2m7 0h1m4 0h1M345 158.5h1m39 0h2m4 0h1m1 0h1m1 0h2m3 0h1m2 0h4m58 0h1m1 0h2m1 0h2m1 0h1m2 0h5m1 0h1m2 0h2m1 0h1m1 0h9m25 0h5m1 0h2m1 0h3m1 0h6m1 0h1m3 0h4m1 0h1m3 0h1m4 0h1M346 159.5h1m29 0h1m4 0h1m5 0h3m2 0h1m2 0h4m1 0h1m1 0h6m60 0h3m2 0h1m1 0h1m1 0h4m3 0h2m1 0h1m1 0h4m1 0h1m1 0h1m1 0h4m22 0h11m1 0h3m1 0h3m1 0h3m12 0h1m5 0h1M384 160.5h3m2 0h3m2 0h9m1 0h2m61 0h3m2 0h1m1 0h1m2 0h3m1 0h3m1 0h1m2 0h6m1 0h3m1 0h3m22 0h2m1 0h4m1 0h1m1 0h5m1 0h2m2 0h2m3 0h1m2 0h1m8 0h1M379 161.5h1m6 0h1m2 0h1m1 0h4m2 0h1m1 0h7m1 0h1m58 0h4m2 0h5m2 0h3m3 0h8m1 0h2m1 0h3m25 0h4m1 0h7m1 0h1m1 0h1m2 0h1m2 0h1m1 0h1m7 0h1M364 162.5h1m3 0h1m8 0h2m4 0h1m2 0h2m1 0h2m3 0h1m1 0h3m1 0h1m2 0h1m2 0h2m58 0h3m1 0h3m1 0h2m1 0h3m1 0h2m2 0h5m1 0h3m1 0h1m1 0h1m1 0h1m24 0h4m1 0h5m1 0h1m1 0h3m1 0h2m1 0h1m4 0h1m7 0h1M365 163.5h1m9 0h1m3 0h1m3 0h2m3 0h2m2 0h7m5 0h3m61 0h5m2 0h2m1 0h1m1 0h1m1 0h1m1 0h10m1 0h1m1 0h1m1 0h1m25 0h7m1 0h2m1 0h7m5 0h2m1 0h2M359 164.5h1m13 0h1m10 0h1m1 0h1m3 0h1m1 0h1m2 0h3m2 0h4m1 0h2m60 0h4m1 0h1m2 0h4m1 0h1m1 0h1m1 0h1m4 0h1m1 0h1m2 0h5m25 0h6m1 0h2m1 0h2m3 0h2m1 0h1m3 0h1m14 0h2m5 0h1M365 165.5h1m6 0h1m5 0h1m2 0h1m3 0h1m3 0h1m1 0h8m3 0h5m60 0h1m2 0h11m1 0h4m1 0h1m1 0h5m1 0h2m1 0h1m26 0h3m1 0h3m1 0h4m2 0h5m3 0h1m1 0h1m4 0h1m2 0h1M359 166.5h1m11 0h1m2 0h1m9 0h3m1 0h1m3 0h1m1 0h1m1 0h5m1 0h1m1 0h1m62 0h4m1 0h1m2 0h2m3 0h3m1 0h2m1 0h1m3 0h3m1 0h2m1 0h1m25 0h4m1 0h2m1 0h2m4 0h1m2 0h2m4 0h2M347 167.5h1m15 0h1m6 0h1m3 0h1m4 0h1m5 0h1m3 0h4m1 0h1m1 0h5m1 0h4m62 0h3m1 0h1m1 0h3m3 0h1m1 0h5m1 0h4m2 0h1m1 0h2m27 0h4m1 0h1m2 0h6m1 0h1m2 0h1m2 0h1m5 0h3m4 0h1m14 0h1M355 168.5h1m1 0h1m14 0h1m11 0h1m4 0h5m2 0h3m1 0h2m1 0h1m1 0h1m63 0h4m2 0h1m1 0h2m2 0h3m1 0h3m1 0h2m1 0h6m26 0h6m2 0h5m1 0h4m11 0h1m1 0h1m10 0h1M357 169.5h1m10 0h1m8 0h3m6 0h1m1 0h4m1 0h2m3 0h2m2 0h1m1 0h1m63 0h3m2 0h4m2 0h1m1 0h1m1 0h11m1 0h2m26 0h3m1 0h1m1 0h2m1 0h2m1 0h2m1 0h7m2 0h1m4 0h1m1 0h1m3 0h1m2 0h1M366 170.5h3m1 0h1m8 0h1m2 0h3m6 0h1m1 0h3m3 0h2m2 0h2m64 0h1m1 0h3m1 0h1m1 0h1m2 0h10m1 0h2m1 0h1m28 0h2m1 0h2m1 0h7m1 0h1m3 0h2m1 0h1m3 0h1M365 171.5h1m5 0h1m3 0h1m6 0h1m2 0h2m5 0h4m1 0h2m2 0h2m1 0h1m65 0h1m3 0h5m2 0h7m1 0h8m26 0h1m1 0h3m1 0h4m1 0h4m3 0h1m1 0h2m5 0h1m1 0h1m1 0h1m4 0h1m2 0h1m1 0h1M350 172.5h2m32 0h1m1 0h9m1 0h1m3 0h2m1 0h1m67 0h5m1 0h10m2 0h1m1 0h6m26 0h5m5 0h1m2 0h4m5 0h2m4 0h2m13 0h1M369 173.5h1m3 0h1m5 0h2m1 0h1m1 0h2m1 0h2m1 0h1m1 0h6m1 0h1m1 0h1m1 0h1m67 0h2m2 0h1m1 0h2m2 0h15m27 0h6m1 0h1m3 0h2m1 0h5m1 0h1m4 0h2m6 0h1m6 0h1m4 0h1M347 174.5h1m5 0h1m12 0h1m8 0h2m4 0h1m1 0h4m1 0h1m3 0h3m2 0h3m72 0h1m2 0h1m2 0h8m1 0h2m2 0h5m27 0h3m3 0h3m1 0h5m1 0h1m2 0h2m1 0h1m1 0h1m23 0h1M350 175.5h1m8 0h1m5 0h1m5 0h1m1 0h1m6 0h1m1 0h2m3 0h1m1 0h2m2 0h2m1 0h3m75 0h3m4 0h2m1 0h5m2 0h1m1 0h2m28 0h6m2 0h2m1 0h4m4 0h2m4 0h1m11 0h1m4 0h2m3 0h1M355 176.5h1m10 0h1m4 0h1m3 0h1m2 0h1m2 0h1m3 0h2m4 0h3m3 0h1m1 0h2m73 0h1m2 0h3m2 0h4m1 0h8m27 0h4m1 0h4m3 0h2m1 0h4m18 0h1m5 0h1m3 0h1M358 177.5h1m1 0h1m1 0h2m4 0h1m4 0h2m2 0h1m2 0h1m1 0h1m2 0h2m1 0h7m4 0h1m76 0h4m2 0h2m1 0h5m3 0h1m29 0h6m1 0h1m1 0h3m3 0h1m1 0h2m3 0h1m1 0h1m2 0h1M370 178.5h1m3 0h3m3 0h2m1 0h2m3 0h1m1 0h1m4 0h4m79 0h1m1 0h2m1 0h6m1 0h3m30 0h4m1 0h6m1 0h2m14 0h1m1 0h1m4 0h1M365 179.5h1m6 0h1m1 0h1m1 0h1m1 0h1m1 0h3m1 0h1m1 0h2m1 0h1m1 0h2m1 0h2m1 0h3m81 0h3m1 0h2m3 0h2m30 0h4m1 0h1m1 0h6m1 0h2m2 0h1m1 0h1m4 0h1m1 0h1m6 0h1m13 0h1M345 180.5h1m1 0h2m21 0h1m1 0h1m1 0h2m2 0h2m1 0h1m1 0h3m1 0h2m3 0h2m1 0h1m1 0h1m88 0h2m1 0h2m31 0h1m1 0h10m2 0h1m2 0h1m1 0h3m1 0h1m5 0h1m4 0h1m6 0h1M356 181.5h2m7 0h2m3 0h3m4 0h1m1 0h1m1 0h3m2 0h6m1 0h2m1 0h2m125 0h2m2 0h1m1 0h1m1 0h1m2 0h1m2 0h1m2 0h1m1 0h1m2 0h1m8 0h2m3 0h1M355 182.5h1m1 0h1m4 0h1m8 0h1m2 0h1m2 0h2m3 0h1m1 0h1m1 0h2m1 0h2m1 0h4m126 0h2m3 0h1m3 0h2m2 0h1m3 0h1m2 0h1m2 0h1m1 0h1m18 0h1M357 183.5h1m6 0h1m10 0h2m2 0h1m2 0h1m2 0h4m1 0h2m1 0h3m125 0h2m1 0h7m2 0h3m1 0h1m1 0h3m4 0h2m2 0h3M348 184.5h1m1 0h1m13 0h1m1 0h1m7 0h1m1 0h1m1 0h2m1 0h1m3 0h1m1 0h5m129 0h2m1 0h4m1 0h4m1 0h3m1 0h1m1 0h1m1 0h1m3 0h2m1 0h1m4 0h1m2 0h1m7 0h1M345 185.5h1m2 0h1m8 0h1m2 0h2m7 0h1m5 0h4m1 0h2m1 0h1m3 0h5m1 0h1m130 0h6m2 0h2m1 0h2m2 0h1m1 0h1m1 0h1m5 0h1m5 0h1M368 186.5h1m4 0h1m1 0h15m130 0h1m1 0h1m1 0h6m1 0h1m3 0h1m14 0h3M367 187.5h1m4 0h1m2 0h1m1 0h2m2 0h1m2 0h5m131 0h3m2 0h1m1 0h2m1 0h1m4 0h2m2 0h1m1 0h3m1 0h1m3 0h1m11 0h1m4 0h1M364 188.5h1m2 0h5m1 0h1m2 0h2m1 0h2m2 0h2m1 0h4m130 0h1m1 0h2m1 0h3m1 0h3m2 0h2m2 0h1m3 0h1m7 0h1M354 189.5h1m11 0h2m1 0h1m4 0h2m1 0h3m1 0h2m1 0h3m133 0h4m1 0h1m2 0h1m1 0h2m1 0h2m2 0h2m2 0h1m1 0h1m4 0h1M364 190.5h2m6 0h1m4 0h1m1 0h5m3 0h3m129 0h6m2 0h3m2 0h1m8 0h1m2 0h1m5 0h2m20 0h1M347 191.5h1m3 0h1m5 0h1m3 0h1m2 0h2m2 0h2m2 0h1m1 0h4m1 0h4m1 0h1m2 0h2m130 0h4m2 0h3m3 0h1m1 0h1m1 0h2m9 0h1m3 0h1m6 0h1M347 192.5h1m1 0h1m6 0h1m2 0h2m3 0h5m1 0h3m1 0h6m1 0h2m1 0h3m132 0h12m1 0h2m2 0h1M357 193.5h1m4 0h1m3 0h1m2 0h1m2 0h1m1 0h1m1 0h4m1 0h4m1 0h1m132 0h4m2 0h2m1 0h1m1 0h4m5 0h1m6 0h1m1 0h1m16 0h1M347 194.5h1m5 0h1m3 0h2m2 0h1m1 0h2m5 0h1m1 0h7m1 0h1m1 0h2m1 0h1m133 0h1m1 0h2m1 0h6m2 0h2m3 0h1m1 0h2m1 0h1m8 0h1M345 195.5h1m2 0h1m12 0h1m1 0h1m2 0h1m1 0h7m2 0h4m1 0h3m133 0h1m1 0h1m1 0h9m2 0h1m1 0h1m7 0h1m29 0h1M348 196.5h1m8 0h1m6 0h1m1 0h2m1 0h2m2 0h6m2 0h1m1 0h1m134 0h1m1 0h1m2 0h2m1 0h4m1 0h1m1 0h3m8 0h1M348 197.5h1m10 0h1m2 0h1m4 0h1m3 0h2m1 0h3m4 0h3m135 0h5m2 0h1m6 0h1m1 0h2m2 0h1m1 0h1m10 0h1m13 0h2M352 198.5h1m5 0h3m3 0h2m1 0h1m2 0h3m1 0h1m3 0h1m1 0h1m1 0h1m135 0h2m1 0h1m1 0h8m3 0h1m3 0h1m1 0h1m4 0h1m9 0h1M354 199.5h1m10 0h1m3 0h2m3 0h3m1 0h4m136 0h5m2 0h1m2 0h1m2 0h1m1 0h1m31 0h1M363 200.5h4m1 0h7m1 0h5m137 0h2m1 0h5m3 0h1m3 0h2m3 0h1m1 0h1M348 201.5h1m9 0h1m7 0h2m1 0h2m1 0h1m1 0h1m1 0h5m137 0h3m1 0h3m1 0h3m1 0h2m6 0h1m4 0h2m8 0h1M351 202.5h1m3 0h3m1 0h1m1 0h2m2 0h3m1 0h1m2 0h1m2 0h5m138 0h1m1 0h2m3 0h1m1 0h1m3 0h1m3 0h1m9 0h1m1 0h2M346 203.5h1m12 0h1m3 0h2m1 0h1m1 0h2m1 0h3m1 0h1m1 0h3m138 0h2m1 0h1m2 0h4m2 0h1m3 0h2m16 0h1M346 204.5h1m6 0h2m5 0h1m2 0h1m1 0h1m1 0h2m1 0h1m2 0h4m1 0h1m139 0h1m1 0h2m3 0h1m3 0h1m1 0h1m2 0h1m7 0h1m4 0h1m1 0h1m11 0h1m10 0h1M348 205.5h1m8 0h2m2 0h3m1 0h3m1 0h2m1 0h1m1 0h2m1 0h1m142 0h1m1 0h2m8 0h1m1 0h1m7 0h1m11 0h1m4 0h1M353 206.5h2m2 0h2m5 0h1m1 0h2m1 0h3m1 0h3m1 0h1m140 0h1m4 0h1m1 0h4m1 0h1m1 0h2m2 0h2m1 0h1m1 0h2m4 0h1m1 0h1M352 207.5h1m5 0h1m1 0h1m3 0h1m2 0h2m3 0h3m1 0h1m142 0h2m1 0h6m2 0h2m1 0h1m3 0h3m2 0h1m3 0h1m2 0h1m2 0h1M355 208.5h1m5 0h1m4 0h3m1 0h6m144 0h2m1 0h1m5 0h2m1 0h2m1 0h2m2 0h2m1 0h1m5 0h1m9 0h1m8 0h1M346 209.5h2m10 0h2m1 0h3m1 0h4m2 0h1m1 0h3m144 0h2m1 0h1m1 0h7m2 0h1m2 0h1m2 0h1m4 0h1m4 0h1m4 0h1M350 210.5h1m5 0h2m3 0h1m1 0h3m2 0h2m1 0h3m146 0h4m1 0h4m2 0h3m1 0h1m2 0h3m7 0h1m8 0h1M346 211.5h1m7 0h2m5 0h3m1 0h7m1 0h2m146 0h1m1 0h1m1 0h4m1 0h4m11 0h1m1 0h1m9 0h1M353 212.5h1m5 0h1m2 0h1m1 0h9m149 0h2m3 0h1m3 0h2m3 0h1m1 0h2m8 0h1m6 0h1m1 0h1M345 213.5h1m7 0h4m2 0h1m2 0h6m3 0h3m148 0h1m1 0h7m1 0h2m2 0h1m1 0h1m3 0h1m1 0h1m6 0h1m3 0h1M353 214.5h1m4 0h3m1 0h2m2 0h1m1 0h1m2 0h1m151 0h4m2 0h4m3 0h3m1 0h1m2 0h2m9 0h1M357 215.5h1m5 0h4m1 0h2m1 0h1m152 0h4m4 0h2m1 0h1m3 0h1m9 0h1M350 216.5h1m4 0h1m2 0h1m1 0h4m1 0h5m1 0h1m154 0h1m1 0h3m2 0h2m4 0h1M355 217.5h2m3 0h3m1 0h6m156 0h4m1 0h5m1 0h1m4 0h1m5 0h1M346 218.5h1m7 0h1m4 0h3m1 0h1m1 0h4m1 0h1m155 0h4m2 0h5m1 0h6m2 0h1m2 0h1m1 0h1M351 219.5h1m2 0h1m3 0h6m1 0h3m1 0h1m157 0h6m1 0h1m1 0h3m3 0h2m2 0h1m2 0h2m7 0h1M358 220.5h3m1 0h2m2 0h2m2 0h1m156 0h2m1 0h5m2 0h2m2 0h1m6 0h3m1 0h2M345 221.5h1m2 0h2m8 0h1m1 0h7m1 0h2m160 0h9m2 0h1m2 0h1m8 0h1M353 222.5h1m4 0h1m1 0h6m1 0h2m160 0h1m1 0h1m1 0h2m1 0h1m1 0h1m1 0h1m1 0h1m1 0h1m1 0h1M357 223.5h2m1 0h7m1 0h2m159 0h2m1 0h5m1 0h1m1 0h1m1 0h1m1 0h2m5 0h1m1 0h1M347 224.5h1m5 0h1m1 0h1m1 0h1m1 0h1m1 0h3m1 0h1m1 0h2m161 0h3m1 0h1m3 0h2m1 0h1m2 0h1m1 0h2M353 225.5h4m3 0h1m2 0h1m1 0h1m1 0h2m162 0h2m1 0h2m2 0h2m6 0h2M345 226.5h1m8 0h1m7 0h2m1 0h4m163 0h1m1 0h2m2 0h3m4 0h1m6 0h1m5 0h1m6 0h1M351 227.5h2m2 0h1m1 0h3m1 0h1m2 0h1m2 0h1m163 0h1m1 0h1m2 0h2m1 0h1m1 0h1m3 0h1m1 0h1m1 0h1m20 0h1M352 228.5h1m1 0h1m5 0h1m2 0h1m2 0h1m1 0h1m163 0h3m1 0h6m4 0h2m4 0h1m14 0h1M347 229.5h1m9 0h5m1 0h4m1 0h1m162 0h2m1 0h1m1 0h2m1 0h1m2 0h1m9 0h1M348 230.5h2m2 0h1m5 0h1m2 0h2m1 0h2m1 0h1m164 0h1m2 0h1m2 0h2m2 0h2m1 0h1m2 0h1m2 0h1m7 0h1m3 0h1M345 231.5h1m4 0h2m1 0h1m1 0h1m1 0h1m1 0h1m2 0h1m1 0h1m1 0h1m165 0h2m1 0h2m1 0h4m1 0h1m2 0h2M351 232.5h4m6 0h4m1 0h1m1 0h1m164 0h9m1 0h2m1 0h1m26 0h1M350 233.5h2m5 0h1m2 0h2m1 0h2m1 0h1m1 0h1m163 0h1m1 0h4m1 0h7m2 0h1M354 234.5h1m1 0h1m1 0h2m1 0h1m1 0h6m163 0h6m1 0h1m1 0h3m1 0h1m2 0h1M347 235.5h1m3 0h1m3 0h1m3 0h1m2 0h1m2 0h4m165 0h3m2 0h2m1 0h4m18 0h1M346 236.5h1m7 0h1m3 0h1m1 0h6m2 0h1m164 0h2m2 0h4m1 0h1m1 0h1m1 0h1m11 0h1m4 0h1M351 237.5h1m2 0h1m4 0h1m2 0h1m3 0h1m1 0h1m164 0h2m1 0h2m2 0h2m3 0h2m2 0h1m1 0h1M347 238.5h1m9 0h1m1 0h4m1 0h1m1 0h1m166 0h2m2 0h3m2 0h1m5 0h3m6 0h2M358 239.5h2m1 0h3m1 0h1m1 0h1m167 0h1m2 0h1m1 0h1m3 0h1m1 0h1m1 0h1m1 0h2m10 0h1M347 240.5h1m2 0h1m6 0h1m1 0h2m1 0h2m1 0h1m167 0h1m1 0h1m3 0h6m10 0h1m2 0h1m3 0h1M348 241.5h1m1 0h1m2 0h1m1 0h5m1 0h1m1 0h2m1 0h3m164 0h6m1 0h6m10 0h1M348 242.5h1m8 0h6m2 0h2m2 0h1m163 0h3m1 0h1m1 0h10M356 243.5h1m2 0h2m1 0h2m1 0h1m2 0h1m167 0h1m4 0h2m1 0h2M357 244.5h1m1 0h2m1 0h2m1 0h1m1 0h4m165 0h1m1 0h3m1 0h1m1 0h1m16 0h1M349 245.5h1m3 0h1m1 0h1m4 0h1m1 0h5m2 0h1m162 0h1m1 0h2m1 0h9m3 0h1M345 246.5h1m3 0h4m1 0h1m1 0h1m1 0h4m3 0h5m1 0h1m161 0h7m4 0h1m2 0h1m5 0h1m1 0h1M345 247.5h1m2 0h2m3 0h1m4 0h2m1 0h4m1 0h5m161 0h2m1 0h4m1 0h1m1 0h1m1 0h1m1 0h1m2 0h1m2 0h1M345 248.5h2m7 0h1m5 0h1m2 0h1m1 0h1m3 0h2m1 0h1m159 0h5m1 0h1m1 0h4m5 0h1m6 0h1M354 249.5h2m1 0h12m2 0h2m159 0h8m1 0h2m2 0h1m5 0h1M349 250.5h2m8 0h1m1 0h3m1 0h1m1 0h1m1 0h1m1 0h3m157 0h6m2 0h2m2 0h2m4 0h2m5 0h1m4 0h1M355 251.5h1m3 0h1m5 0h3m1 0h1m3 0h1m157 0h1m1 0h1m1 0h1m3 0h3m3 0h1m12 0h1m8 0h1M355 252.5h1m4 0h1m1 0h1m1 0h4m6 0h1m156 0h2m1 0h9m1 0h2m2 0h1m3 0h1m1 0h1M356 253.5h1m1 0h2m2 0h2m1 0h2m1 0h1m1 0h6m155 0h2m2 0h1m1 0h2m1 0h1m1 0h2m2 0h1m1 0h2m6 0h1m3 0h1M349 254.5h1m3 0h1m2 0h2m6 0h1m3 0h1m3 0h1m1 0h3m154 0h1m1 0h3m1 0h2m1 0h1m1 0h1m1 0h2m2 0h1M351 255.5h1m2 0h2m3 0h1m2 0h1m1 0h2m2 0h3m1 0h2m1 0h2m155 0h1m2 0h3m1 0h2m2 0h1m2 0h2m2 0h1m2 0h1M356 256.5h1m2 0h2m4 0h1m1 0h2m1 0h6m153 0h3m1 0h1m3 0h4m9 0h1M346 257.5h1m2 0h1m4 0h1m4 0h1m4 0h1m3 0h1m1 0h3m5 0h1m150 0h5m1 0h2m1 0h3m2 0h1m2 0h1m4 0h1M357 258.5h1m4 0h2m1 0h6m1 0h3m2 0h1m1 0h1m149 0h2m1 0h3m5 0h1m6 0h1m6 0h1M353 259.5h1m8 0h1m3 0h1m1 0h1m1 0h4m1 0h1m1 0h4m147 0h5m1 0h1m2 0h1m8 0h1m4 0h1m16 0h1M362 260.5h1m3 0h1m9 0h4m1 0h1m145 0h2m1 0h5m1 0h2m1 0h1m1 0h2M345 261.5h1m3 0h1m8 0h1m1 0h1m4 0h1m1 0h2m1 0h1m1 0h5m1 0h1m1 0h3m144 0h10m1 0h1m1 0h1m2 0h1m3 0h1m8 0h1M351 262.5h1m1 0h1m6 0h2m4 0h3m1 0h3m1 0h4m1 0h4m142 0h2m1 0h2m3 0h3m1 0h2m2 0h2m1 0h1m10 0h1M355 263.5h1m3 0h1m8 0h2m1 0h1m1 0h1m1 0h1m2 0h2m1 0h3m1 0h1m140 0h1m1 0h1m1 0h1m1 0h1m2 0h1m7 0h2m1 0h1m5 0h1m2 0h1M349 264.5h1m11 0h1m4 0h1m4 0h2m4 0h1m4 0h3m1 0h1m138 0h2m1 0h2m1 0h2m2 0h1m1 0h1m1 0h2m1 0h2m2 0h3m4 0h1M359 265.5h1m4 0h1m2 0h1m1 0h1m5 0h4m1 0h3m3 0h3m134 0h3m1 0h5m1 0h2m1 0h1m3 0h1m5 0h1m2 0h1m4 0h1m3 0h1M365 266.5h2m4 0h1m2 0h1m2 0h2m1 0h2m1 0h1m1 0h3m136 0h4m1 0h1m1 0h1m1 0h1m2 0h4m1 0h1m13 0h2m6 0h1M362 267.5h1m2 0h2m1 0h1m1 0h1m5 0h3m2 0h1m1 0h1m2 0h6m129 0h3m1 0h1m1 0h1m1 0h2m1 0h1m3 0h1m4 0h2M369 268.5h1m1 0h1m1 0h1m1 0h1m1 0h3m1 0h1m1 0h1m2 0h3m2 0h3m127 0h10m3 0h3m18 0h1m4 0h1M362 269.5h1m1 0h1m5 0h1m3 0h1m1 0h2m2 0h4m1 0h1m1 0h1m1 0h2m2 0h3m72 0h4m46 0h1m1 0h1m4 0h4m1 0h2m1 0h1m6 0h1m33 0h1M351 270.5h1m2 0h1m2 0h1m7 0h3m11 0h1m1 0h1m1 0h1m1 0h3m1 0h2m2 0h3m1 0h1m65 0h1m1 0h8m1 0h2m42 0h1m1 0h3m2 0h1m1 0h1m2 0h1m1 0h2m5 0h2m21 0h1M347 271.5h1m16 0h2m6 0h2m1 0h4m2 0h3m1 0h1m1 0h1m1 0h2m1 0h1m1 0h1m3 0h2m60 0h1m4 0h1m1 0h1m5 0h1m1 0h3m39 0h15m2 0h1m1 0h1m10 0h2M373 272.5h1m4 0h1m4 0h2m1 0h4m1 0h2m2 0h2m1 0h1m1 0h3m54 0h1m2 0h4m1 0h2m1 0h1m1 0h1m1 0h3m2 0h1m1 0h1m35 0h3m1 0h2m2 0h1m2 0h1m3 0h2M347 273.5h1m1 0h1m16 0h1m5 0h4m1 0h1m1 0h1m1 0h2m3 0h1m2 0h2m2 0h6m1 0h6m52 0h3m1 0h3m1 0h3m1 0h4m1 0h3m1 0h1m1 0h3m28 0h2m5 0h2m1 0h4m1 0h2m4 0h1m8 0h1m18 0h1M356 274.5h1m6 0h1m10 0h1m1 0h2m4 0h4m1 0h11m1 0h5m1 0h4m41 0h3m2 0h4m3 0h4m1 0h6m1 0h3m1 0h1m2 0h1m2 0h2m1 0h1m22 0h2m1 0h3m1 0h2m1 0h3m2 0h1m3 0h1m12 0h1m2 0h1M346 275.5h1m23 0h1m2 0h1m4 0h2m1 0h2m1 0h2m2 0h2m1 0h2m3 0h2m2 0h3m1 0h1m1 0h3m3 0h2m32 0h4m1 0h2m1 0h3m3 0h1m2 0h1m1 0h2m1 0h3m1 0h3m1 0h4m1 0h10m14 0h1m2 0h1m1 0h1m2 0h3m1 0h3m1 0h3m3 0h1m4 0h1m3 0h1M358 276.5h1m2 0h1m3 0h1m1 0h1m1 0h2m3 0h1m1 0h1m1 0h1m2 0h2m2 0h2m2 0h1m2 0h4m2 0h1m1 0h1m1 0h1m1 0h2m1 0h1m1 0h2m2 0h2m1 0h2m22 0h7m3 0h1m1 0h9m1 0h2m1 0h1m1 0h1m3 0h3m1 0h5m1 0h1m2 0h12m2 0h6m1 0h1m2 0h1m1 0h1m1 0h2m3 0h1m1 0h5m2 0h1m1 0h3m2 0h1m9 0h1m17 0h1M355 277.5h1m23 0h1m2 0h1m3 0h1m1 0h2m4 0h4m3 0h1m1 0h14m1 0h1m1 0h3m1 0h8m1 0h10m1 0h2m1 0h5m1 0h3m1 0h8m1 0h1m1 0h2m1 0h3m1 0h2m1 0h2m1 0h1m2 0h2m1 0h1m1 0h3m1 0h1m1 0h3m1 0h1m1 0h1m5 0h2m1 0h2m1 0h2m1 0h4m4 0h1m1 0h1m2 0h1m1 0h2m2 0h2m5 0h1M351 278.5h1m15 0h1m5 0h1m11 0h3m1 0h1m3 0h1m2 0h6m1 0h4m3 0h6m1 0h1m2 0h12m1 0h1m3 0h1m4 0h2m1 0h4m1 0h4m1 0h4m2 0h1m1 0h2m3 0h1m1 0h6m3 0h2m4 0h6m1 0h4m1 0h3m1 0h2m1 0h1m1 0h5m2 0h1m1 0h2m3 0h5m1 0h2m10 0h1M382 279.5h2m5 0h1m1 0h4m1 0h7m4 0h2m1 0h2m1 0h3m1 0h2m1 0h3m1 0h3m1 0h3m2 0h8m1 0h1m1 0h2m1 0h2m1 0h6m1 0h4m1 0h7m3 0h2m2 0h1m1 0h4m1 0h2m1 0h2m2 0h4m1 0h11m1 0h2m1 0h4m2 0h1m5 0h2m3 0h1m1 0h1m9 0h1m29 0h1M358 280.5h1m1 0h1m12 0h1m9 0h1m6 0h2m5 0h1m1 0h2m1 0h2m1 0h5m1 0h2m3 0h1m1 0h2m1 0h3m2 0h2m1 0h10m2 0h1m2 0h3m1 0h3m1 0h2m1 0h1m2 0h2m2 0h1m2 0h1m1 0h1m1 0h2m6 0h5m2 0h1m2 0h1m1 0h1m1 0h2m1 0h9m1 0h4m1 0h6m2 0h4m9 0h1m1 0h2m7 0h1m13 0h1M375 281.5h1m1 0h1m2 0h1m2 0h1m3 0h3m2 0h2m1 0h3m2 0h2m1 0h4m1 0h7m1 0h3m1 0h3m1 0h2m3 0h1m1 0h2m1 0h3m1 0h4m1 0h6m2 0h1m4 0h2m2 0h1m7 0h1m3 0h1m1 0h2m5 0h5m4 0h1m4 0h2m1 0h1m2 0h3m3 0h2m1 0h2m2 0h2m2 0h2m2 0h1m3 0h2m2 0h1m1 0h1m2 0h2m2 0h1m1 0h1M356 282.5h1m16 0h1m7 0h2m3 0h2m1 0h2m2 0h1m2 0h9m5 0h4m1 0h1m2 0h1m1 0h7m4 0h2m1 0h1m1 0h2m3 0h4m1 0h3m1 0h1m1 0h1m2 0h8m2 0h1m4 0h1m4 0h1m1 0h1m1 0h1m1 0h1m1 0h1m1 0h2m2 0h2m1 0h2m1 0h1m1 0h5m2 0h1m3 0h1m1 0h3m2 0h1m1 0h1m1 0h2m8 0h1m1 0h1m3 0h2M381 283.5h1m1 0h1m12 0h1m1 0h1m2 0h1m1 0h2m1 0h1m1 0h4m1 0h1m1 0h1m1 0h1m1 0h4m1 0h1m1 0h8m1 0h1m2 0h1m2 0h2m1 0h1m1 0h4m5 0h4m1 0h2m4 0h1m2 0h2m1 0h1m1 0h1m1 0h1m2 0h3m4 0h1m5 0h2m1 0h5m1 0h1m1 0h1m1 0h2m1 0h2m1 0h1m1 0h1m6 0h1m3 0h1m5 0h1m13 0h1m17 0h1M375 284.5h1m9 0h1m12 0h1m1 0h2m2 0h1m1 0h1m3 0h2m1 0h1m3 0h5m1 0h2m1 0h1m2 0h1m1 0h5m2 0h1m1 0h3m1 0h2m6 0h1m12 0h2m2 0h2m2 0h1m10 0h2m2 0h1m2 0h1m1 0h3m1 0h3m1 0h10m6 0h1m8 0h2m3 0h1M351 285.5h1m19 0h1m7 0h1m1 0h2m7 0h1m3 0h1m2 0h1m1 0h1m1 0h1m1 0h2m1 0h1m6 0h1m1 0h1m3 0h8m2 0h10m1 0h2m1 0h1m1 0h2m1 0h2m1 0h5m5 0h1m2 0h1m1 0h1m2 0h1m1 0h1m1 0h1m5 0h1m7 0h1m5 0h1m1 0h2m4 0h3m2 0h1m3 0h1m2 0h2m3 0h1m2 0h1m18 0h1m16 0h1m2 0h1M376 286.5h1m7 0h1m1 0h1m1 0h1m3 0h1m6 0h1m1 0h1m5 0h1m2 0h1m3 0h3m1 0h1m1 0h1m6 0h3m1 0h2m3 0h5m2 0h1m2 0h3m1 0h3m1 0h2m1 0h1m8 0h1m1 0h1m12 0h1m1 0h2m5 0h2m1 0h1m1 0h2m1 0h1m3 0h1m4 0h3m1 0h1m5 0h1m4 0h2m34 0h1m5 0h1M363 287.5h1m24 0h1m1 0h1m3 0h1m4 0h1m5 0h1m3 0h1m3 0h1m1 0h3m1 0h3m2 0h1m4 0h1m1 0h1m2 0h1m3 0h3m1 0h3m3 0h2m1 0h1m1 0h2m2 0h2m6 0h1m16 0h1m2 0h2m3 0h2m8 0h1m2 0h2m1 0h1m3 0h1m30 0h1m1 0h1M373 288.5h1m8 0h1m2 0h1m20 0h1m5 0h1m2 0h2m1 0h1m11 0h1m3 0h1m4 0h1m5 0h1m1 0h1m4 0h1m11 0h1m3 0h1m2 0h2m2 0h1m5 0h1m1 0h1m3 0h1m1 0h1m2 0h3m2 0h6m8 0h2m6 0h1m3 0h1m1 0h1m11 0h2m4 0h1M365 289.5h1m19 0h1m1 0h1m5 0h1m19 0h1m1 0h1m3 0h1m1 0h1m1 0h1m1 0h1m5 0h1m1 0h1m1 0h1m1 0h1m9 0h1m1 0h3m3 0h1m4 0h1m2 0h1m7 0h1m1 0h1m1 0h1m3 0h1m7 0h1m3 0h2m10 0h1m2 0h1m11 0h1m3 0h1m2 0h1m6 0h1M389 290.5h1m4 0h4m9 0h1m3 0h1m3 0h1m1 0h2m1 0h1m3 0h1m6 0h1m6 0h1m5 0h2m2 0h3m1 0h1m8 0h1m22 0h1m5 0h1m2 0h1m5 0h1m1 0h2m1 0h1m3 0h2m7 0h1m2 0h1m25 0h1m1 0h1m9 0h1M373 291.5h1m27 0h1m6 0h2m6 0h1m2 0h1m3 0h1m10 0h1m8 0h1m2 0h1m1 0h2m3 0h1m1 0h1m1 0h1m13 0h1m20 0h1m4 0h1m8 0h2m3 0h1m3 0h1m6 0h1m8 0h2M362 292.5h1m7 0h1m14 0h1m15 0h2m13 0h1m2 0h1m4 0h1m2 0h1m1 0h1m2 0h1m12 0h1m13 0h2m1 0h2m2 0h2m8 0h1m4 0h1m27 0h1m2 0h1m4 0h2m3 0h1M391 293.5h1m23 0h2m7 0h2m15 0h2m9 0h2m2 0h1m25 0h1m3 0h2m5 0h2m5 0h1m12 0h1M391 294.5h1m4 0h1m8 0h1m1 0h1m1 0h1m7 0h1m2 0h1m6 0h1m11 0h1m1 0h3m1 0h1m7 0h2m5 0h1m8 0h1m7 0h1m7 0h1m10 0h1m1 0h1m1 0h1m4 0h1m5 0h1m8 0h1M368 295.5h1m27 0h1m13 0h1m4 0h1m3 0h1m6 0h1m1 0h1m4 0h1m11 0h1m2 0h1m3 0h1m5 0h2m15 0h1m7 0h1m4 0h1m2 0h1m7 0h2m1 0h1m14 0h1m3 0h1M376 296.5h1m19 0h1m16 0h1m1 0h1m6 0h2m2 0h1m2 0h1m2 0h1m8 0h2m28 0h1m8 0h1m19 0h1m3 0h1m6 0h1m3 0h1M381 297.5h1m11 0h2m30 0h2m14 0h1m9 0h1m37 0h1m3 0h1m2 0h1m13 0h1M372 298.5h1m12 0h1m1 0h1m12 0h1m41 0h1m2 0h1m12 0h1m6 0h1m14 0h1m5 0h1m12 0h1m26 0h1m18 0h1M414 299.5h1m15 0h1m9 0h1m19 0h1m13 0h1m2 0h1M384 300.5h1m23 0h1m28 0h1m13 0h2m36 0h1m6 0h1m58 0h1M419 301.5h1m8 0h1m1 0h1m32 0h1m30 0h1m7 0h1m5 0h1m26 0h1M381 302.5h1m41 0h1m6 0h1m56 0h2m5 0h1m10 0h1m7 0h1m14 0h1M380 303.5h1m11 0h1m15 0h1m11 0h1m22 0h1m5 0h2m10 0h1m3 0h1m25 0h1m4 0h1M371 304.5h1m5 0h1m30 0h1m21 0h1m16 0h1m3 0h1m40 0h1m38 0h1M392 305.5h1m20 0h1m22 0h1m3 0h1m3 0h1m70 0h1m11 0h1M387 306.5h1m50 0h1m11 0h1m67 0h1M406 307.5h1m2 0h1m74 0h1m24 0h1M373 308.5h1m9 0h1m36 0h1m24 0h1m62 0h1m20 0h1M398 309.5h1m103 0h1M412 310.5h1m4 0h1m38 0h1M444 311.5h1m12 0h1" stroke="#000" stroke-width="1" fill="none"/>
<path d="M436.6 276.8L435.1 276.9L433.6 277L432.1 277.1L430.6 277.1L429.1 277.1L427.6 277.1L426.1 277L424.6 276.9L423.2 276.8L421.6 276.7L420.1 276.5L418.7 276.3L417.1 276.1L415.6 275.8L414.1 275.5L412.6 275.2L411.1 274.9L409.6 274.5L408.1 274.1L406.6 273.7L405.4 273.3L404.1 272.9L402.6 272.3L401.2 271.8L399.9 271.3L398.7 270.8L397.6 270.3L396.5 269.8L395.1 269.1L393.6 268.3L392.1 267.5L390.9 266.8L389.6 266L388.5 265.3L387.1 264.4L386.1 263.6L385.1 262.9L384.1 262.1L383.1 261.3L382.1 260.4L381.1 259.5L380.1 258.5L379.1 257.5L378.1 256.4L377.2 255.3L376.4 254.3L375.6 253.3L374.9 252.3L374.2 251.3L373.6 250.3L372.7 248.8L372.1 247.5L371.5 246.3L370.9 244.8L370.3 243.3L369.8 241.8L369.4 240.3L369.1 238.8L368.9 237.3L368.7 235.8L368.6 234.3L368.5 232.8L368.6 231.3L368.7 229.8L368.8 228.3L369 226.8L369.3 225.3L369.6 224.1L369.9 222.8L370.4 221.3L370.9 219.8L371.5 218.3L372.1 216.8L372.6 215.6L373.2 214.3L374 212.8L374.6 211.6L375.3 210.3L376.1 209L376.8 207.8L377.6 206.5L378.4 205.3L379.1 204.2L380 202.8L380.7 201.8L381.4 200.8L382.1 199.8L382.8 198.8L383.6 197.8L384.3 196.8L385.1 195.8L385.9 194.8L386.7 193.8L387.6 192.8L388.4 191.8L389.3 190.8L390.2 189.8L391.1 188.8L392.1 187.8L393 186.8L393.9 185.8L394.9 184.8L395.8 183.8L396.8 182.8L397.6 181.9L398.6 180.8L399.4 179.8L400.2 178.8L401 177.8L401.7 176.8L402.6 175.4L403.2 174.3L404 172.8L404.6 171.6L405.1 170.4L405.5 169.3L406.1 167.8L406.5 166.3L407 164.8L407.3 163.3L407.7 161.8L408 160.3L408.4 158.8L408.7 157.3L409 155.8L409.3 154.3L409.7 152.8L410 151.3L410.4 149.8L410.8 148.3L411.2 146.8L411.6 145.6L412 144.3L412.5 142.8L413.1 141.3L413.6 139.9L414.1 138.8L414.6 137.6L415.2 136.3L416 134.8L416.6 133.7L417.5 132.3L418.5 130.8L419.2 129.8L420 128.8L420.9 127.8L421.8 126.8L422.9 125.8L424 124.8L425.1 124L426.2 123.3L427.6 122.5L429.1 121.9L430.6 121.3L432.1 121L433.4 120.8L434.6 120.7L436.1 120.7L437.6 120.9L439.1 121.2L440.6 121.7L442.1 122.2L443.3 122.8L444.6 123.5L445.8 124.3L447.1 125.2L448.1 126L449.1 126.9L450 127.8L451 128.8L451.9 129.8L452.7 130.8L453.5 131.8L454.3 132.8L455 133.8L455.7 134.8L456.6 136.3L457.5 137.8L458.1 138.9L458.8 140.3L459.5 141.8L460.1 143L460.6 144.2L461.1 145.3L461.6 146.6L462 147.8L462.6 149.3L463.1 150.8L463.6 152.3L464 153.8L464.5 155.3L464.9 156.8L465.3 158.3L465.6 159.6L466 161.3L466.4 162.8L466.8 164.3L467.2 165.8L467.6 167.1L468 168.3L468.6 169.8L469.1 170.9L469.9 172.3L470.5 173.3L471.4 174.3L472.4 175.3L473.6 176.2L475.1 177.1L476.6 177.8L478 178.3L479.1 178.7L480.6 179.2L482.1 179.7L483.6 180.1L485.1 180.5L486.6 180.9L488.1 181L489.6 180.9L491.1 180.3L492.1 179.6L493.1 178.6L494.1 177.3L495 175.8L495.6 174.6L496.2 173.3L496.9 171.8L497.5 170.3L498.1 168.8L498.6 167.6L499.1 166.4L499.6 165.2L500.1 164L500.6 162.8L501.1 161.7L501.6 160.6L502.2 159.3L502.9 157.8L503.6 156.5L504.2 155.3L505.1 153.8L506 152.3L507 150.8L507.7 149.8L508.4 148.8L509.2 147.8L510.1 146.8L511.1 145.8L512.1 144.9L513.1 144.2L514.6 143.4L516.1 142.9L517.6 143L519.1 143.6L520.1 144.4L520.9 145.3L521.6 146.5L522.1 147.6L522.5 148.8L523 150.3L523.3 151.8L523.5 153.3L523.7 154.8L523.9 156.3L523.9 157.8L524 159.3L524 160.8L524 162.3L523.9 163.8L523.8 165.3L523.7 166.8L523.6 168.3L523.4 169.8L523.3 171.3L523.1 172.6L522.9 173.8L522.7 175.3L522.4 176.8L522.2 178.3L521.9 179.8L521.6 181.2L521.3 182.8L520.9 184.3L520.6 185.7L520.2 187.3L519.9 188.8L519.5 190.3L519.2 191.8L518.8 193.3L518.5 194.8L518.2 196.3L517.9 197.8L517.7 199.3L517.6 200.8L517.5 202.3L517.6 203.8L517.8 205.3L518.2 206.8L518.9 208.3L519.6 209.6L520.4 210.8L521.1 211.8L521.9 212.8L522.7 213.8L523.5 214.8L524.3 215.8L525 216.8L525.7 217.8L526.4 218.8L527.1 219.9L527.9 221.3L528.6 222.6L529.2 223.8L529.9 225.3L530.5 226.8L531 228.3L531.4 229.8L531.8 231.3L532.1 232.7L532.4 234.3L532.6 235.8L532.7 237.3L532.8 238.8L532.8 240.3L532.8 241.8L532.7 243.3L532.5 244.8L532.3 246.3L532 247.8L531.7 249.3L531.2 250.8L530.8 252.3L530.2 253.8L529.6 255.3L528.9 256.8L528.1 258.3L527.2 259.8L526.3 261.3L525.6 262.3L524.8 263.3L524 264.3L523.1 265.3L522.1 266.3L521.1 267.3L520.1 268.2L519.1 269L518.1 269.8L517.1 270.5L515.8 271.3L514.6 272L513.1 272.8L512 273.3L510.8 273.8L509.6 274.3L508.1 274.8L506.6 275.2L505.1 275.5L503.6 275.8L502.1 276L500.6 276.1L499.1 276.2L497.6 276.2L496.1 276.1L494.6 276L493.4 275.8L492.1 275.6L490.6 275.3L489.1 274.9L487.6 274.5L486.1 274.1L484.6 273.6L483.1 273L481.6 272.5L480.1 271.9L478.6 271.3L477.1 270.8L475.6 270.3L474.1 269.9L472.6 269.6L471.1 269.5L469.6 269.4L468.1 269.5L466.6 269.7L465.1 270L463.9 270.3L462.6 270.7L461.1 271.1L459.6 271.6L458.1 272.1L456.6 272.6L455.1 273.1L453.6 273.6L452.1 274L450.6 274.4L449.1 274.8L447.6 275.2L446.1 275.5L444.6 275.8L443.1 276L441.6 276.3L440.1 276.5L438.6 276.6L437.1 276.8M437.6 271.9L436.1 272L434.6 272.1L433.1 272.2L431.6 272.3L430.1 272.3L428.6 272.3L427.1 272.2L425.6 272.2L424.1 272.1L422.6 271.9L421.3 271.8L420.1 271.7L418.6 271.4L417.1 271.2L415.6 270.9L414.1 270.6L412.8 270.3L411.6 270L410.1 269.6L408.6 269.2L407.1 268.7L405.6 268.2L404.1 267.6L402.6 267L401.1 266.3L399.9 265.8L398.6 265.1L397.1 264.4L395.6 263.5L394.4 262.8L393.1 262L392.1 261.3L391.1 260.6L390.1 259.9L389.1 259.1L388.2 258.3L387.1 257.4L386.1 256.4L385.1 255.4L384.1 254.4L383.2 253.3L382.3 252.3L381.6 251.3L380.9 250.3L380.2 249.3L379.3 247.8L378.6 246.5L378 245.3L377.3 243.8L376.8 242.3L376.3 240.8L375.9 239.3L375.6 237.8L375.4 236.3L375.2 234.8L375.2 233.3L375.2 231.8L375.2 230.3L375.4 228.8L375.6 227.4L375.9 225.8L376.3 224.3L376.6 223.1L377 221.8L377.6 220.3L378.1 218.9L378.6 217.8L379.1 216.7L379.8 215.3L380.6 213.8L381.4 212.3L382.1 211.2L382.9 209.8L383.6 208.8L384.6 207.3L385.3 206.3L386 205.3L386.7 204.3L387.5 203.3L388.2 202.3L389 201.3L389.8 200.3L390.7 199.3L391.5 198.3L392.4 197.3L393.3 196.3L394.1 195.4L395.1 194.3L396.1 193.3L397.1 192.3L398 191.3L399 190.3L400 189.3L401 188.3L402 187.3L402.9 186.3L403.8 185.3L404.6 184.4L405.5 183.3L406.3 182.3L407 181.3L407.7 180.3L408.6 178.9L409.2 177.8L410 176.3L410.6 174.9L411.1 173.7L411.6 172.3L412.1 170.8L412.6 169.3L413 167.8L413.4 166.3L413.7 164.8L414.1 163.3L414.4 161.8L414.8 160.3L415.1 158.9L415.5 157.3L415.9 155.8L416.3 154.3L416.7 152.8L417.1 151.6L417.5 150.3L418.1 148.8L418.6 147.5L419.1 146.3L419.6 145.2L420.3 143.8L421.1 142.4L421.7 141.3L422.6 140L423.5 138.8L424.4 137.8L425.3 136.8L426.4 135.8L427.6 134.8L428.6 134.2L430.1 133.3L431.4 132.8L432.6 132.4L434.1 132.2L435.6 132.1L437.1 132.1L438.6 132.4L440 132.8L441.3 133.3L442.6 133.9L444 134.8L445.1 135.6L446.1 136.4L447.1 137.3L448.1 138.3L449 139.3L449.8 140.3L450.6 141.3L451.3 142.3L452 143.3L452.9 144.8L453.6 146L454.3 147.3L455 148.8L455.6 150L456.1 151.2L456.6 152.4L457.1 153.7L457.6 155.2L458 156.3L458.5 157.8L458.9 159.3L459.3 160.8L459.7 162.3L460.1 163.8L460.5 165.3L460.8 166.8L461.1 168L461.4 169.3L461.8 170.8L462.2 172.3L462.6 173.5L463.1 174.8L463.6 176.1L464.2 177.3L465.1 178.8L465.9 179.8L466.9 180.8L468.1 181.7L469.2 182.3L470.3 182.8L471.6 183.3L473.1 183.7L474.6 184.1L476.1 184.4L477.6 184.7L479.1 185.1L480.6 185.5L481.8 185.8L483.1 186.2L484.6 186.6L486.1 187L487.5 187.3L489.1 187.4L490.4 187.3L491.6 186.9L493.1 185.9L494.1 184.9L494.9 183.8L495.6 182.7L496.4 181.3L497.1 179.8L497.6 178.7L498.1 177.5L498.6 176.3L499.1 175L499.6 173.8L500.1 172.5L500.6 171.3L501.1 170L501.6 168.8L502.1 167.6L502.6 166.5L503.1 165.4L503.9 163.8L504.6 162.3L505.4 160.8L506.1 159.7L507 158.3L507.7 157.3L508.4 156.3L509.2 155.3L510.1 154.4L511.1 153.5L512.1 152.8L513.6 152.1L515.1 151.9L516.4 152.3L517.6 153.3L518.3 154.3L519 155.8L519.4 157.3L519.8 158.8L520 160.3L520.2 161.8L520.3 163.3L520.3 164.8L520.3 166.3L520.3 167.8L520.2 169.3L520.1 170.6L520 171.8L519.8 173.3L519.6 174.8L519.4 176.3L519.2 177.8L518.9 179.3L518.6 180.8L518.3 182.3L518 183.8L517.6 185.3L517.3 186.8L516.9 188.3L516.5 189.8L516.1 191.3L515.7 192.8L515.3 194.3L515 195.8L514.6 197.3L514.3 198.8L514 200.3L513.8 201.8L513.7 203.3L513.6 204.8L513.7 206.3L514 207.8L514.4 209.3L515 210.8L515.6 212L516.4 213.3L517.2 214.3L517.9 215.3L518.7 216.3L519.5 217.3L520.3 218.3L521.1 219.3L521.8 220.3L522.5 221.3L523.4 222.8L524.1 224L524.8 225.3L525.5 226.8L526.1 228.3L526.6 229.8L527 231.3L527.4 232.8L527.7 234.3L527.9 235.8L528.1 237.3L528.2 238.8L528.2 240.3L528.2 241.8L528 243.3L527.9 244.8L527.6 246.3L527.3 247.8L526.9 249.3L526.4 250.8L525.8 252.3L525.2 253.8L524.6 255L523.9 256.3L523.1 257.6L522.3 258.8L521.6 259.8L520.7 260.8L519.9 261.8L518.9 262.8L517.9 263.8L516.7 264.8L515.6 265.6L514.6 266.4L513.1 267.3L511.6 268.1L510.2 268.8L509 269.3L507.6 269.8L506.1 270.3L504.6 270.6L503.1 270.9L501.6 271.1L500.1 271.2L498.6 271.3L497.1 271.3L495.6 271.1L494.1 271L492.6 270.7L491.1 270.4L489.6 270L488.1 269.5L486.6 269L485.1 268.4L483.7 267.8L482.5 267.3L481.1 266.6L479.6 265.9L478.2 265.3L477.1 264.8L475.9 264.3L474.6 263.8L473.1 263.4L471.6 263.1L470.1 263L468.6 263.1L467.1 263.3L465.6 263.6L464.1 264.1L462.6 264.6L461.1 265.2L459.6 265.8L458.3 266.3L457.1 266.8L455.7 267.3L454.6 267.7L453.1 268.3L451.6 268.8L450.1 269.3L448.6 269.7L447.1 270.1L445.6 270.5L444.2 270.8L442.6 271.1L441.1 271.4L439.6 271.6L438.1 271.8M435.1 269.3L433.6 269.4L432.1 269.5L430.6 269.5L429.1 269.6L427.6 269.5L426.1 269.5L424.6 269.4L423.1 269.2L421.6 269.1L420.1 268.9L418.6 268.7L417.1 268.4L415.6 268.1L414.3 267.8L412.6 267.4L411.1 267L409.6 266.5L408.1 266L406.6 265.5L405.1 264.9L403.6 264.3L402.5 263.8L401.1 263.1L399.6 262.4L398.1 261.5L396.9 260.8L395.6 260L394.6 259.3L393.6 258.6L392.6 257.9L391.6 257.1L390.6 256.2L389.6 255.3L388.6 254.3L387.6 253.3L386.7 252.3L385.9 251.3L385.1 250.3L384.3 249.3L383.7 248.3L382.8 246.8L382.1 245.6L381.5 244.3L380.9 242.8L380.3 241.3L379.9 239.8L379.5 238.3L379.2 236.8L379.1 235.3L378.9 233.8L378.9 232.3L379 230.8L379.1 229.4L379.3 227.8L379.6 226.4L380 224.8L380.4 223.3L380.9 221.8L381.5 220.3L382.1 218.8L382.8 217.3L383.6 215.8L384.4 214.3L385.1 213.1L385.9 211.8L386.6 210.8L387.6 209.3L388.3 208.3L389 207.3L389.8 206.3L390.6 205.3L391.4 204.3L392.2 203.3L393 202.3L393.9 201.3L394.8 200.3L395.7 199.3L396.6 198.4L397.6 197.3L398.6 196.3L399.6 195.3L400.6 194.3L401.6 193.4L402.6 192.4L403.6 191.4L404.6 190.4L405.6 189.4L406.6 188.4L407.6 187.3L408.5 186.3L409.3 185.3L410.1 184.3L410.8 183.3L411.5 182.3L412.1 181.3L412.9 179.8L413.6 178.5L414.1 177.3L414.8 175.8L415.3 174.3L415.8 172.8L416.3 171.3L416.6 170.1L417 168.8L417.3 167.3L417.7 165.8L418.1 164.3L418.5 162.8L418.9 161.3L419.3 159.8L419.6 158.6L420 157.3L420.5 155.8L421 154.3L421.6 152.8L422.1 151.5L422.7 150.3L423.4 148.8L424.1 147.6L425 146.3L425.7 145.3L426.5 144.3L427.4 143.3L428.5 142.3L429.6 141.5L430.7 140.8L432.1 140.1L433.6 139.6L435.1 139.4L436.6 139.3L438.1 139.5L439.6 139.9L441.1 140.5L442.5 141.3L443.6 142L444.6 142.8L445.6 143.7L446.6 144.7L447.5 145.8L448.3 146.8L449 147.8L449.7 148.8L450.6 150.3L451.4 151.8L452.1 153.1L452.6 154.3L453.3 155.8L453.9 157.3L454.4 158.8L454.9 160.3L455.4 161.8L455.8 163.3L456.1 164.5L456.4 165.8L456.8 167.3L457.1 168.6L457.4 169.8L457.7 171.3L458.1 172.8L458.4 174.3L458.8 175.8L459.3 177.3L459.8 178.8L460.4 180.3L461.1 181.8L462 183.3L462.9 184.3L464 185.3L465.1 186.1L466.6 186.8L468.1 187.3L469.6 187.6L471 187.8L472.6 188L474.1 188.2L475.6 188.4L477.1 188.6L478.6 188.9L480.1 189.2L481.6 189.6L483.1 190.1L484.6 190.6L486.1 191.1L487.6 191.5L489.1 191.7L490.6 191.7L491.9 191.3L493.1 190.7L494.1 189.8L495 188.8L495.7 187.8L496.6 186.3L497.4 184.8L498.1 183.3L498.6 182L499.1 180.8L499.6 179.5L500.1 178.3L500.6 176.9L501.1 175.6L501.6 174.3L502.1 173.1L502.6 171.8L503.1 170.7L503.6 169.5L504.2 168.3L504.9 166.8L505.6 165.5L506.3 164.3L507.1 163L508 161.8L508.8 160.8L509.6 159.9L510.6 159L511.6 158.3L513.1 157.8L514.6 158L515.6 158.8L516.3 159.8L516.9 161.3L517.4 162.8L517.6 164.1L517.8 165.3L517.9 166.8L517.9 168.3L517.9 169.8L517.8 171.3L517.7 172.8L517.6 174.3L517.4 175.8L517.2 177.3L517 178.8L516.7 180.3L516.4 181.8L516.1 183.2L515.7 184.8L515.4 186.3L515 187.8L514.6 189.3L514.2 190.8L513.8 192.3L513.3 193.8L512.9 195.3L512.6 196.5L512.3 197.8L511.9 199.3L511.6 200.8L511.3 202.3L511.2 203.8L511.1 205.3L511.1 206.8L511.3 208.3L511.6 209.5L512 210.8L512.6 212.2L513.2 213.3L514.1 214.7L514.9 215.8L515.6 216.8L516.4 217.8L517.2 218.8L518 219.8L518.8 220.8L519.5 221.8L520.2 222.8L521.1 224.2L521.7 225.3L522.5 226.8L523.1 228.1L523.6 229.3L524.1 230.8L524.5 232.3L524.9 233.8L525.2 235.3L525.4 236.8L525.5 238.3L525.5 239.8L525.5 241.3L525.4 242.8L525.2 244.3L525 245.8L524.6 247.3L524.2 248.8L523.7 250.3L523.1 251.8L522.6 252.9L521.9 254.3L521.1 255.7L520.4 256.8L519.6 257.8L518.8 258.8L518 259.8L517.1 260.7L516.1 261.6L515.1 262.5L514.1 263.3L513.1 264L511.8 264.8L510.6 265.5L509.1 266.2L507.6 266.8L506.2 267.3L504.6 267.7L503.1 268L501.6 268.3L500.1 268.4L498.6 268.4L497.1 268.4L495.8 268.3L494.1 268.1L492.6 267.8L491.1 267.4L489.6 267L488.1 266.5L486.6 265.9L485.2 265.3L484.1 264.8L482.6 264L481.3 263.3L480.1 262.7L478.6 261.9L477.1 261.1L475.6 260.4L474.2 259.8L472.6 259.3L471.1 259L469.6 259L468.1 259.1L466.6 259.4L465.3 259.8L464.1 260.2L462.7 260.8L461.6 261.3L460.5 261.8L459.1 262.4L457.6 263.1L456.1 263.8L455 264.3L453.8 264.8L452.6 265.3L451.2 265.8L449.7 266.3L448.2 266.8L446.6 267.3L445.1 267.7L443.6 268L442.2 268.3L440.6 268.6L439.1 268.8L437.6 269.1L436.1 269.2M435.6 266.8L434.1 267L432.6 267.1L431.1 267.1L429.6 267.2L428.1 267.1L426.6 267.1L425.1 267L423.6 266.9L422.1 266.7L420.6 266.6L419.1 266.3L417.6 266.1L416.4 265.8L415.1 265.5L413.6 265.2L412.3 264.8L411.1 264.4L409.6 264L408.1 263.4L406.6 262.8L405.3 262.3L404.2 261.8L403.1 261.3L401.6 260.5L400.3 259.8L399.1 259.1L397.8 258.3L396.6 257.5L395.6 256.7L394.6 256L393.6 255.1L392.6 254.3L391.6 253.3L390.6 252.3L389.7 251.3L388.8 250.3L388 249.3L387.3 248.3L386.6 247.3L385.7 245.8L385.1 244.6L384.5 243.3L383.9 241.8L383.4 240.3L382.9 238.8L382.6 237.3L382.4 235.8L382.3 234.3L382.2 232.8L382.2 231.3L382.4 229.8L382.6 228.3L382.8 226.8L383.2 225.3L383.6 223.9L384.1 222.4L384.6 221.1L385.1 219.9L385.6 218.8L386.4 217.3L387.1 216L387.8 214.8L388.6 213.5L389.4 212.3L390.1 211.3L390.8 210.3L391.5 209.3L392.3 208.3L393.1 207.3L393.9 206.3L394.8 205.3L395.6 204.4L396.6 203.3L397.5 202.3L398.5 201.3L399.5 200.3L400.5 199.3L401.5 198.3L402.6 197.3L403.6 196.4L404.6 195.4L405.6 194.5L406.6 193.6L407.6 192.7L408.5 191.8L409.5 190.8L410.5 189.8L411.4 188.8L412.3 187.8L413.1 186.8L413.9 185.8L414.6 184.8L415.5 183.3L416.4 181.8L417.1 180.4L417.6 179.3L418.3 177.8L418.8 176.3L419.4 174.8L419.8 173.3L420.3 171.8L420.6 170.6L421 169.3L421.4 167.8L421.8 166.3L422.1 165.1L422.5 163.8L422.9 162.3L423.4 160.8L423.9 159.3L424.5 157.8L425.1 156.5L425.6 155.3L426.5 153.8L427.1 152.8L428.1 151.3L429 150.3L430 149.3L431.1 148.4L432.6 147.5L434.1 146.9L435.6 146.6L437.1 146.6L438.5 146.8L440 147.3L441.1 147.8L442.6 148.8L443.6 149.6L444.6 150.6L445.6 151.7L446.5 152.8L447.1 153.8L448.1 155.3L448.9 156.8L449.6 158.2L450.1 159.4L450.6 160.6L451.1 161.8L451.6 163.3L452 164.8L452.5 166.3L452.9 167.8L453.2 169.3L453.6 170.8L453.9 172.3L454.2 173.8L454.5 175.3L454.9 176.8L455.2 178.3L455.6 179.8L456 181.3L456.4 182.8L457 184.3L457.6 185.7L458.4 187.3L459.1 188.3L459.9 189.3L461 190.3L462.1 191L463.6 191.6L465.1 192L466.6 192.2L468.1 192.2L469.6 192.2L471.1 192.2L472.6 192.2L474.1 192.3L475.6 192.3L477.1 192.5L478.6 192.8L480.1 193.1L481.6 193.5L483.1 194.1L484.6 194.6L486.1 195.2L487.6 195.8L489.1 196.1L490.6 196.2L492.1 196L493.5 195.3L494.6 194.5L495.6 193.4L496.4 192.3L497.1 191.2L497.8 189.8L498.5 188.3L499.1 187L499.6 185.8L500.1 184.4L500.6 183L501 181.8L501.6 180.3L502.1 178.9L502.6 177.6L503.1 176.3L503.6 175.1L504.1 173.9L504.6 172.8L505.3 171.3L506.1 169.8L507 168.3L507.7 167.3L508.4 166.3L509.4 165.3L510.6 164.3L512.1 163.9L513.2 164.3L514.1 165.2L514.8 166.8L515.1 168.2L515.3 169.8L515.4 171.3L515.4 172.8L515.4 174.3L515.2 175.8L515.1 177.1L514.9 178.8L514.6 180.3L514.3 181.8L514.1 183L513.8 184.3L513.4 185.8L513.1 187.1L512.8 188.3L512.3 189.8L511.9 191.3L511.4 192.8L511 194.3L510.6 195.6L510.2 196.8L509.8 198.3L509.4 199.8L509.1 201.2L508.8 202.8L508.6 204.3L508.6 205.8L508.6 207.3L508.8 208.8L509.1 210.3L509.6 211.8L510.1 212.9L510.8 214.3L511.6 215.5L512.5 216.8L513.3 217.8L514.1 218.8L514.9 219.8L515.7 220.8L516.5 221.8L517.3 222.8L518 223.8L519 225.3L519.6 226.4L520.3 227.8L521 229.3L521.6 230.8L522.1 232.3L522.4 233.8L522.8 235.3L523 236.8L523.1 238.3L523.1 239.8L523.1 241.3L523 242.8L522.8 244.3L522.5 245.8L522.2 247.3L521.7 248.8L521.1 250.3L520.6 251.5L520 252.8L519.1 254.3L518.4 255.3L517.7 256.3L516.9 257.3L516.1 258.2L515.1 259.2L514.1 260.1L513.1 260.9L512.1 261.7L510.6 262.6L509.4 263.3L508.1 263.9L506.6 264.5L505.1 265L503.9 265.3L502.6 265.6L501.1 265.8L499.6 265.9L498.1 265.9L496.6 265.8L495.1 265.7L493.6 265.4L492.1 265.1L490.6 264.7L489.1 264.1L487.6 263.5L486.1 262.8L484.6 262.1L483.2 261.3L482.1 260.6L480.7 259.8L479.6 259.1L478.4 258.3L477.1 257.5L475.8 256.8L474.6 256.2L473.1 255.6L471.6 255.2L470.1 255L468.6 255.1L467.1 255.4L465.6 255.9L464.1 256.6L462.7 257.3L461.1 258.1L459.8 258.8L458.6 259.5L457.1 260.3L456 260.8L454.6 261.5L453.1 262.2L451.7 262.8L450.4 263.3L449.1 263.8L447.6 264.3L446.1 264.8L444.6 265.2L443.1 265.6L441.6 265.9L440.1 266.2L438.6 266.5L437.1 266.7L435.6 266.8M432.6 264.8L431.1 264.9L429.6 264.9L428.1 264.9L426.6 264.9L425.1 264.8L423.6 264.6L422.1 264.5L420.7 264.3L419.1 264L417.8 263.8L416.6 263.5L415.1 263.2L413.6 262.8L412.1 262.3L410.6 261.9L409.1 261.3L407.8 260.8L406.6 260.3L405.5 259.8L404.1 259.1L402.6 258.3L401.1 257.4L399.6 256.5L398.6 255.8L397.6 255.1L396.6 254.3L395.6 253.4L394.6 252.5L393.6 251.6L392.6 250.5L391.6 249.4L390.8 248.3L390 247.3L389.4 246.3L388.6 245L387.9 243.8L387.3 242.3L386.7 240.8L386.2 239.3L385.8 237.8L385.6 236.6L385.4 235.3L385.3 233.8L385.3 232.3L385.3 230.8L385.5 229.3L385.7 227.8L386.1 226.3L386.5 224.8L387 223.3L387.5 221.8L388.1 220.5L388.7 219.3L389.5 217.8L390.1 216.7L390.9 215.3L391.9 213.8L392.6 212.8L393.4 211.8L394.1 210.8L394.9 209.8L395.8 208.8L396.6 207.8L397.5 206.8L398.5 205.8L399.5 204.8L400.5 203.8L401.5 202.8L402.6 201.8L403.6 200.9L404.6 200L405.6 199.1L406.5 198.3L407.6 197.4L408.6 196.5L409.6 195.7L410.6 194.8L411.6 193.9L412.6 193L413.6 192L414.6 191L415.6 189.9L416.6 188.8L417.4 187.8L418.2 186.8L418.9 185.8L419.6 184.6L420.4 183.3L421.1 181.9L421.6 180.8L422.1 179.7L422.6 178.4L423 177.3L423.6 175.8L424 174.3L424.5 172.8L425 171.3L425.5 169.8L425.9 168.3L426.4 166.8L427 165.3L427.6 163.8L428.1 162.6L428.7 161.3L429.6 159.8L430.3 158.8L431.1 157.8L432.1 156.8L433.1 156L434.4 155.3L435.6 154.9L437.1 154.8L438.6 155L440.1 155.6L441.1 156.3L442.1 157.1L443.1 158.1L444.1 159.3L444.8 160.3L445.6 161.6L446.2 162.8L446.9 164.3L447.5 165.8L448.1 167.3L448.5 168.8L449 170.3L449.4 171.8L449.7 173.3L450 174.8L450.4 176.3L450.6 177.5L450.9 178.8L451.1 180L451.4 181.3L451.7 182.8L452 184.3L452.4 185.8L452.8 187.3L453.3 188.8L453.8 190.3L454.5 191.8L455.1 193L455.9 194.3L456.6 195.3L457.6 196.3L458.6 197.2L459.6 197.8L460.9 198.3L462.1 198.6L463.6 198.6L465.1 198.5L466.6 198.2L468.1 197.9L469.6 197.5L471.1 197.2L472.6 197L474.1 196.9L475.6 196.9L477.1 197L478.6 197.2L480.1 197.6L481.6 198.1L483.1 198.8L484.2 199.3L485.6 200L487.1 200.7L488.6 201.3L490.1 201.6L491.6 201.7L493.1 201.4L494.4 200.8L495.6 199.9L496.6 199L497.6 197.8L498.5 196.3L499.1 195.2L499.7 193.8L500.3 192.3L500.9 190.8L501.4 189.3L501.9 187.8L502.3 186.3L502.8 184.8L503.3 183.3L503.8 181.8L504.4 180.3L505 178.8L505.6 177.4L506.1 176.3L507 174.8L508 173.3L509 172.3L510.6 171.8L511.6 172.8L512 174.3L512.2 175.8L512.2 177.3L512.1 178.8L512 180.3L511.7 181.8L511.4 183.3L511.1 184.8L510.7 186.3L510.3 187.8L509.8 189.3L509.3 190.8L508.8 192.3L508.3 193.8L507.7 195.3L507.2 196.8L506.7 198.3L506.3 199.8L505.9 201.3L505.6 202.8L505.5 204.3L505.4 205.8L505.5 207.3L505.7 208.8L506.1 210.3L506.6 211.7L507.1 212.9L507.8 214.3L508.6 215.5L509.5 216.8L510.2 217.8L511.1 218.8L511.9 219.8L512.7 220.8L513.6 221.8L514.4 222.8L515.1 223.8L515.9 224.8L516.5 225.8L517.5 227.3L518.1 228.5L518.7 229.8L519.3 231.3L519.8 232.8L520.2 234.3L520.5 235.8L520.7 237.3L520.8 238.8L520.9 240.3L520.8 241.8L520.6 243.3L520.4 244.8L520.1 246.1L519.8 247.3L519.2 248.8L518.6 250.3L517.9 251.8L517.1 253.1L516.3 254.3L515.5 255.3L514.6 256.3L513.7 257.3L512.6 258.3L511.6 259.1L510.6 259.8L509.1 260.7L508 261.3L506.9 261.8L505.6 262.3L504.1 262.8L502.6 263.1L501.3 263.3L500.1 263.4L498.6 263.5L497.1 263.4L495.7 263.3L494.1 263L492.6 262.7L491.2 262.3L490.1 261.9L488.6 261.3L487.1 260.6L485.7 259.8L484.6 259.2L483.3 258.3L482.1 257.5L481.1 256.8L480.1 256L479.1 255.2L478.1 254.5L477.1 253.7L476.1 253L475.1 252.3L473.6 251.5L472.1 250.9L470.6 250.6L469.1 250.7L467.6 251L466.1 251.6L464.8 252.3L463.6 253L462.4 253.8L461.1 254.6L460.1 255.3L458.6 256.2L457.1 257.2L456 257.8L454.6 258.6L453.2 259.3L452.1 259.9L450.6 260.5L449.1 261.2L447.6 261.8L446.1 262.3L444.6 262.7L443.1 263.2L441.6 263.5L440.3 263.8L439.1 264L437.6 264.3L436.1 264.5L434.6 264.7L433.1 264.8M435.6 262.3L434.1 262.5L432.6 262.6L431.1 262.7L429.6 262.7L428.1 262.7L426.6 262.7L425.1 262.6L423.6 262.5L422.2 262.3L420.6 262.1L419.1 261.8L417.6 261.5L416.1 261.2L414.7 260.8L413.1 260.3L411.6 259.8L410.2 259.3L408.9 258.8L407.8 258.3L406.6 257.8L405.1 257L403.9 256.3L402.6 255.5L401.4 254.8L400.1 253.9L399.1 253.1L398.1 252.3L397.1 251.4L396.1 250.4L395.1 249.4L394.2 248.3L393.4 247.3L392.7 246.3L391.7 244.8L391.1 243.8L390.4 242.3L389.8 240.8L389.2 239.3L388.9 237.8L388.6 236.5L388.4 235.3L388.3 233.8L388.3 232.3L388.3 230.8L388.5 229.3L388.8 227.8L389.1 226.4L389.6 224.8L390.1 223.3L390.6 222.1L391.1 221L391.7 219.8L392.5 218.3L393.4 216.8L394.1 215.8L395.1 214.3L395.9 213.3L396.7 212.3L397.5 211.3L398.4 210.3L399.3 209.3L400.3 208.3L401.3 207.3L402.3 206.3L403.4 205.3L404.5 204.3L405.6 203.4L406.6 202.5L407.6 201.7L408.6 200.9L409.6 200.1L410.6 199.4L411.6 198.6L412.6 197.8L413.6 197L414.5 196.3L415.6 195.4L416.6 194.6L417.5 193.8L418.6 192.8L419.6 191.9L420.6 190.9L421.6 189.8L422.4 188.8L423.2 187.8L423.9 186.8L424.6 185.8L425.5 184.3L426.1 183.2L426.8 181.8L427.5 180.3L428.1 179L428.6 177.9L429.1 176.7L429.6 175.5L430.1 174.3L430.6 173.2L431.3 171.8L432.1 170.3L433.1 168.8L434 167.8L435.1 166.9L436.6 166.3L438.1 166.4L439.6 167.1L440.6 168L441.6 169.2L442.3 170.3L443 171.8L443.6 173.2L444 174.3L444.5 175.8L444.9 177.3L445.3 178.8L445.6 180.1L445.9 181.3L446.2 182.8L446.5 184.3L446.8 185.8L447.2 187.3L447.5 188.8L447.9 190.3L448.4 191.8L448.9 193.3L449.5 194.8L450.1 196.3L450.8 197.8L451.6 199.2L452.3 200.3L452.9 201.3L453.7 202.3L454.5 203.3L455.4 204.3L456.4 205.3L457.5 206.3L458.6 207.2L459.6 207.9L461.1 208.8L462.2 209.3L463.6 209.8L465.1 209.9L466.6 209.4L467.6 208.8L468.6 207.9L469.6 206.9L470.6 206.1L471.6 205.3L473.1 204.5L474.6 204L476.1 203.7L477.5 203.8L479.1 204.2L480.6 204.7L481.7 205.3L483.1 206.2L484.2 206.8L485.6 207.6L487.1 208.2L488.6 208.6L490.1 208.7L491.6 208.7L493.1 208.5L494.6 208.2L496.1 207.9L497.4 207.8L498.6 207.9L500.1 208.6L501.1 209.7L501.9 210.8L502.6 211.8L503.6 213.3L504.3 214.3L505 215.3L505.8 216.3L506.6 217.3L507.4 218.3L508.3 219.3L509.1 220.3L510 221.3L510.9 222.3L511.8 223.3L512.6 224.3L513.4 225.3L514.1 226.3L514.8 227.3L515.6 228.7L516.2 229.8L516.9 231.3L517.4 232.8L517.9 234.3L518.2 235.8L518.4 237.3L518.5 238.8L518.6 240.3L518.5 241.8L518.3 243.3L518.1 244.5L517.8 245.8L517.3 247.3L516.7 248.8L516.1 250.1L515.5 251.3L514.6 252.6L513.7 253.8L512.8 254.8L511.8 255.8L510.6 256.8L509.6 257.6L508.5 258.3L507.1 259.1L505.6 259.7L504.1 260.2L502.6 260.6L501.1 260.9L499.6 261L498.1 261L496.6 261L495.4 260.8L494.1 260.6L492.6 260.2L491.5 259.8L490.2 259.3L489.1 258.8L487.6 258L486.4 257.3L485.1 256.5L484.1 255.7L483.1 254.9L482.1 254.1L481.1 253.2L480.2 252.3L479.2 251.3L478.2 250.3L477.2 249.3L476.2 248.3L475.2 247.3L474.1 246.3L473.1 245.5L471.7 244.8L470.1 244.6L468.6 245L467.1 245.8L466.1 246.5L465.1 247.3L464.1 248.2L463.1 249L462.1 249.9L461.1 250.7L460.1 251.6L459.1 252.4L458.1 253.1L457.1 253.9L456.1 254.6L455.1 255.3L453.6 256.2L452.1 257.1L450.7 257.8L449.6 258.3L448.1 259L446.6 259.6L445.1 260.1L443.6 260.6L442.1 261.1L440.6 261.4L439.1 261.7L437.6 262L436.1 262.3M433.6 260.3L432.1 260.4L430.6 260.5L429.1 260.5L427.6 260.5L426.1 260.5L424.6 260.4L423.1 260.2L421.6 260L420.3 259.8L419.1 259.6L417.8 259.3L416.6 259L415.1 258.6L413.6 258.1L412.1 257.6L410.6 257L409.1 256.4L407.9 255.8L406.6 255.1L405.1 254.3L404.1 253.7L403.1 253L402.1 252.3L401.1 251.5L400.1 250.7L399.1 249.8L398.1 248.8L397.2 247.8L396.4 246.8L395.6 245.8L394.9 244.8L394.1 243.4L393.5 242.3L392.8 240.8L392.3 239.3L391.9 237.8L391.6 236.5L391.4 235.3L391.3 233.8L391.3 232.3L391.3 230.8L391.5 229.3L391.8 227.8L392.1 226.6L392.5 225.3L393 223.8L393.6 222.5L394.2 221.3L395 219.8L395.6 218.7L396.5 217.3L397.2 216.3L398 215.3L398.8 214.3L399.6 213.3L400.5 212.3L401.5 211.3L402.5 210.3L403.5 209.3L404.6 208.3L405.6 207.5L406.6 206.7L407.6 205.9L408.6 205.1L409.6 204.3L410.6 203.6L411.6 202.9L412.6 202.2L413.6 201.6L414.8 200.8L416.1 199.9L417.6 198.9L419.1 198L420.1 197.3L421.6 196.3L422.6 195.6L423.6 194.9L424.6 194.2L425.6 193.5L426.6 192.7L427.6 192L428.6 191.2L429.6 190.4L430.6 189.7L431.6 189L432.7 188.3L434.1 187.6L435.6 187.4L437.1 187.7L438.1 188.4L439.1 189.5L440 190.8L441 192.3L441.6 193.4L442.4 194.8L443.1 196L443.8 197.3L444.6 198.6L445.4 199.8L446.1 200.9L447 202.3L447.7 203.3L448.5 204.3L449.2 205.3L450 206.3L450.8 207.3L451.6 208.2L452.5 209.3L453.4 210.3L454.2 211.3L455.1 212.3L455.9 213.3L456.8 214.3L457.6 215.3L458.4 216.3L459.1 217.3L459.8 218.3L460.6 219.5L461.4 220.8L462.1 222.2L462.7 223.3L463.3 224.8L463.9 226.3L464.5 227.8L464.9 229.3L465.3 230.8L465.5 232.3L465.7 233.8L465.7 235.3L465.5 236.8L465.2 238.3L464.7 239.8L464.1 241.1L463.5 242.3L462.6 243.7L461.9 244.8L461.1 245.8L460.3 246.8L459.5 247.8L458.6 248.7L457.6 249.7L456.6 250.7L455.6 251.5L454.6 252.3L453.6 253.1L452.6 253.8L451.1 254.7L449.6 255.6L448.2 256.3L446.6 257L445.1 257.6L443.6 258.2L442.1 258.7L440.6 259.1L439.1 259.4L437.6 259.7L436.1 260L434.6 260.2M501.1 258.3L499.6 258.5L498.1 258.5L496.6 258.4L495.1 258.2L493.6 257.8L492.1 257.4L490.8 256.8L489.6 256.2L488.1 255.4L487.1 254.7L486.1 253.9L485.1 253.1L484.1 252.2L483.2 251.3L482.3 250.3L481.5 249.3L480.8 248.3L480.1 247.3L479.1 245.8L478.3 244.3L477.6 242.8L477.1 241.4L476.7 239.8L476.4 238.3L476.3 236.8L476.3 235.3L476.5 233.8L476.8 232.3L477.3 230.8L477.9 229.3L478.5 227.8L479.1 226.5L479.7 225.3L480.6 223.8L481.5 222.3L482.2 221.3L483.1 220.3L484.1 219.3L485.1 218.4L486.1 217.8L487.6 217L489.1 216.3L490.5 215.8L492.1 215.3L493.6 215L495.1 214.8L496.5 214.8L498.1 215.1L499.6 215.6L500.7 216.3L502.1 217.3L503.1 218.1L504.1 219L505.1 219.9L506 220.8L507 221.8L508 222.8L509 223.8L509.9 224.8L510.7 225.8L511.5 226.8L512.2 227.8L513.1 229.1L513.8 230.3L514.5 231.8L515.1 233.3L515.5 234.8L515.9 236.3L516.1 237.8L516.2 239.3L516.2 240.8L516.1 242.3L515.8 243.8L515.5 245.3L515 246.8L514.3 248.3L513.6 249.7L512.9 250.8L512.2 251.8L511.3 252.8L510.3 253.8L509.2 254.8L508.1 255.6L507 256.3L505.6 257L504.1 257.6L502.6 258L501.3 258.3M429.6 258.3L428.1 258.3L426.6 258.3L425.1 258.2L423.6 258L422.1 257.8L420.6 257.6L419.2 257.3L417.6 256.9L416.1 256.5L414.6 256.1L413.1 255.5L411.6 254.9L410.2 254.3L409.1 253.8L407.6 252.9L406.5 252.3L405.1 251.4L404.1 250.6L403.1 249.8L402.1 249L401.1 248L400.1 247L399.1 245.8L398.3 244.8L397.6 243.8L396.7 242.3L396.1 241L395.6 239.8L395.1 238.3L394.7 236.8L394.5 235.3L394.3 233.8L394.3 232.3L394.4 230.8L394.6 229.3L394.9 227.8L395.3 226.3L395.9 224.8L396.5 223.3L397.1 222.1L397.8 220.8L398.6 219.5L399.4 218.3L400.2 217.3L401 216.3L401.8 215.3L402.8 214.3L403.6 213.4L404.6 212.5L405.6 211.6L406.6 210.7L407.6 209.9L408.6 209.1L409.6 208.4L410.6 207.7L411.6 207L412.7 206.3L414.1 205.5L415.3 204.8L416.6 204.1L418.1 203.3L419.6 202.5L421.1 201.8L422.3 201.3L423.5 200.8L424.8 200.3L426.1 199.9L427.6 199.4L429.1 199.1L430.6 198.9L432.1 198.8L433.6 199L435.1 199.4L436.6 200.1L437.8 200.8L439.1 201.8L440.1 202.6L441.1 203.5L442.1 204.5L443.1 205.5L444.1 206.5L445.1 207.5L446.1 208.6L447.1 209.7L448.1 210.8L449.1 211.8L449.9 212.8L450.8 213.8L451.7 214.8L452.5 215.8L453.3 216.8L454.1 217.8L454.8 218.8L455.5 219.8L456.5 221.3L457.1 222.4L457.9 223.8L458.6 225.3L459.1 226.5L459.6 227.8L460 229.3L460.4 230.8L460.6 232.1L460.8 233.8L460.8 235.3L460.7 236.8L460.4 238.3L460.1 239.5L459.7 240.8L459.1 242.2L458.5 243.3L457.6 244.8L456.9 245.8L456.1 246.8L455.3 247.8L454.3 248.8L453.3 249.8L452.1 250.8L451.1 251.5L450.1 252.2L448.6 253.2L447.5 253.8L446.1 254.5L444.6 255.2L443.1 255.8L441.7 256.3L440.1 256.8L438.6 257.2L437.1 257.5L435.6 257.8L434.1 258L432.6 258.1L431.1 258.2L429.8 258.3M498.6 255.8L497.1 255.7L495.6 255.5L494.1 255.2L492.6 254.6L491.1 253.9L490 253.3L488.6 252.4L487.6 251.5L486.6 250.6L485.6 249.5L484.6 248.3L483.9 247.3L483.1 245.9L482.5 244.8L481.9 243.3L481.5 241.8L481.2 240.3L481 238.8L481 237.3L481.1 235.8L481.4 234.3L481.7 232.8L482.3 231.3L482.9 229.8L483.6 228.5L484.3 227.3L485 226.3L485.8 225.3L486.8 224.3L487.9 223.3L489.1 222.3L490.6 221.4L491.9 220.8L493.1 220.4L494.6 220L496.1 219.8L497.6 219.9L499.1 220.3L500.5 220.8L501.6 221.4L503 222.3L504.1 223.1L505.1 223.9L506.1 224.8L507.1 225.7L508.1 226.8L509 227.8L509.8 228.8L510.5 229.8L511.4 231.3L512.1 232.8L512.6 234L513 235.3L513.3 236.8L513.6 238.3L513.6 239.8L513.6 241.3L513.4 242.8L513.1 244.1L512.7 245.3L512.2 246.8L511.6 247.9L510.7 249.3L510 250.3L509.1 251.3L508.1 252.2L507.1 253L505.9 253.8L504.6 254.5L503.1 255.1L501.6 255.5L500.1 255.7L498.9 255.8M432.1 255.8L430.6 255.9L429.1 256L427.6 256L426.1 255.9L424.6 255.8L423.1 255.6L421.6 255.4L420.1 255.1L418.7 254.8L417.1 254.4L415.6 253.9L414.1 253.3L412.8 252.8L411.7 252.3L410.6 251.7L409.1 250.9L407.6 249.9L406.6 249.2L405.6 248.5L404.6 247.6L403.6 246.7L402.8 245.8L401.9 244.8L401.1 243.8L400.5 242.8L399.6 241.3L398.9 239.8L398.3 238.3L397.9 236.8L397.6 235.3L397.5 233.8L397.5 232.3L397.6 230.8L397.8 229.3L398.1 228L398.4 226.8L399 225.3L399.6 224L400.2 222.8L401.1 221.3L401.8 220.3L402.5 219.3L403.3 218.3L404.1 217.4L405.1 216.3L406.1 215.3L407.1 214.4L408.1 213.6L409.1 212.8L410.1 212.1L411.1 211.4L412.6 210.4L414.1 209.5L415.4 208.8L416.6 208.2L418.1 207.5L419.6 206.9L421.1 206.4L422.6 205.9L424.1 205.5L425.6 205.2L427.1 205L428.6 204.9L430.1 204.9L431.6 205.1L433.1 205.4L434.4 205.8L435.6 206.3L436.7 206.8L438.1 207.6L439.2 208.3L440.6 209.3L441.6 210.1L442.6 210.9L443.6 211.8L444.6 212.7L445.6 213.7L446.6 214.7L447.6 215.7L448.6 216.8L449.4 217.8L450.2 218.8L451 219.8L451.8 220.8L452.4 221.8L453.1 222.8L453.9 224.3L454.6 225.6L455.1 226.7L455.6 227.8L456.1 229.3L456.4 230.8L456.7 232.3L456.9 233.8L456.9 235.3L456.8 236.8L456.6 238.1L456.3 239.3L455.8 240.8L455.2 242.3L454.3 243.8L453.6 244.9L452.6 246.2L451.6 247.3L450.6 248.3L449.6 249.1L448.6 249.9L447.6 250.6L446.5 251.3L445.1 252.1L443.7 252.8L442.6 253.3L441.3 253.8L440.1 254.2L438.6 254.7L437.1 255L435.9 255.3L434.6 255.5L433.1 255.7M501.6 252.3L500.1 252.6L498.6 252.7L497.1 252.7L495.6 252.4L494.1 251.9L492.7 251.3L491.6 250.7L490.6 250L489.6 249.2L488.7 248.3L487.9 247.3L487.2 246.3L486.3 244.8L485.7 243.3L485.2 241.8L485 240.3L484.8 238.8L484.9 237.3L485.1 235.8L485.5 234.3L486 232.8L486.6 231.5L487.3 230.3L488 229.3L488.8 228.3L489.8 227.3L491.1 226.3L492.6 225.4L494 224.8L495.6 224.4L497.1 224.3L498.6 224.5L499.8 224.8L501.1 225.3L502.6 226.1L503.6 226.8L504.6 227.6L505.6 228.5L506.6 229.5L507.6 230.8L508.3 231.8L509.1 233.2L509.6 234.3L510.1 235.7L510.5 237.3L510.7 238.8L510.7 240.3L510.6 241.7L510.3 243.3L509.8 244.8L509.1 246.3L508.1 247.8L507.3 248.8L506.3 249.8L505.1 250.7L503.6 251.6L502.1 252.2M432.1 253.3L430.6 253.4L429.1 253.5L427.6 253.5L426.1 253.4L424.6 253.3L423.1 253.1L421.6 252.9L420.1 252.6L418.6 252.2L417.4 251.8L416.1 251.3L414.7 250.8L413.6 250.3L412.1 249.5L410.8 248.8L409.6 248L408.6 247.3L407.6 246.5L406.6 245.5L405.6 244.5L404.6 243.3L403.8 242.3L403.1 241.1L402.4 239.8L401.8 238.3L401.3 236.8L401 235.3L400.9 233.8L400.8 232.3L401 230.8L401.2 229.3L401.6 227.9L402.1 226.5L402.6 225.3L403.4 223.8L404.1 222.7L405.1 221.3L405.9 220.3L406.7 219.3L407.6 218.4L408.6 217.5L409.6 216.6L410.6 215.8L411.6 215.1L412.6 214.4L413.7 213.8L415.1 213L416.5 212.3L417.6 211.8L418.9 211.3L420.1 210.9L421.6 210.5L423.1 210.1L424.6 209.8L426.1 209.7L427.6 209.6L429.1 209.7L430.6 209.9L432.1 210.2L433.6 210.6L435.1 211.2L436.5 211.8L437.6 212.4L439.1 213.3L440.1 214L441.1 214.7L442.1 215.5L443.1 216.4L444.1 217.3L445.1 218.3L446.1 219.3L446.9 220.3L447.8 221.3L448.5 222.3L449.2 223.3L450.1 224.7L450.7 225.8L451.5 227.3L452.1 228.8L452.6 230.3L452.9 231.8L453.1 233.1L453.2 234.8L453.1 236.3L452.9 237.8L452.6 239.1L452.2 240.3L451.6 241.7L451 242.8L450.1 244.1L449.1 245.3L448.2 246.3L447.1 247.3L446.1 248.1L445.1 248.8L443.6 249.7L442.1 250.5L440.6 251.2L439.1 251.8L437.6 252.2L436.1 252.6L434.6 252.9L433.1 253.2M499.6 248.8L498.1 248.9L496.6 248.7L495.3 248.3L494.1 247.7L492.7 246.8L491.7 245.8L490.9 244.8L490.1 243.5L489.6 242.4L489.2 240.8L489 239.3L489 237.8L489.3 236.3L489.8 234.8L490.6 233.3L491.3 232.3L492.1 231.4L493.1 230.5L494.3 229.8L495.6 229.3L497.1 229.1L498.6 229.1L500.1 229.5L501.6 230.2L502.6 230.9L503.6 231.8L504.6 232.8L505.3 233.8L506.1 235.2L506.6 236.5L506.9 237.8L507.1 239.2L507.1 240.8L506.8 242.3L506.2 243.8L505.6 244.9L504.6 246.2L503.6 247.1L502.6 247.8L501.1 248.5L499.7 248.8M433.1 250.4L431.6 250.6L430.1 250.7L428.6 250.8L427.1 250.8L425.6 250.7L424.1 250.5L422.7 250.3L421.1 250L419.6 249.6L418.1 249.1L416.6 248.5L415.1 247.8L413.6 247L412.5 246.3L411.1 245.3L410.1 244.5L409.1 243.5L408.1 242.4L407.2 241.3L406.3 239.8L405.6 238.3L405.1 236.9L404.7 235.3L404.5 233.8L404.5 232.3L404.7 230.8L405 229.3L405.5 227.8L406.1 226.4L406.7 225.3L407.6 223.9L408.4 222.8L409.3 221.8L410.3 220.8L411.4 219.8L412.6 218.8L413.6 218.1L414.9 217.3L416.1 216.6L417.6 215.9L419.1 215.3L420.6 214.9L422.1 214.5L423.6 214.2L425.1 214L426.6 213.9L428.1 214L429.6 214.1L431.1 214.4L432.6 214.8L434 215.3L435.2 215.8L436.6 216.5L438 217.3L439.1 218L440.1 218.8L441.1 219.6L442.1 220.5L443.1 221.5L444.1 222.5L445.1 223.8L445.9 224.8L446.6 225.9L447.4 227.3L448.1 228.8L448.6 230.2L449 231.8L449.3 233.3L449.3 234.8L449.2 236.3L449 237.8L448.6 239.1L448.1 240.3L447.3 241.8L446.6 242.8L445.8 243.8L444.9 244.8L443.7 245.8L442.6 246.6L441.6 247.3L440.1 248.1L438.6 248.8L437.3 249.3L436.1 249.7L434.6 250.1L433.1 250.4M499.1 241.5L497.6 241.6L496.6 240.9L496 239.8L496.1 238.4L496.9 237.3L498.1 236.9L499.4 237.3L500.2 238.3L500.4 239.8L499.6 241.2M431.6 247.3L430.1 247.5L428.6 247.6L427.1 247.6L425.6 247.5L424.1 247.3L422.6 247L421.1 246.7L419.6 246.2L418.1 245.6L416.6 244.8L415.1 243.9L414.1 243.1L413.1 242.3L412.1 241.3L411.3 240.3L410.6 239.3L409.8 237.8L409.2 236.3L408.9 234.8L408.8 233.3L408.9 231.8L409.1 230.5L409.4 229.3L410.1 227.8L410.9 226.3L411.6 225.3L412.5 224.3L413.5 223.3L414.6 222.4L415.6 221.6L417 220.8L418.1 220.2L419.6 219.6L421.1 219.1L422.6 218.7L424.1 218.4L425.6 218.3L427.1 218.3L428.6 218.4L430.1 218.7L431.6 219L433.1 219.5L434.6 220.2L435.7 220.8L437.1 221.7L438.1 222.4L439.1 223.2L440.1 224.1L441.1 225.2L442 226.3L442.7 227.3L443.5 228.8L444.1 230.1L444.5 231.3L444.9 232.8L445 234.3L444.9 235.8L444.7 237.3L444.2 238.8L443.6 240L442.7 241.3L441.9 242.3L440.8 243.3L439.6 244.2L438.1 245.2L436.8 245.8L435.6 246.3L434.1 246.8L432.6 247.1M430.1 243.4L428.6 243.5L427.1 243.6L425.6 243.5L424.1 243.2L422.6 242.8L421.2 242.3L419.6 241.5L418.5 240.8L417.2 239.8L416.3 238.8L415.5 237.8L414.8 236.3L414.3 234.8L414.2 233.3L414.3 231.8L414.8 230.3L415.5 228.8L416.3 227.8L417.1 226.9L418.1 226L419.1 225.3L420.6 224.5L422.1 223.9L423.6 223.6L425.1 223.3L426.6 223.3L428.1 223.4L429.6 223.7L431.1 224.1L432.6 224.7L433.7 225.3L435.1 226.2L436.1 227.1L437.1 228.1L438 229.3L438.6 230.4L439.1 231.6L439.4 232.8L439.6 234.3L439.4 235.8L439.1 237L438.5 238.3L437.8 239.3L436.9 240.3L435.6 241.3L434.1 242.2L432.6 242.8L431.1 243.2" fill="none" stroke="#464646" stroke-width="1.0"/>
<rect x="238" y="84.5" width="45" height="47.5" fill="#fff" fill-opacity="0.85"/>
<rect x="346" y="83" width="46" height="52" fill="#fff" fill-opacity="0.8"/>
<rect x="506" y="85" width="44" height="46" fill="#fff" fill-opacity="0.8"/>
<rect x="358" y="257" width="34" height="20" fill="#fff" fill-opacity="0.6"/>
<rect x="508" y="257" width="32" height="20" fill="#fff" fill-opacity="0.6"/>
<path d="M75.5 195.3H306.5M215.5 81.5V312.3" stroke="#000" stroke-width="1.6"/>
<path d="M344.6 195H575M472.4 81.3V312" stroke="#000" stroke-width="1.6"/>
<rect x="75.5" y="81.5" width="231" height="230.8" fill="none" stroke="#111" stroke-width="1.4"/>
<rect x="344.6" y="81.3" width="230.4" height="230.7" fill="none" stroke="#111" stroke-width="1.4"/>
<path d="M70.3 261h5.2v16h-5.2z" fill="#000"/>
<path d="M92 312.3h7.5v5.5h-7.5z" fill="#000"/>
<path d="M72.3 87.5L75.5 87.5M72.3 140.2L75.5 140.2M72.3 130.9L75.5 130.9M72.3 124.3L75.5 124.3M72.3 119.2L75.5 119.2M72.3 115.1L75.5 115.1M72.3 111.5L75.5 111.5M72.3 108.5L75.5 108.5M72.3 105.8L75.5 105.8M72.3 192.8L75.5 192.8M72.3 183.5L75.5 183.5M72.3 176.9L75.5 176.9M72.3 171.8L75.5 171.8M72.3 167.7L75.5 167.7M72.3 164.1L75.5 164.1M72.3 161.1L75.5 161.1M72.3 158.4L75.5 158.4M72.3 245.2L75.5 245.2M72.3 235.9L75.5 235.9M72.3 229.3L75.5 229.3M72.3 224.2L75.5 224.2M72.3 220.1L75.5 220.1M72.3 216.5L75.5 216.5M72.3 213.5L75.5 213.5M72.3 210.8L75.5 210.8M72.3 285L75.5 285M72.3 291L75.5 291M72.3 297L75.5 297M72.3 303.5L75.5 303.5M72.3 309.5L75.5 309.5M138.9 312.3L138.9 315.7M148.4 312.3L148.4 315.7M155.1 312.3L155.1 315.7M160.3 312.3L160.3 315.7M164.5 312.3L164.5 315.7M168.1 312.3L168.1 315.7M171.2 312.3L171.2 315.7M173.9 312.3L173.9 315.7M193.8 312.3L193.8 315.7M203.3 312.3L203.3 315.7M210 312.3L210 315.7M215.2 312.3L215.2 315.7M219.4 312.3L219.4 315.7M223 312.3L223 315.7M226.1 312.3L226.1 315.7M228.8 312.3L228.8 315.7M247 312.3L247 315.7M256.5 312.3L256.5 315.7M263.2 312.3L263.2 315.7M268.4 312.3L268.4 315.7M272.6 312.3L272.6 315.7M276.2 312.3L276.2 315.7M279.3 312.3L279.3 315.7M299.1 312.3L299.1 315.7M102.5 312.3L102.5 315.7M106 312.3L106 315.7M109.5 312.3L109.5 315.7M113 312.3L113 315.7M116.5 312.3L116.5 315.7M119.5 312.3L119.5 315.7M77 312.3L77 315.7M80.5 312.3L80.5 315.7M84 312.3L84 315.7M87.5 312.3L87.5 315.7M90 312.3L90 315.7" stroke="#000" stroke-width="1.0"/>
<path d="M70 103.3L75.5 103.3M70 156L75.5 156M70 208.6L75.5 208.6M122.8 312.3L122.8 318.3M177.7 312.3L177.7 318.3M230.9 312.3L230.9 318.3M283 312.3L283 318.3" stroke="#000" stroke-width="1.6"/>
<path d="M339.4 261h5.2v16h-5.2z" fill="#000"/>
<path d="M361.1 312h7.5v5.5h-7.5z" fill="#000"/>
<path d="M341.4 87.5L344.6 87.5M341.4 140.2L344.6 140.2M341.4 130.9L344.6 130.9M341.4 124.3L344.6 124.3M341.4 119.2L344.6 119.2M341.4 115.1L344.6 115.1M341.4 111.5L344.6 111.5M341.4 108.5L344.6 108.5M341.4 105.8L344.6 105.8M341.4 192.8L344.6 192.8M341.4 183.5L344.6 183.5M341.4 176.9L344.6 176.9M341.4 171.8L344.6 171.8M341.4 167.7L344.6 167.7M341.4 164.1L344.6 164.1M341.4 161.1L344.6 161.1M341.4 158.4L344.6 158.4M341.4 245.2L344.6 245.2M341.4 235.9L344.6 235.9M341.4 229.3L344.6 229.3M341.4 224.2L344.6 224.2M341.4 220.1L344.6 220.1M341.4 216.5L344.6 216.5M341.4 213.5L344.6 213.5M341.4 210.8L344.6 210.8M341.4 285L344.6 285M341.4 291L344.6 291M341.4 297L344.6 297M341.4 303.5L344.6 303.5M341.4 309.5L344.6 309.5M408 312L408 315.4M417.5 312L417.5 315.4M424.2 312L424.2 315.4M429.4 312L429.4 315.4M433.6 312L433.6 315.4M437.2 312L437.2 315.4M440.3 312L440.3 315.4M443 312L443 315.4M462.9 312L462.9 315.4M472.4 312L472.4 315.4M479.1 312L479.1 315.4M484.3 312L484.3 315.4M488.5 312L488.5 315.4M492.1 312L492.1 315.4M495.2 312L495.2 315.4M497.9 312L497.9 315.4M516.1 312L516.1 315.4M525.6 312L525.6 315.4M532.3 312L532.3 315.4M537.5 312L537.5 315.4M541.7 312L541.7 315.4M545.3 312L545.3 315.4M548.4 312L548.4 315.4M568.2 312L568.2 315.4M371.6 312L371.6 315.4M375.1 312L375.1 315.4M378.6 312L378.6 315.4M382.1 312L382.1 315.4M385.6 312L385.6 315.4M388.6 312L388.6 315.4M346.1 312L346.1 315.4M349.6 312L349.6 315.4M353.1 312L353.1 315.4M356.6 312L356.6 315.4M359.1 312L359.1 315.4" stroke="#000" stroke-width="1.0"/>
<path d="M339.1 103.3L344.6 103.3M339.1 156L344.6 156M339.1 208.6L344.6 208.6M391.9 312L391.9 318M446.8 312L446.8 318M500 312L500 318M552.1 312L552.1 318" stroke="#000" stroke-width="1.6"/>
<rect x="215.7" y="82.8" width="89.2" height="112.9" fill="none" stroke="#1370c4" stroke-width="3"/>
<rect x="341.6" y="194.5" width="129.3" height="117.9" fill="none" stroke="#e8141c" stroke-width="3"/>
<text transform="translate(79.9 116.3) scale(1.079 1)" font-size="19.3">0.28</text>
<text transform="translate(238.4 116.3) scale(1.110 1)" font-size="19.3">93.5</text>
<text transform="translate(79.9 291.4) scale(1.060 1)" font-size="19.3">0.21</text>
<text transform="translate(238.8 291.4) scale(1.099 1)" font-size="19.3">6.03</text>
<text transform="translate(349.1 115.6) scale(1.077 1)" font-size="19.3">13.6</text>
<text transform="translate(507.9 115.6) scale(1.077 1)" font-size="19.3">6.00</text>
<text transform="translate(348.5 291.4) scale(1.066 1)" font-size="19.3">62.1</text>
<text transform="translate(510.4 291.4) scale(1.033 1)" font-size="19.3">18.2</text>
<text x="1356.9" y="43.5" font-size="20" font-weight="bold" text-anchor="middle">CD44</text>
<text x="1538.5" y="43.5" font-size="20" font-weight="bold" text-anchor="middle">CD25</text>
<text x="1720.7" y="43.5" font-size="20" font-weight="bold" text-anchor="middle">PD-1</text>
<text x="1902.9" y="43.5" font-size="20" font-weight="bold" text-anchor="middle">TIGIT</text>
<path d="M1279.4 211.4 1280.1 211.4 1280.9 211.4 1281.6 211.4 1282.4 211.4 1283.1 211.4 1283.9 211.4 1284.6 211.4 1285.4 211.4 1286.1 211.4 1286.9 211.4 1287.6 211.4 1288.4 211.4 1289.1 211.4 1289.9 211.4 1290.6 211.4 1291.4 211.3 1292.1 211.3 1292.9 211.2 1293.6 211.1 1294.4 211 1295.1 210.8 1295.9 210.4 1296.6 210 1297.4 209.3 1298.1 208.6 1298.9 207.3 1299.6 205.3 1300.4 203.6 1301.1 200.2 1301.9 197.2 1302.6 193.2 1303.4 187.3 1304.1 181.4 1304.9 174.4 1305.6 165.5 1306.4 155.7 1307.1 146.1 1307.9 133.6 1308.6 123.9 1309.4 111.5 1310.1 101.6 1310.9 92.3 1311.6 82.4 1312.4 74.1 1313.1 69.3 1313.9 65.5 1314.6 66.3 1315.4 67.4 1316.1 70.9 1316.9 75 1317.6 80.9 1318.4 91.1 1319.1 99.5 1319.9 112.1 1320.6 122.6 1321.4 132.3 1322.1 142.6 1322.9 152.7 1323.6 163.4 1324.4 171 1325.1 179 1325.9 184.7 1326.6 190.5 1327.4 195 1328.1 198.7 1328.9 201.6 1329.6 204.4 1330.4 206 1331.1 207.8 1331.9 208.8 1332.6 209.6 1333.4 210.1 1334.1 210.5 1334.9 210.8 1335.6 211 1336.4 211.2 1337.1 211.2 1337.9 211.3 1338.6 211.3 1339.4 211.4 1340.1 211.4 1340.9 211.4 1341.6 211.4 1342.4 211.4 1343.1 211.4 1343.9 211.4 1344.6 211.4 1345.4 211.4 1346.1 211.4 1346.9 211.4 1347.6 211.4 1348.4 211.4 1349.1 211.4 1349.9 211.4 1350.6 211.4 1351.4 211.4 1352.1 211.4 1352.9 211.4 1353.6 211.4 1354.4 211.4 1355.1 211.4 1355.9 211.4 1356.6 211.4 1357.4 211.4 1358.1 211.4 1358.9 211.4 1359.6 211.4 1360.4 211.4 1361.1 211.4 1361.9 211.4 1362.6 211.4 1363.4 211.4 1364.1 211.4 1364.9 211.4 1365.6 211.4 1366.4 211.4 1367.1 211.4 1367.9 211.4 1368.6 211.4 1369.4 211.4 1370.1 211.4 1370.9 211.4 1371.6 211.4 1372.4 211.4 1373.1 211.4 1373.9 211.4 1374.6 211.4 1375.4 211.4 1376.1 211.4 1376.9 211.4 1377.6 211.4 1378.4 211.4 1379.1 211.4 1379.9 211.4 1380.6 211.4 1381.4 211.4 1382.1 211.4 1382.9 211.4 1383.6 211.4 1384.4 211.4 1385.1 211.4 1385.9 211.4 1386.6 211.4 1387.4 211.4 1388.1 211.4 1388.9 211.4 1389.6 211.4 1390.4 211.4 1391.1 211.4 1391.9 211.4 1392.6 211.4 1393.4 211.4 1394.1 211.4 1394.9 211.4 1395.6 211.4 1396.4 211.4 1397.1 211.4 1397.9 211.4 1398.6 211.4 1399.4 211.4 1400.1 211.4 1400.9 211.4 1401.6 211.4 1402.4 211.4 1403.1 211.4 1403.9 211.4 1404.6 211.4 1405.4 211.4 1406.1 211.4 1406.9 211.4 1407.6 211.4 1408.4 211.4 1409.1 211.4 1409.9 211.4 1410.6 211.4 1411.4 211.4 1412.1 211.4 1412.9 211.4 1413.6 211.4 1414.4 211.4 1415.1 211.4 1415.9 211.4 1416.6 211.4 1417.4 211.4 1418.1 211.4 1418.9 211.4 1419.6 211.4 1420.4 211.4 1421.1 211.4 1421.9 211.4 1422.6 211.4 1423.4 211.4 1424.1 211.4 1424.9 211.4 1425.6 211.4 1426.4 211.4 1427.1 211.4 1427.9 211.4 1428.6 211.4 1429.4 211.4 1430.1 211.4 1430.9 211.4 1431.6 211.4 1432.4 211.4 1433.1 211.4 1433.9 211.4L1434.4 211.4L1279.4 211.4Z" fill="#e8e8e8" stroke="none"/>
<path d="M1279.4 211.4 1280.1 211.4 1280.9 211.4 1281.6 211.4 1282.4 211.4 1283.1 211.4 1283.9 211.4 1284.6 211.4 1285.4 211.4 1286.1 211.4 1286.9 211.4 1287.6 211.4 1288.4 211.4 1289.1 211.4 1289.9 211.4 1290.6 211.4 1291.4 211.4 1292.1 211.4 1292.9 211.4 1293.6 211.4 1294.4 211.4 1295.1 211.4 1295.9 211.4 1296.6 211.4 1297.4 211.4 1298.1 211.4 1298.9 211.4 1299.6 211.4 1300.4 211.4 1301.1 211.4 1301.9 211.4 1302.6 211.4 1303.4 211.4 1304.1 211.4 1304.9 211.4 1305.6 211.4 1306.4 211.4 1307.1 211.4 1307.9 211.4 1308.6 211.4 1309.4 211.4 1310.1 211.4 1310.9 211.4 1311.6 211.4 1312.4 211.4 1313.1 211.4 1313.9 211.4 1314.6 211.4 1315.4 211.4 1316.1 211.4 1316.9 211.4 1317.6 211.4 1318.4 211.4 1319.1 211.4 1319.9 211.4 1320.6 211.4 1321.4 211.4 1322.1 211.4 1322.9 211.4 1323.6 211.4 1324.4 211.4 1325.1 211.4 1325.9 211.4 1326.6 211.4 1327.4 211.4 1328.1 211.4 1328.9 211.4 1329.6 211.4 1330.4 211.4 1331.1 211.4 1331.9 211.4 1332.6 211.4 1333.4 211.4 1334.1 211.4 1334.9 211.4 1335.6 211.4 1336.4 211.4 1337.1 211.4 1337.9 211.4 1338.6 211.4 1339.4 211.4 1340.1 211.4 1340.9 211.4 1341.6 211.4 1342.4 211.4 1343.1 211.4 1343.9 211.4 1344.6 211.4 1345.4 211.4 1346.1 211.4 1346.9 211.4 1347.6 211.4 1348.4 211.4 1349.1 211.4 1349.9 211.4 1350.6 211.4 1351.4 211.4 1352.1 211.4 1352.9 211.4 1353.6 211.4 1354.4 211.4 1355.1 211.4 1355.9 211.3 1356.6 211.3 1357.4 211.3 1358.1 211.3 1358.9 211.3 1359.6 211.3 1360.4 211.2 1361.1 211.2 1361.9 211.2 1362.6 211.1 1363.4 211 1364.1 211 1364.9 210.9 1365.6 210.8 1366.4 210.7 1367.1 210.6 1367.9 210.5 1368.6 210.4 1369.4 210.2 1370.1 210 1370.9 209.8 1371.6 209.6 1372.4 209.4 1373.1 209.1 1373.9 208.8 1374.6 208.5 1375.4 208.4 1376.1 207.8 1376.9 207.3 1377.6 206.9 1378.4 206.4 1379.1 206.2 1379.9 205.4 1380.6 205.1 1381.4 204.9 1382.1 204.1 1382.9 203.9 1383.6 202.6 1384.4 201.9 1385.1 201.8 1385.9 201.2 1386.6 200 1387.4 199.8 1388.1 199 1388.9 198.1 1389.6 196.9 1390.4 195.4 1391.1 193.6 1391.9 193 1392.6 190.2 1393.4 188.6 1394.1 185.6 1394.9 182.9 1395.6 180.6 1396.4 175.9 1397.1 172.5 1397.9 167.9 1398.6 161.6 1399.4 154.8 1400.1 148.6 1400.9 142.4 1401.6 133.3 1402.4 125.2 1403.1 119 1403.9 110.4 1404.6 101.8 1405.4 93.3 1406.1 88.6 1406.9 80.8 1407.6 73.7 1408.4 70.3 1409.1 66.5 1409.9 64.1 1410.6 64.2 1411.4 65.6 1412.1 66.9 1412.9 71.3 1413.6 77.7 1414.4 83.2 1415.1 93.2 1415.9 102 1416.6 111 1417.4 121 1418.1 131 1418.9 141.5 1419.6 151.9 1420.4 159.5 1421.1 167.5 1421.9 175.2 1422.6 181.6 1423.4 187.5 1424.1 192.3 1424.9 196.2 1425.6 200 1426.4 202.2 1427.1 204.2 1427.9 206.4 1428.6 207.4 1429.4 208.5 1430.1 209.3 1430.9 209.9 1431.6 210.3 1432.4 210.6 1433.1 210.9 1433.9 211L1434.4 211.4L1279.4 211.4Z" fill="rgba(70,140,220,0.2)" stroke="none"/>
<path d="M1279.4 211.4 1280.1 211.4 1280.9 211.4 1281.6 211.4 1282.4 211.4 1283.1 211.4 1283.9 211.4 1284.6 211.4 1285.4 211.4 1286.1 211.4 1286.9 211.4 1287.6 211.4 1288.4 211.4 1289.1 211.4 1289.9 211.4 1290.6 211.4 1291.4 211.3 1292.1 211.3 1292.9 211.2 1293.6 211.1 1294.4 211 1295.1 210.8 1295.9 210.4 1296.6 210 1297.4 209.3 1298.1 208.6 1298.9 207.3 1299.6 205.3 1300.4 203.6 1301.1 200.2 1301.9 197.2 1302.6 193.2 1303.4 187.3 1304.1 181.4 1304.9 174.4 1305.6 165.5 1306.4 155.7 1307.1 146.1 1307.9 133.6 1308.6 123.9 1309.4 111.5 1310.1 101.6 1310.9 92.3 1311.6 82.4 1312.4 74.1 1313.1 69.3 1313.9 65.5 1314.6 66.3 1315.4 67.4 1316.1 70.9 1316.9 75 1317.6 80.9 1318.4 91.1 1319.1 99.5 1319.9 112.1 1320.6 122.6 1321.4 132.3 1322.1 142.6 1322.9 152.7 1323.6 163.4 1324.4 171 1325.1 179 1325.9 184.7 1326.6 190.5 1327.4 195 1328.1 198.7 1328.9 201.6 1329.6 204.4 1330.4 206 1331.1 207.8 1331.9 208.8 1332.6 209.6 1333.4 210.1 1334.1 210.5 1334.9 210.8 1335.6 211 1336.4 211.2 1337.1 211.2 1337.9 211.3 1338.6 211.3 1339.4 211.4 1340.1 211.4 1340.9 211.4 1341.6 211.4 1342.4 211.4 1343.1 211.4 1343.9 211.4 1344.6 211.4 1345.4 211.4 1346.1 211.4 1346.9 211.4 1347.6 211.4 1348.4 211.4 1349.1 211.4 1349.9 211.4 1350.6 211.4 1351.4 211.4 1352.1 211.4 1352.9 211.4 1353.6 211.4 1354.4 211.4 1355.1 211.4 1355.9 211.4 1356.6 211.4 1357.4 211.4 1358.1 211.4 1358.9 211.4 1359.6 211.4 1360.4 211.4 1361.1 211.4 1361.9 211.4 1362.6 211.4 1363.4 211.4 1364.1 211.4 1364.9 211.4 1365.6 211.4 1366.4 211.4 1367.1 211.4 1367.9 211.4 1368.6 211.4 1369.4 211.4 1370.1 211.4 1370.9 211.4 1371.6 211.4 1372.4 211.4 1373.1 211.4 1373.9 211.4 1374.6 211.4 1375.4 211.4 1376.1 211.4 1376.9 211.4 1377.6 211.4 1378.4 211.4 1379.1 211.4 1379.9 211.4 1380.6 211.4 1381.4 211.4 1382.1 211.4 1382.9 211.4 1383.6 211.4 1384.4 211.4 1385.1 211.4 1385.9 211.4 1386.6 211.4 1387.4 211.4 1388.1 211.4 1388.9 211.4 1389.6 211.4 1390.4 211.4 1391.1 211.4 1391.9 211.4 1392.6 211.4 1393.4 211.4 1394.1 211.4 1394.9 211.4 1395.6 211.4 1396.4 211.4 1397.1 211.4 1397.9 211.4 1398.6 211.4 1399.4 211.4 1400.1 211.4 1400.9 211.4 1401.6 211.4 1402.4 211.4 1403.1 211.4 1403.9 211.4 1404.6 211.4 1405.4 211.4 1406.1 211.4 1406.9 211.4 1407.6 211.4 1408.4 211.4 1409.1 211.4 1409.9 211.4 1410.6 211.4 1411.4 211.4 1412.1 211.4 1412.9 211.4 1413.6 211.4 1414.4 211.4 1415.1 211.4 1415.9 211.4 1416.6 211.4 1417.4 211.4 1418.1 211.4 1418.9 211.4 1419.6 211.4 1420.4 211.4 1421.1 211.4 1421.9 211.4 1422.6 211.4 1423.4 211.4 1424.1 211.4 1424.9 211.4 1425.6 211.4 1426.4 211.4 1427.1 211.4 1427.9 211.4 1428.6 211.4 1429.4 211.4 1430.1 211.4 1430.9 211.4 1431.6 211.4 1432.4 211.4 1433.1 211.4 1433.9 211.4" fill="none" stroke="#707070" stroke-width="1.7" stroke-linejoin="round"/>
<path d="M1279.4 211.4 1280.1 211.4 1280.9 211.4 1281.6 211.4 1282.4 211.4 1283.1 211.4 1283.9 211.4 1284.6 211.4 1285.4 211.4 1286.1 211.4 1286.9 211.4 1287.6 211.4 1288.4 211.4 1289.1 211.4 1289.9 211.4 1290.6 211.4 1291.4 211.4 1292.1 211.4 1292.9 211.4 1293.6 211.4 1294.4 211.4 1295.1 211.4 1295.9 211.4 1296.6 211.4 1297.4 211.4 1298.1 211.4 1298.9 211.4 1299.6 211.4 1300.4 211.4 1301.1 211.4 1301.9 211.4 1302.6 211.4 1303.4 211.4 1304.1 211.4 1304.9 211.4 1305.6 211.4 1306.4 211.4 1307.1 211.4 1307.9 211.4 1308.6 211.4 1309.4 211.4 1310.1 211.4 1310.9 211.4 1311.6 211.4 1312.4 211.4 1313.1 211.4 1313.9 211.4 1314.6 211.4 1315.4 211.4 1316.1 211.4 1316.9 211.4 1317.6 211.4 1318.4 211.4 1319.1 211.4 1319.9 211.4 1320.6 211.4 1321.4 211.4 1322.1 211.4 1322.9 211.4 1323.6 211.4 1324.4 211.4 1325.1 211.4 1325.9 211.4 1326.6 211.4 1327.4 211.4 1328.1 211.4 1328.9 211.4 1329.6 211.4 1330.4 211.4 1331.1 211.4 1331.9 211.4 1332.6 211.4 1333.4 211.4 1334.1 211.4 1334.9 211.4 1335.6 211.4 1336.4 211.4 1337.1 211.4 1337.9 211.4 1338.6 211.4 1339.4 211.4 1340.1 211.4 1340.9 211.4 1341.6 211.4 1342.4 211.4 1343.1 211.4 1343.9 211.4 1344.6 211.4 1345.4 211.4 1346.1 211.4 1346.9 211.4 1347.6 211.4 1348.4 211.4 1349.1 211.4 1349.9 211.4 1350.6 211.4 1351.4 211.4 1352.1 211.4 1352.9 211.4 1353.6 211.4 1354.4 211.4 1355.1 211.4 1355.9 211.3 1356.6 211.3 1357.4 211.3 1358.1 211.3 1358.9 211.3 1359.6 211.3 1360.4 211.2 1361.1 211.2 1361.9 211.2 1362.6 211.1 1363.4 211 1364.1 211 1364.9 210.9 1365.6 210.8 1366.4 210.7 1367.1 210.6 1367.9 210.5 1368.6 210.4 1369.4 210.2 1370.1 210 1370.9 209.8 1371.6 209.6 1372.4 209.4 1373.1 209.1 1373.9 208.8 1374.6 208.5 1375.4 208.4 1376.1 207.8 1376.9 207.3 1377.6 206.9 1378.4 206.4 1379.1 206.2 1379.9 205.4 1380.6 205.1 1381.4 204.9 1382.1 204.1 1382.9 203.9 1383.6 202.6 1384.4 201.9 1385.1 201.8 1385.9 201.2 1386.6 200 1387.4 199.8 1388.1 199 1388.9 198.1 1389.6 196.9 1390.4 195.4 1391.1 193.6 1391.9 193 1392.6 190.2 1393.4 188.6 1394.1 185.6 1394.9 182.9 1395.6 180.6 1396.4 175.9 1397.1 172.5 1397.9 167.9 1398.6 161.6 1399.4 154.8 1400.1 148.6 1400.9 142.4 1401.6 133.3 1402.4 125.2 1403.1 119 1403.9 110.4 1404.6 101.8 1405.4 93.3 1406.1 88.6 1406.9 80.8 1407.6 73.7 1408.4 70.3 1409.1 66.5 1409.9 64.1 1410.6 64.2 1411.4 65.6 1412.1 66.9 1412.9 71.3 1413.6 77.7 1414.4 83.2 1415.1 93.2 1415.9 102 1416.6 111 1417.4 121 1418.1 131 1418.9 141.5 1419.6 151.9 1420.4 159.5 1421.1 167.5 1421.9 175.2 1422.6 181.6 1423.4 187.5 1424.1 192.3 1424.9 196.2 1425.6 200 1426.4 202.2 1427.1 204.2 1427.9 206.4 1428.6 207.4 1429.4 208.5 1430.1 209.3 1430.9 209.9 1431.6 210.3 1432.4 210.6 1433.1 210.9 1433.9 211" fill="none" stroke="#1a7de8" stroke-width="2.2" stroke-linejoin="round"/>
<line x1="1356" y1="57.4" x2="1356" y2="211.2" stroke="#505050" stroke-width="2.6" stroke-dasharray="2.2 1.8"/>
<rect x="1278.6" y="55.4" width="156.6" height="156.8" fill="none" stroke="#2a2a2a" stroke-width="1.5"/>
<text transform="translate(1364.1 206.2) scale(0.934 1)" font-size="22.8" font-weight="bold">99.9%</text>
<path d="M1461 210.6 1461.8 209.6 1462.5 208.5 1463.2 207.5 1464 205.8 1464.8 204.6 1465.5 202.7 1466.2 200.4 1467 198.6 1467.8 197 1468.5 194.5 1469.2 192.8 1470 190 1470.8 188.1 1471.5 186.6 1472.2 183.3 1473 180.9 1473.8 178.2 1474.5 176.2 1475.2 172.4 1476 170.7 1476.8 167.3 1477.5 164 1478.2 160.2 1479 156.6 1479.8 151 1480.5 147.1 1481.2 144.7 1482 138.8 1482.8 136.1 1483.5 130 1484.2 126.2 1485 120.8 1485.8 114.9 1486.5 109.7 1487.2 105 1488 101.7 1488.8 98.2 1489.5 92.6 1490.2 89.3 1491 84.3 1491.8 80.7 1492.5 80.1 1493.2 75.8 1494 71.4 1494.8 69.9 1495.5 65.2 1496.2 67.5 1497 64.4 1497.8 61.9 1498.5 61.5 1499.2 63.8 1500 65.6 1500.8 65 1501.5 67.3 1502.2 67 1503 70.1 1503.8 72.4 1504.5 72.6 1505.2 73.9 1506 78.8 1506.8 83.6 1507.5 89.9 1508.2 96.7 1509 105.3 1509.8 110 1510.5 114.4 1511.2 122 1512 127.6 1512.8 133.5 1513.5 142.5 1514.2 146.1 1515 152.1 1515.8 158.8 1516.5 163.4 1517.2 167.8 1518 172.6 1518.8 176.3 1519.5 181.4 1520.2 184.3 1521 188.2 1521.8 190.5 1522.5 193.6 1523.2 197.7 1524 199.5 1524.8 202.6 1525.5 204.3 1526.2 205.2 1527 206.5 1527.8 207.5 1528.5 208.2 1529.2 208.5 1530 209.1 1530.8 209.6 1531.5 210 1532.2 210.3 1533 210.6 1533.8 210.8 1534.5 210.9 1535.2 211 1536 211 1536.8 211.1 1537.5 211.1 1538.2 211.2 1539 211.2 1539.8 211.3 1540.5 211.3 1541.2 211.3 1542 211.4 1542.8 211.4 1543.5 211.4 1544.2 211.4 1545 211.4 1545.8 211.4 1546.5 211.4 1547.2 211.4 1548 211.4 1548.8 211.4 1549.5 211.4 1550.2 211.4 1551 211.4 1551.8 211.4 1552.5 211.4 1553.2 211.4 1554 211.4 1554.8 211.4 1555.5 211.4 1556.2 211.4 1557 211.4 1557.8 211.4 1558.5 211.4 1559.2 211.4 1560 211.4 1560.8 211.4 1561.5 211.4 1562.2 211.4 1563 211.4 1563.8 211.4 1564.5 211.4 1565.2 211.4 1566 211.4 1566.8 211.4 1567.5 211.4 1568.2 211.4 1569 211.4 1569.8 211.4 1570.5 211.4 1571.2 211.4 1572 211.4 1572.8 211.4 1573.5 211.4 1574.2 211.4 1575 211.4 1575.8 211.4 1576.5 211.4 1577.2 211.4 1578 211.4 1578.8 211.4 1579.5 211.4 1580.2 211.4 1581 211.4 1581.8 211.4 1582.5 211.4 1583.2 211.4 1584 211.4 1584.8 211.4 1585.5 211.4 1586.2 211.4 1587 211.4 1587.8 211.4 1588.5 211.4 1589.2 211.4 1590 211.4 1590.8 211.4 1591.5 211.4 1592.2 211.4 1593 211.4 1593.8 211.4 1594.5 211.4 1595.2 211.4 1596 211.4 1596.8 211.4 1597.5 211.4 1598.2 211.4 1599 211.4 1599.8 211.4 1600.5 211.4 1601.2 211.4 1602 211.4 1602.8 211.4 1603.5 211.4 1604.2 211.4 1605 211.4 1605.8 211.4 1606.5 211.4 1607.2 211.4 1608 211.4 1608.8 211.4 1609.5 211.4 1610.2 211.4 1611 211.4 1611.8 211.4 1612.5 211.4 1613.2 211.4 1614 211.4 1614.8 211.4 1615.5 211.4L1616 211.4L1461 211.4Z" fill="#e8e8e8" stroke="none"/>
<path d="M1461 211.4 1461.8 211.4 1462.5 211.4 1463.2 211.2 1464 211 1464.8 210.7 1465.5 210.3 1466.2 210 1467 209.5 1467.8 208.8 1468.5 208 1469.2 207.3 1470 205.7 1470.8 204.6 1471.5 203.9 1472.2 202.5 1473 201.7 1473.8 200.5 1474.5 199.2 1475.2 197.4 1476 196.9 1476.8 194.7 1477.5 194.9 1478.2 193.5 1479 192.5 1479.8 190.1 1480.5 189.4 1481.2 187.7 1482 186.3 1482.8 183.9 1483.5 182.3 1484.2 180.5 1485 177.5 1485.8 174 1486.5 169.4 1487.2 161.5 1488 155 1488.8 147.9 1489.5 140.2 1490.2 134.9 1491 128.9 1491.8 123 1492.5 117 1493.2 110 1494 106.4 1494.8 99.1 1495.5 93.7 1496.2 90 1497 87.8 1497.8 82.3 1498.5 82.5 1499.2 77.7 1500 77.1 1500.8 75.5 1501.5 73 1502.2 72 1503 70.5 1503.8 67.5 1504.5 67 1505.2 68.4 1506 67 1506.8 67.6 1507.5 67.4 1508.2 65.7 1509 68.1 1509.8 65.7 1510.5 67.3 1511.2 69 1512 74.4 1512.8 77 1513.5 80.5 1514.2 82.5 1515 83.3 1515.8 86.5 1516.5 89.3 1517.2 94.9 1518 95.5 1518.8 98.1 1519.5 100.8 1520.2 103.7 1521 108.9 1521.8 111.4 1522.5 111.7 1523.2 114.2 1524 115.9 1524.8 119.4 1525.5 119.9 1526.2 124.3 1527 123.3 1527.8 125.3 1528.5 128.8 1529.2 131.4 1530 131.4 1530.8 132.6 1531.5 135.3 1532.2 137.8 1533 138.7 1533.8 138.7 1534.5 142.6 1535.2 141.7 1536 145.5 1536.8 147.2 1537.5 149 1538.2 148.1 1539 149.7 1539.8 152.6 1540.5 154.3 1541.2 153.7 1542 153.9 1542.8 157 1543.5 156 1544.2 156 1545 157.8 1545.8 158.2 1546.5 158.4 1547.2 160.7 1548 161.6 1548.8 161.6 1549.5 162.9 1550.2 164.1 1551 165.7 1551.8 165.4 1552.5 168.1 1553.2 168.4 1554 169.1 1554.8 171.5 1555.5 173.5 1556.2 174.4 1557 176 1557.8 177 1558.5 178.4 1559.2 179.3 1560 180.6 1560.8 181.8 1561.5 182.8 1562.2 184.2 1563 185.6 1563.8 187.6 1564.5 188.5 1565.2 190.1 1566 192.3 1566.8 193.3 1567.5 195.3 1568.2 196.6 1569 198.4 1569.8 200.8 1570.5 202.4 1571.2 204 1572 205.6 1572.8 207.1 1573.5 208.2 1574.2 208.7 1575 209.3 1575.8 209.8 1576.5 210.2 1577.2 210.6 1578 211 1578.8 211.2 1579.5 211.4 1580.2 211.4 1581 211.4 1581.8 211.4 1582.5 211.4 1583.2 211.4 1584 211.4 1584.8 211.4 1585.5 211.4 1586.2 211.4 1587 211.4 1587.8 211.4 1588.5 211.4 1589.2 211.4 1590 211.4 1590.8 211.4 1591.5 211.4 1592.2 211.4 1593 211.4 1593.8 211.4 1594.5 211.4 1595.2 211.4 1596 211.4 1596.8 211.4 1597.5 211.4 1598.2 211.4 1599 211.4 1599.8 211.4 1600.5 211.4 1601.2 211.4 1602 211.4 1602.8 211.4 1603.5 211.4 1604.2 211.4 1605 211.4 1605.8 211.4 1606.5 211.4 1607.2 211.4 1608 211.4 1608.8 211.4 1609.5 211.4 1610.2 211.4 1611 211.4 1611.8 211.4 1612.5 211.4 1613.2 211.4 1614 211.4 1614.8 211.4 1615.5 211.4L1616 211.4L1461 211.4Z" fill="rgba(70,140,220,0.2)" stroke="none"/>
<path d="M1461 210.6 1461.8 209.6 1462.5 208.5 1463.2 207.5 1464 205.8 1464.8 204.6 1465.5 202.7 1466.2 200.4 1467 198.6 1467.8 197 1468.5 194.5 1469.2 192.8 1470 190 1470.8 188.1 1471.5 186.6 1472.2 183.3 1473 180.9 1473.8 178.2 1474.5 176.2 1475.2 172.4 1476 170.7 1476.8 167.3 1477.5 164 1478.2 160.2 1479 156.6 1479.8 151 1480.5 147.1 1481.2 144.7 1482 138.8 1482.8 136.1 1483.5 130 1484.2 126.2 1485 120.8 1485.8 114.9 1486.5 109.7 1487.2 105 1488 101.7 1488.8 98.2 1489.5 92.6 1490.2 89.3 1491 84.3 1491.8 80.7 1492.5 80.1 1493.2 75.8 1494 71.4 1494.8 69.9 1495.5 65.2 1496.2 67.5 1497 64.4 1497.8 61.9 1498.5 61.5 1499.2 63.8 1500 65.6 1500.8 65 1501.5 67.3 1502.2 67 1503 70.1 1503.8 72.4 1504.5 72.6 1505.2 73.9 1506 78.8 1506.8 83.6 1507.5 89.9 1508.2 96.7 1509 105.3 1509.8 110 1510.5 114.4 1511.2 122 1512 127.6 1512.8 133.5 1513.5 142.5 1514.2 146.1 1515 152.1 1515.8 158.8 1516.5 163.4 1517.2 167.8 1518 172.6 1518.8 176.3 1519.5 181.4 1520.2 184.3 1521 188.2 1521.8 190.5 1522.5 193.6 1523.2 197.7 1524 199.5 1524.8 202.6 1525.5 204.3 1526.2 205.2 1527 206.5 1527.8 207.5 1528.5 208.2 1529.2 208.5 1530 209.1 1530.8 209.6 1531.5 210 1532.2 210.3 1533 210.6 1533.8 210.8 1534.5 210.9 1535.2 211 1536 211 1536.8 211.1 1537.5 211.1 1538.2 211.2 1539 211.2 1539.8 211.3 1540.5 211.3 1541.2 211.3 1542 211.4 1542.8 211.4 1543.5 211.4 1544.2 211.4 1545 211.4 1545.8 211.4 1546.5 211.4 1547.2 211.4 1548 211.4 1548.8 211.4 1549.5 211.4 1550.2 211.4 1551 211.4 1551.8 211.4 1552.5 211.4 1553.2 211.4 1554 211.4 1554.8 211.4 1555.5 211.4 1556.2 211.4 1557 211.4 1557.8 211.4 1558.5 211.4 1559.2 211.4 1560 211.4 1560.8 211.4 1561.5 211.4 1562.2 211.4 1563 211.4 1563.8 211.4 1564.5 211.4 1565.2 211.4 1566 211.4 1566.8 211.4 1567.5 211.4 1568.2 211.4 1569 211.4 1569.8 211.4 1570.5 211.4 1571.2 211.4 1572 211.4 1572.8 211.4 1573.5 211.4 1574.2 211.4 1575 211.4 1575.8 211.4 1576.5 211.4 1577.2 211.4 1578 211.4 1578.8 211.4 1579.5 211.4 1580.2 211.4 1581 211.4 1581.8 211.4 1582.5 211.4 1583.2 211.4 1584 211.4 1584.8 211.4 1585.5 211.4 1586.2 211.4 1587 211.4 1587.8 211.4 1588.5 211.4 1589.2 211.4 1590 211.4 1590.8 211.4 1591.5 211.4 1592.2 211.4 1593 211.4 1593.8 211.4 1594.5 211.4 1595.2 211.4 1596 211.4 1596.8 211.4 1597.5 211.4 1598.2 211.4 1599 211.4 1599.8 211.4 1600.5 211.4 1601.2 211.4 1602 211.4 1602.8 211.4 1603.5 211.4 1604.2 211.4 1605 211.4 1605.8 211.4 1606.5 211.4 1607.2 211.4 1608 211.4 1608.8 211.4 1609.5 211.4 1610.2 211.4 1611 211.4 1611.8 211.4 1612.5 211.4 1613.2 211.4 1614 211.4 1614.8 211.4 1615.5 211.4" fill="none" stroke="#707070" stroke-width="1.7" stroke-linejoin="round"/>
<path d="M1461 211.4 1461.8 211.4 1462.5 211.4 1463.2 211.2 1464 211 1464.8 210.7 1465.5 210.3 1466.2 210 1467 209.5 1467.8 208.8 1468.5 208 1469.2 207.3 1470 205.7 1470.8 204.6 1471.5 203.9 1472.2 202.5 1473 201.7 1473.8 200.5 1474.5 199.2 1475.2 197.4 1476 196.9 1476.8 194.7 1477.5 194.9 1478.2 193.5 1479 192.5 1479.8 190.1 1480.5 189.4 1481.2 187.7 1482 186.3 1482.8 183.9 1483.5 182.3 1484.2 180.5 1485 177.5 1485.8 174 1486.5 169.4 1487.2 161.5 1488 155 1488.8 147.9 1489.5 140.2 1490.2 134.9 1491 128.9 1491.8 123 1492.5 117 1493.2 110 1494 106.4 1494.8 99.1 1495.5 93.7 1496.2 90 1497 87.8 1497.8 82.3 1498.5 82.5 1499.2 77.7 1500 77.1 1500.8 75.5 1501.5 73 1502.2 72 1503 70.5 1503.8 67.5 1504.5 67 1505.2 68.4 1506 67 1506.8 67.6 1507.5 67.4 1508.2 65.7 1509 68.1 1509.8 65.7 1510.5 67.3 1511.2 69 1512 74.4 1512.8 77 1513.5 80.5 1514.2 82.5 1515 83.3 1515.8 86.5 1516.5 89.3 1517.2 94.9 1518 95.5 1518.8 98.1 1519.5 100.8 1520.2 103.7 1521 108.9 1521.8 111.4 1522.5 111.7 1523.2 114.2 1524 115.9 1524.8 119.4 1525.5 119.9 1526.2 124.3 1527 123.3 1527.8 125.3 1528.5 128.8 1529.2 131.4 1530 131.4 1530.8 132.6 1531.5 135.3 1532.2 137.8 1533 138.7 1533.8 138.7 1534.5 142.6 1535.2 141.7 1536 145.5 1536.8 147.2 1537.5 149 1538.2 148.1 1539 149.7 1539.8 152.6 1540.5 154.3 1541.2 153.7 1542 153.9 1542.8 157 1543.5 156 1544.2 156 1545 157.8 1545.8 158.2 1546.5 158.4 1547.2 160.7 1548 161.6 1548.8 161.6 1549.5 162.9 1550.2 164.1 1551 165.7 1551.8 165.4 1552.5 168.1 1553.2 168.4 1554 169.1 1554.8 171.5 1555.5 173.5 1556.2 174.4 1557 176 1557.8 177 1558.5 178.4 1559.2 179.3 1560 180.6 1560.8 181.8 1561.5 182.8 1562.2 184.2 1563 185.6 1563.8 187.6 1564.5 188.5 1565.2 190.1 1566 192.3 1566.8 193.3 1567.5 195.3 1568.2 196.6 1569 198.4 1569.8 200.8 1570.5 202.4 1571.2 204 1572 205.6 1572.8 207.1 1573.5 208.2 1574.2 208.7 1575 209.3 1575.8 209.8 1576.5 210.2 1577.2 210.6 1578 211 1578.8 211.2 1579.5 211.4 1580.2 211.4 1581 211.4 1581.8 211.4 1582.5 211.4 1583.2 211.4 1584 211.4 1584.8 211.4 1585.5 211.4 1586.2 211.4 1587 211.4 1587.8 211.4 1588.5 211.4 1589.2 211.4 1590 211.4 1590.8 211.4 1591.5 211.4 1592.2 211.4 1593 211.4 1593.8 211.4 1594.5 211.4 1595.2 211.4 1596 211.4 1596.8 211.4 1597.5 211.4 1598.2 211.4 1599 211.4 1599.8 211.4 1600.5 211.4 1601.2 211.4 1602 211.4 1602.8 211.4 1603.5 211.4 1604.2 211.4 1605 211.4 1605.8 211.4 1606.5 211.4 1607.2 211.4 1608 211.4 1608.8 211.4 1609.5 211.4 1610.2 211.4 1611 211.4 1611.8 211.4 1612.5 211.4 1613.2 211.4 1614 211.4 1614.8 211.4 1615.5 211.4" fill="none" stroke="#1a7de8" stroke-width="2.2" stroke-linejoin="round"/>
<line x1="1538" y1="57.4" x2="1538" y2="211.2" stroke="#505050" stroke-width="2.6" stroke-dasharray="2.2 1.8"/>
<rect x="1460.2" y="55.4" width="156.6" height="156.8" fill="none" stroke="#2a2a2a" stroke-width="1.5"/>
<text transform="translate(1546.8 206.2) scale(0.929 1)" font-size="22.8" font-weight="bold">15.9%</text>
<path d="M1643.2 211.3 1644 211.3 1644.7 211.3 1645.5 211.2 1646.2 211.2 1647 211.2 1647.7 211.1 1648.5 211.1 1649.2 211 1650 210.9 1650.7 210.8 1651.5 210.7 1652.2 210.6 1653 210.5 1653.7 210.3 1654.5 210.1 1655.2 209.9 1656 209.6 1656.7 209.3 1657.5 209 1658.2 208.6 1659 208 1659.7 207.6 1660.5 207.2 1661.2 206.8 1662 205.7 1662.7 204.6 1663.5 204.3 1664.2 202.9 1665 202.7 1665.7 201 1666.5 200.1 1667.2 198.3 1668 196.6 1668.7 194.6 1669.5 193.2 1670.2 190.7 1671 189.5 1671.7 187.5 1672.5 184.5 1673.2 181.3 1674 178.5 1674.7 177 1675.5 173.4 1676.2 170.1 1677 166.1 1677.7 161.4 1678.5 159.2 1679.2 155.9 1680 149.4 1680.7 145.3 1681.5 141.2 1682.2 139.1 1683 133.9 1683.7 129.7 1684.5 122.7 1685.2 120.8 1686 116.3 1686.7 111.5 1687.5 104.9 1688.2 102.8 1689 95.6 1689.7 94.2 1690.5 88.9 1691.2 87.1 1692 83.2 1692.7 77.6 1693.5 74.1 1694.2 74.7 1695 71.9 1695.7 71.2 1696.5 69 1697.2 66.9 1698 65.5 1698.7 64.7 1699.5 65.6 1700.2 66.7 1701 65.6 1701.7 67.6 1702.5 69 1703.2 68 1704 71.8 1704.7 76.7 1705.5 75.4 1706.2 78.5 1707 84.2 1707.7 85.3 1708.5 92.6 1709.2 93.4 1710 100.4 1710.7 102 1711.5 107.1 1712.2 110.6 1713 117.5 1713.7 120.8 1714.5 124.4 1715.2 131.7 1716 136 1716.7 139.2 1717.5 144.9 1718.2 149.3 1719 153.5 1719.7 156.6 1720.5 159.7 1721.2 163.9 1722 167.2 1722.7 171.9 1723.5 175 1724.2 177.1 1725 180.8 1725.7 183.8 1726.5 186.2 1727.2 187.5 1728 189.3 1728.7 192.1 1729.5 194.8 1730.2 196.2 1731 197.2 1731.7 198.5 1732.5 200.6 1733.2 201.6 1734 203.1 1734.7 203.6 1735.5 204.3 1736.2 205.4 1737 205.9 1737.7 207 1738.5 207.3 1739.2 207.9 1740 208.3 1740.7 208.8 1741.5 209.1 1742.2 209.4 1743 209.7 1743.7 210 1744.5 210.2 1745.2 210.4 1746 210.5 1746.7 210.6 1747.5 210.8 1748.2 210.9 1749 210.9 1749.7 211 1750.5 211.1 1751.2 211.1 1752 211.2 1752.7 211.2 1753.5 211.2 1754.2 211.3 1755 211.3 1755.7 211.3 1756.5 211.3 1757.2 211.3 1758 211.4 1758.7 211.4 1759.5 211.4 1760.2 211.4 1761 211.4 1761.7 211.4 1762.5 211.4 1763.2 211.4 1764 211.4 1764.7 211.4 1765.5 211.4 1766.2 211.4 1767 211.4 1767.7 211.4 1768.5 211.4 1769.2 211.4 1770 211.4 1770.7 211.4 1771.5 211.4 1772.2 211.4 1773 211.4 1773.7 211.4 1774.5 211.4 1775.2 211.4 1776 211.4 1776.7 211.4 1777.5 211.4 1778.2 211.4 1779 211.4 1779.7 211.4 1780.5 211.4 1781.2 211.4 1782 211.4 1782.7 211.4 1783.5 211.4 1784.2 211.4 1785 211.4 1785.7 211.4 1786.5 211.4 1787.2 211.4 1788 211.4 1788.7 211.4 1789.5 211.4 1790.2 211.4 1791 211.4 1791.7 211.4 1792.5 211.4 1793.2 211.4 1794 211.4 1794.7 211.4 1795.5 211.4 1796.2 211.4 1797 211.4 1797.7 211.4L1798.2 211.4L1643.2 211.4Z" fill="#e8e8e8" stroke="none"/>
<path d="M1643.2 211.4 1644 211.4 1644.7 211.4 1645.5 211.4 1646.2 211.4 1647 211.4 1647.7 211.4 1648.5 211.4 1649.2 211.3 1650 211.3 1650.7 211.3 1651.5 211.3 1652.2 211.3 1653 211.3 1653.7 211.2 1654.5 211.2 1655.2 211.2 1656 211.1 1656.7 211 1657.5 211 1658.2 210.9 1659 210.8 1659.7 210.7 1660.5 210.6 1661.2 210.4 1662 210.2 1662.7 210 1663.5 209.8 1664.2 209.5 1665 209.2 1665.7 208.8 1666.5 208.7 1667.2 207.9 1668 207.7 1668.7 206.7 1669.5 206.1 1670.2 205.6 1671 204.5 1671.7 203.7 1672.5 203.2 1673.2 201.5 1674 200.2 1674.7 198.9 1675.5 196.9 1676.2 195.4 1677 194.2 1677.7 192.5 1678.5 190.5 1679.2 187.1 1680 184.8 1680.7 182.3 1681.5 179.9 1682.2 176.8 1683 174.2 1683.7 170.2 1684.5 167.6 1685.2 162.8 1686 158.9 1686.7 154.8 1687.5 151.9 1688.2 148.1 1689 143 1689.7 137.5 1690.5 133.5 1691.2 128.1 1692 124.5 1692.7 120 1693.5 113.5 1694.2 111.6 1695 107 1695.7 101.1 1696.5 96.6 1697.2 93.2 1698 88.8 1698.7 85.5 1699.5 81 1700.2 76.8 1701 74.1 1701.7 72.2 1702.5 70.6 1703.2 66.5 1704 67.1 1704.7 65 1705.5 63.1 1706.2 63.5 1707 64.7 1707.7 63.5 1708.5 64.8 1709.2 64.6 1710 67.3 1710.7 69.6 1711.5 69.9 1712.2 74.4 1713 77.8 1713.7 78.8 1714.5 82.2 1715.2 89 1716 93.3 1716.7 94.3 1717.5 98.5 1718.2 104.8 1719 109.8 1719.7 112.8 1720.5 116.5 1721.2 123.7 1722 127.5 1722.7 131.5 1723.5 137.4 1724.2 141.3 1725 146.5 1725.7 149.8 1726.5 154.7 1727.2 159.1 1728 162.1 1728.7 166.4 1729.5 170 1730.2 173.3 1731 175.9 1731.7 179.2 1732.5 181.2 1733.2 184.5 1734 187.3 1734.7 189.7 1735.5 191.7 1736.2 193 1737 195.6 1737.7 196.9 1738.5 198 1739.2 199.5 1740 201.2 1740.7 202 1741.5 203.2 1742.2 204.6 1743 205.6 1743.7 206.3 1744.5 206.4 1745.2 207.4 1746 207.6 1746.7 208 1747.5 208.7 1748.2 209.1 1749 209.4 1749.7 209.7 1750.5 209.9 1751.2 210.2 1752 210.3 1752.7 210.5 1753.5 210.6 1754.2 210.8 1755 210.9 1755.7 210.9 1756.5 211 1757.2 211.1 1758 211.1 1758.7 211.2 1759.5 211.2 1760.2 211.3 1761 211.3 1761.7 211.3 1762.5 211.3 1763.2 211.3 1764 211.3 1764.7 211.4 1765.5 211.4 1766.2 211.4 1767 211.4 1767.7 211.4 1768.5 211.4 1769.2 211.4 1770 211.4 1770.7 211.4 1771.5 211.4 1772.2 211.4 1773 211.4 1773.7 211.4 1774.5 211.4 1775.2 211.4 1776 211.4 1776.7 211.4 1777.5 211.4 1778.2 211.4 1779 211.4 1779.7 211.4 1780.5 211.4 1781.2 211.4 1782 211.4 1782.7 211.4 1783.5 211.4 1784.2 211.4 1785 211.4 1785.7 211.4 1786.5 211.4 1787.2 211.4 1788 211.4 1788.7 211.4 1789.5 211.4 1790.2 211.4 1791 211.4 1791.7 211.4 1792.5 211.4 1793.2 211.4 1794 211.4 1794.7 211.4 1795.5 211.4 1796.2 211.4 1797 211.4 1797.7 211.4L1798.2 211.4L1643.2 211.4Z" fill="rgba(70,140,220,0.2)" stroke="none"/>
<path d="M1643.2 211.3 1644 211.3 1644.7 211.3 1645.5 211.2 1646.2 211.2 1647 211.2 1647.7 211.1 1648.5 211.1 1649.2 211 1650 210.9 1650.7 210.8 1651.5 210.7 1652.2 210.6 1653 210.5 1653.7 210.3 1654.5 210.1 1655.2 209.9 1656 209.6 1656.7 209.3 1657.5 209 1658.2 208.6 1659 208 1659.7 207.6 1660.5 207.2 1661.2 206.8 1662 205.7 1662.7 204.6 1663.5 204.3 1664.2 202.9 1665 202.7 1665.7 201 1666.5 200.1 1667.2 198.3 1668 196.6 1668.7 194.6 1669.5 193.2 1670.2 190.7 1671 189.5 1671.7 187.5 1672.5 184.5 1673.2 181.3 1674 178.5 1674.7 177 1675.5 173.4 1676.2 170.1 1677 166.1 1677.7 161.4 1678.5 159.2 1679.2 155.9 1680 149.4 1680.7 145.3 1681.5 141.2 1682.2 139.1 1683 133.9 1683.7 129.7 1684.5 122.7 1685.2 120.8 1686 116.3 1686.7 111.5 1687.5 104.9 1688.2 102.8 1689 95.6 1689.7 94.2 1690.5 88.9 1691.2 87.1 1692 83.2 1692.7 77.6 1693.5 74.1 1694.2 74.7 1695 71.9 1695.7 71.2 1696.5 69 1697.2 66.9 1698 65.5 1698.7 64.7 1699.5 65.6 1700.2 66.7 1701 65.6 1701.7 67.6 1702.5 69 1703.2 68 1704 71.8 1704.7 76.7 1705.5 75.4 1706.2 78.5 1707 84.2 1707.7 85.3 1708.5 92.6 1709.2 93.4 1710 100.4 1710.7 102 1711.5 107.1 1712.2 110.6 1713 117.5 1713.7 120.8 1714.5 124.4 1715.2 131.7 1716 136 1716.7 139.2 1717.5 144.9 1718.2 149.3 1719 153.5 1719.7 156.6 1720.5 159.7 1721.2 163.9 1722 167.2 1722.7 171.9 1723.5 175 1724.2 177.1 1725 180.8 1725.7 183.8 1726.5 186.2 1727.2 187.5 1728 189.3 1728.7 192.1 1729.5 194.8 1730.2 196.2 1731 197.2 1731.7 198.5 1732.5 200.6 1733.2 201.6 1734 203.1 1734.7 203.6 1735.5 204.3 1736.2 205.4 1737 205.9 1737.7 207 1738.5 207.3 1739.2 207.9 1740 208.3 1740.7 208.8 1741.5 209.1 1742.2 209.4 1743 209.7 1743.7 210 1744.5 210.2 1745.2 210.4 1746 210.5 1746.7 210.6 1747.5 210.8 1748.2 210.9 1749 210.9 1749.7 211 1750.5 211.1 1751.2 211.1 1752 211.2 1752.7 211.2 1753.5 211.2 1754.2 211.3 1755 211.3 1755.7 211.3 1756.5 211.3 1757.2 211.3 1758 211.4 1758.7 211.4 1759.5 211.4 1760.2 211.4 1761 211.4 1761.7 211.4 1762.5 211.4 1763.2 211.4 1764 211.4 1764.7 211.4 1765.5 211.4 1766.2 211.4 1767 211.4 1767.7 211.4 1768.5 211.4 1769.2 211.4 1770 211.4 1770.7 211.4 1771.5 211.4 1772.2 211.4 1773 211.4 1773.7 211.4 1774.5 211.4 1775.2 211.4 1776 211.4 1776.7 211.4 1777.5 211.4 1778.2 211.4 1779 211.4 1779.7 211.4 1780.5 211.4 1781.2 211.4 1782 211.4 1782.7 211.4 1783.5 211.4 1784.2 211.4 1785 211.4 1785.7 211.4 1786.5 211.4 1787.2 211.4 1788 211.4 1788.7 211.4 1789.5 211.4 1790.2 211.4 1791 211.4 1791.7 211.4 1792.5 211.4 1793.2 211.4 1794 211.4 1794.7 211.4 1795.5 211.4 1796.2 211.4 1797 211.4 1797.7 211.4" fill="none" stroke="#707070" stroke-width="1.7" stroke-linejoin="round"/>
<path d="M1643.2 211.4 1644 211.4 1644.7 211.4 1645.5 211.4 1646.2 211.4 1647 211.4 1647.7 211.4 1648.5 211.4 1649.2 211.3 1650 211.3 1650.7 211.3 1651.5 211.3 1652.2 211.3 1653 211.3 1653.7 211.2 1654.5 211.2 1655.2 211.2 1656 211.1 1656.7 211 1657.5 211 1658.2 210.9 1659 210.8 1659.7 210.7 1660.5 210.6 1661.2 210.4 1662 210.2 1662.7 210 1663.5 209.8 1664.2 209.5 1665 209.2 1665.7 208.8 1666.5 208.7 1667.2 207.9 1668 207.7 1668.7 206.7 1669.5 206.1 1670.2 205.6 1671 204.5 1671.7 203.7 1672.5 203.2 1673.2 201.5 1674 200.2 1674.7 198.9 1675.5 196.9 1676.2 195.4 1677 194.2 1677.7 192.5 1678.5 190.5 1679.2 187.1 1680 184.8 1680.7 182.3 1681.5 179.9 1682.2 176.8 1683 174.2 1683.7 170.2 1684.5 167.6 1685.2 162.8 1686 158.9 1686.7 154.8 1687.5 151.9 1688.2 148.1 1689 143 1689.7 137.5 1690.5 133.5 1691.2 128.1 1692 124.5 1692.7 120 1693.5 113.5 1694.2 111.6 1695 107 1695.7 101.1 1696.5 96.6 1697.2 93.2 1698 88.8 1698.7 85.5 1699.5 81 1700.2 76.8 1701 74.1 1701.7 72.2 1702.5 70.6 1703.2 66.5 1704 67.1 1704.7 65 1705.5 63.1 1706.2 63.5 1707 64.7 1707.7 63.5 1708.5 64.8 1709.2 64.6 1710 67.3 1710.7 69.6 1711.5 69.9 1712.2 74.4 1713 77.8 1713.7 78.8 1714.5 82.2 1715.2 89 1716 93.3 1716.7 94.3 1717.5 98.5 1718.2 104.8 1719 109.8 1719.7 112.8 1720.5 116.5 1721.2 123.7 1722 127.5 1722.7 131.5 1723.5 137.4 1724.2 141.3 1725 146.5 1725.7 149.8 1726.5 154.7 1727.2 159.1 1728 162.1 1728.7 166.4 1729.5 170 1730.2 173.3 1731 175.9 1731.7 179.2 1732.5 181.2 1733.2 184.5 1734 187.3 1734.7 189.7 1735.5 191.7 1736.2 193 1737 195.6 1737.7 196.9 1738.5 198 1739.2 199.5 1740 201.2 1740.7 202 1741.5 203.2 1742.2 204.6 1743 205.6 1743.7 206.3 1744.5 206.4 1745.2 207.4 1746 207.6 1746.7 208 1747.5 208.7 1748.2 209.1 1749 209.4 1749.7 209.7 1750.5 209.9 1751.2 210.2 1752 210.3 1752.7 210.5 1753.5 210.6 1754.2 210.8 1755 210.9 1755.7 210.9 1756.5 211 1757.2 211.1 1758 211.1 1758.7 211.2 1759.5 211.2 1760.2 211.3 1761 211.3 1761.7 211.3 1762.5 211.3 1763.2 211.3 1764 211.3 1764.7 211.4 1765.5 211.4 1766.2 211.4 1767 211.4 1767.7 211.4 1768.5 211.4 1769.2 211.4 1770 211.4 1770.7 211.4 1771.5 211.4 1772.2 211.4 1773 211.4 1773.7 211.4 1774.5 211.4 1775.2 211.4 1776 211.4 1776.7 211.4 1777.5 211.4 1778.2 211.4 1779 211.4 1779.7 211.4 1780.5 211.4 1781.2 211.4 1782 211.4 1782.7 211.4 1783.5 211.4 1784.2 211.4 1785 211.4 1785.7 211.4 1786.5 211.4 1787.2 211.4 1788 211.4 1788.7 211.4 1789.5 211.4 1790.2 211.4 1791 211.4 1791.7 211.4 1792.5 211.4 1793.2 211.4 1794 211.4 1794.7 211.4 1795.5 211.4 1796.2 211.4 1797 211.4 1797.7 211.4" fill="none" stroke="#1a7de8" stroke-width="2.2" stroke-linejoin="round"/>
<line x1="1744" y1="57.4" x2="1744" y2="211.2" stroke="#505050" stroke-width="2.6" stroke-dasharray="2.2 1.8"/>
<rect x="1642.4" y="55.4" width="156.6" height="156.8" fill="none" stroke="#2a2a2a" stroke-width="1.5"/>
<text transform="translate(1746.7 206.2) scale(0.896 1)" font-size="22.8" font-weight="bold">0.3%</text>
<path d="M1825.4 211.4 1826.1 211.4 1826.9 211.4 1827.6 211.4 1828.4 211.4 1829.1 211.4 1829.9 211.4 1830.6 211.4 1831.4 211.4 1832.1 211.4 1832.9 211.4 1833.6 211.4 1834.4 211.4 1835.1 211.4 1835.9 211.4 1836.6 211.4 1837.4 211.4 1838.1 211.4 1838.9 211.4 1839.6 211.4 1840.4 211.4 1841.1 211.4 1841.9 211.4 1842.6 211.4 1843.4 211.3 1844.1 211.3 1844.9 211.3 1845.6 211.2 1846.4 211.1 1847.1 211 1847.9 210.8 1848.6 210.6 1849.4 210.4 1850.1 210 1850.9 209.6 1851.6 209 1852.4 208.5 1853.1 207.1 1853.9 206.1 1854.6 205 1855.4 202.8 1856.1 200.8 1856.9 198.1 1857.6 195.4 1858.4 191.8 1859.1 187.7 1859.9 183.8 1860.6 179.1 1861.4 172.1 1862.1 167.3 1862.9 159.6 1863.6 151.3 1864.4 145 1865.1 137.1 1865.9 128.5 1866.6 120.6 1867.4 110.6 1868.1 103.8 1868.9 96.8 1869.6 87.9 1870.4 82.5 1871.1 77.2 1871.9 73.2 1872.6 66.9 1873.4 66.3 1874.1 64.6 1874.9 65.2 1875.6 64.8 1876.4 69.3 1877.1 69.7 1877.9 72.1 1878.6 77.7 1879.4 81.4 1880.1 86.5 1880.9 91.7 1881.6 95.3 1882.4 103.3 1883.1 107.9 1883.9 116 1884.6 120.2 1885.4 128.2 1886.1 132.5 1886.9 140.2 1887.6 145.4 1888.4 150.6 1889.1 155.5 1889.9 159.1 1890.6 163.8 1891.4 168.5 1892.1 171.5 1892.9 174.1 1893.6 176.2 1894.4 178.7 1895.1 181.1 1895.9 182.5 1896.6 184.2 1897.4 186.1 1898.1 187.9 1898.9 189.9 1899.6 191.7 1900.4 194 1901.1 196 1901.9 198 1902.6 200.1 1903.4 201.4 1904.1 203.4 1904.9 204.5 1905.6 206.1 1906.4 207.5 1907.1 207.9 1907.9 208.9 1908.6 209.5 1909.4 210 1910.1 210.4 1910.9 210.6 1911.6 210.9 1912.4 211 1913.1 211.1 1913.9 211.2 1914.6 211.3 1915.4 211.3 1916.1 211.3 1916.9 211.4 1917.6 211.4 1918.4 211.4 1919.1 211.4 1919.9 211.4 1920.6 211.4 1921.4 211.4 1922.1 211.4 1922.9 211.4 1923.6 211.4 1924.4 211.4 1925.1 211.4 1925.9 211.4 1926.6 211.4 1927.4 211.4 1928.1 211.4 1928.9 211.4 1929.6 211.4 1930.4 211.4 1931.1 211.4 1931.9 211.4 1932.6 211.4 1933.4 211.4 1934.1 211.4 1934.9 211.4 1935.6 211.4 1936.4 211.4 1937.1 211.4 1937.9 211.4 1938.6 211.4 1939.4 211.4 1940.1 211.4 1940.9 211.4 1941.6 211.4 1942.4 211.4 1943.1 211.4 1943.9 211.4 1944.6 211.4 1945.4 211.4 1946.1 211.4 1946.9 211.4 1947.6 211.4 1948.4 211.4 1949.1 211.4 1949.9 211.4 1950.6 211.4 1951.4 211.4 1952.1 211.4 1952.9 211.4 1953.6 211.4 1954.4 211.4 1955.1 211.4 1955.9 211.4 1956.6 211.4 1957.4 211.4 1958.1 211.4 1958.9 211.4 1959.6 211.4 1960.4 211.4 1961.1 211.4 1961.9 211.4 1962.6 211.4 1963.4 211.4 1964.1 211.4 1964.9 211.4 1965.6 211.4 1966.4 211.4 1967.1 211.4 1967.9 211.4 1968.6 211.4 1969.4 211.4 1970.1 211.4 1970.9 211.4 1971.6 211.4 1972.4 211.4 1973.1 211.4 1973.9 211.4 1974.6 211.4 1975.4 211.4 1976.1 211.4 1976.9 211.4 1977.6 211.4 1978.4 211.4 1979.1 211.4 1979.9 211.4L1980.4 211.4L1825.4 211.4Z" fill="#e8e8e8" stroke="none"/>
<path d="M1825.4 211.4 1826.1 211.4 1826.9 211.4 1827.6 211.4 1828.4 211.4 1829.1 211.4 1829.9 211.4 1830.6 211.4 1831.4 211.4 1832.1 211.4 1832.9 211.4 1833.6 211.4 1834.4 211.4 1835.1 211.4 1835.9 211.4 1836.6 211.4 1837.4 211.4 1838.1 211.4 1838.9 211.4 1839.6 211.4 1840.4 211.4 1841.1 211.4 1841.9 211.4 1842.6 211.4 1843.4 211.4 1844.1 211.4 1844.9 211.4 1845.6 211.4 1846.4 211.4 1847.1 211.4 1847.9 211.4 1848.6 211.4 1849.4 211.4 1850.1 211.4 1850.9 211.3 1851.6 211.3 1852.4 211.1 1853.1 210.9 1853.9 210.3 1854.6 209.3 1855.4 207.2 1856.1 204.4 1856.9 199.2 1857.6 191.8 1858.4 182.2 1859.1 168.9 1859.9 151 1860.6 133.1 1861.4 112.3 1862.1 91.8 1862.9 76.2 1863.6 68.8 1864.4 65.7 1865.1 67.5 1865.9 72 1866.6 85 1867.4 97.2 1868.1 112.1 1868.9 127 1869.6 140.7 1870.4 155 1871.1 166.4 1871.9 175.8 1872.6 183.9 1873.4 190.7 1874.1 195.1 1874.9 199 1875.6 201.4 1876.4 203.8 1877.1 205.2 1877.9 206.1 1878.6 206.8 1879.4 207.7 1880.1 208.4 1880.9 208.9 1881.6 209.4 1882.4 209.8 1883.1 210.1 1883.9 210.4 1884.6 210.6 1885.4 210.8 1886.1 211 1886.9 211.1 1887.6 211.2 1888.4 211.2 1889.1 211.3 1889.9 211.3 1890.6 211.3 1891.4 211.4 1892.1 211.4 1892.9 211.4 1893.6 211.4 1894.4 211.4 1895.1 211.4 1895.9 211.4 1896.6 211.4 1897.4 211.4 1898.1 211.4 1898.9 211.4 1899.6 211.4 1900.4 211.4 1901.1 211.4 1901.9 211.4 1902.6 211.4 1903.4 211.4 1904.1 211.4 1904.9 211.4 1905.6 211.4 1906.4 211.4 1907.1 211.4 1907.9 211.4 1908.6 211.4 1909.4 211.4 1910.1 211.4 1910.9 211.4 1911.6 211.4 1912.4 211.4 1913.1 211.4 1913.9 211.4 1914.6 211.4 1915.4 211.4 1916.1 211.4 1916.9 211.4 1917.6 211.4 1918.4 211.4 1919.1 211.4 1919.9 211.4 1920.6 211.4 1921.4 211.4 1922.1 211.4 1922.9 211.4 1923.6 211.4 1924.4 211.4 1925.1 211.4 1925.9 211.4 1926.6 211.4 1927.4 211.4 1928.1 211.4 1928.9 211.4 1929.6 211.4 1930.4 211.4 1931.1 211.4 1931.9 211.4 1932.6 211.4 1933.4 211.4 1934.1 211.4 1934.9 211.4 1935.6 211.4 1936.4 211.4 1937.1 211.4 1937.9 211.4 1938.6 211.4 1939.4 211.4 1940.1 211.4 1940.9 211.4 1941.6 211.4 1942.4 211.4 1943.1 211.4 1943.9 211.4 1944.6 211.4 1945.4 211.4 1946.1 211.4 1946.9 211.4 1947.6 211.4 1948.4 211.4 1949.1 211.4 1949.9 211.4 1950.6 211.4 1951.4 211.4 1952.1 211.4 1952.9 211.4 1953.6 211.4 1954.4 211.4 1955.1 211.4 1955.9 211.4 1956.6 211.4 1957.4 211.4 1958.1 211.4 1958.9 211.4 1959.6 211.4 1960.4 211.4 1961.1 211.4 1961.9 211.4 1962.6 211.4 1963.4 211.4 1964.1 211.4 1964.9 211.4 1965.6 211.4 1966.4 211.4 1967.1 211.4 1967.9 211.4 1968.6 211.4 1969.4 211.4 1970.1 211.4 1970.9 211.4 1971.6 211.4 1972.4 211.4 1973.1 211.4 1973.9 211.4 1974.6 211.4 1975.4 211.4 1976.1 211.4 1976.9 211.4 1977.6 211.4 1978.4 211.4 1979.1 211.4 1979.9 211.4L1980.4 211.4L1825.4 211.4Z" fill="rgba(70,140,220,0.2)" stroke="none"/>
<path d="M1825.4 211.4 1826.1 211.4 1826.9 211.4 1827.6 211.4 1828.4 211.4 1829.1 211.4 1829.9 211.4 1830.6 211.4 1831.4 211.4 1832.1 211.4 1832.9 211.4 1833.6 211.4 1834.4 211.4 1835.1 211.4 1835.9 211.4 1836.6 211.4 1837.4 211.4 1838.1 211.4 1838.9 211.4 1839.6 211.4 1840.4 211.4 1841.1 211.4 1841.9 211.4 1842.6 211.4 1843.4 211.3 1844.1 211.3 1844.9 211.3 1845.6 211.2 1846.4 211.1 1847.1 211 1847.9 210.8 1848.6 210.6 1849.4 210.4 1850.1 210 1850.9 209.6 1851.6 209 1852.4 208.5 1853.1 207.1 1853.9 206.1 1854.6 205 1855.4 202.8 1856.1 200.8 1856.9 198.1 1857.6 195.4 1858.4 191.8 1859.1 187.7 1859.9 183.8 1860.6 179.1 1861.4 172.1 1862.1 167.3 1862.9 159.6 1863.6 151.3 1864.4 145 1865.1 137.1 1865.9 128.5 1866.6 120.6 1867.4 110.6 1868.1 103.8 1868.9 96.8 1869.6 87.9 1870.4 82.5 1871.1 77.2 1871.9 73.2 1872.6 66.9 1873.4 66.3 1874.1 64.6 1874.9 65.2 1875.6 64.8 1876.4 69.3 1877.1 69.7 1877.9 72.1 1878.6 77.7 1879.4 81.4 1880.1 86.5 1880.9 91.7 1881.6 95.3 1882.4 103.3 1883.1 107.9 1883.9 116 1884.6 120.2 1885.4 128.2 1886.1 132.5 1886.9 140.2 1887.6 145.4 1888.4 150.6 1889.1 155.5 1889.9 159.1 1890.6 163.8 1891.4 168.5 1892.1 171.5 1892.9 174.1 1893.6 176.2 1894.4 178.7 1895.1 181.1 1895.9 182.5 1896.6 184.2 1897.4 186.1 1898.1 187.9 1898.9 189.9 1899.6 191.7 1900.4 194 1901.1 196 1901.9 198 1902.6 200.1 1903.4 201.4 1904.1 203.4 1904.9 204.5 1905.6 206.1 1906.4 207.5 1907.1 207.9 1907.9 208.9 1908.6 209.5 1909.4 210 1910.1 210.4 1910.9 210.6 1911.6 210.9 1912.4 211 1913.1 211.1 1913.9 211.2 1914.6 211.3 1915.4 211.3 1916.1 211.3 1916.9 211.4 1917.6 211.4 1918.4 211.4 1919.1 211.4 1919.9 211.4 1920.6 211.4 1921.4 211.4 1922.1 211.4 1922.9 211.4 1923.6 211.4 1924.4 211.4 1925.1 211.4 1925.9 211.4 1926.6 211.4 1927.4 211.4 1928.1 211.4 1928.9 211.4 1929.6 211.4 1930.4 211.4 1931.1 211.4 1931.9 211.4 1932.6 211.4 1933.4 211.4 1934.1 211.4 1934.9 211.4 1935.6 211.4 1936.4 211.4 1937.1 211.4 1937.9 211.4 1938.6 211.4 1939.4 211.4 1940.1 211.4 1940.9 211.4 1941.6 211.4 1942.4 211.4 1943.1 211.4 1943.9 211.4 1944.6 211.4 1945.4 211.4 1946.1 211.4 1946.9 211.4 1947.6 211.4 1948.4 211.4 1949.1 211.4 1949.9 211.4 1950.6 211.4 1951.4 211.4 1952.1 211.4 1952.9 211.4 1953.6 211.4 1954.4 211.4 1955.1 211.4 1955.9 211.4 1956.6 211.4 1957.4 211.4 1958.1 211.4 1958.9 211.4 1959.6 211.4 1960.4 211.4 1961.1 211.4 1961.9 211.4 1962.6 211.4 1963.4 211.4 1964.1 211.4 1964.9 211.4 1965.6 211.4 1966.4 211.4 1967.1 211.4 1967.9 211.4 1968.6 211.4 1969.4 211.4 1970.1 211.4 1970.9 211.4 1971.6 211.4 1972.4 211.4 1973.1 211.4 1973.9 211.4 1974.6 211.4 1975.4 211.4 1976.1 211.4 1976.9 211.4 1977.6 211.4 1978.4 211.4 1979.1 211.4 1979.9 211.4" fill="none" stroke="#707070" stroke-width="1.7" stroke-linejoin="round"/>
<path d="M1825.4 211.4 1826.1 211.4 1826.9 211.4 1827.6 211.4 1828.4 211.4 1829.1 211.4 1829.9 211.4 1830.6 211.4 1831.4 211.4 1832.1 211.4 1832.9 211.4 1833.6 211.4 1834.4 211.4 1835.1 211.4 1835.9 211.4 1836.6 211.4 1837.4 211.4 1838.1 211.4 1838.9 211.4 1839.6 211.4 1840.4 211.4 1841.1 211.4 1841.9 211.4 1842.6 211.4 1843.4 211.4 1844.1 211.4 1844.9 211.4 1845.6 211.4 1846.4 211.4 1847.1 211.4 1847.9 211.4 1848.6 211.4 1849.4 211.4 1850.1 211.4 1850.9 211.3 1851.6 211.3 1852.4 211.1 1853.1 210.9 1853.9 210.3 1854.6 209.3 1855.4 207.2 1856.1 204.4 1856.9 199.2 1857.6 191.8 1858.4 182.2 1859.1 168.9 1859.9 151 1860.6 133.1 1861.4 112.3 1862.1 91.8 1862.9 76.2 1863.6 68.8 1864.4 65.7 1865.1 67.5 1865.9 72 1866.6 85 1867.4 97.2 1868.1 112.1 1868.9 127 1869.6 140.7 1870.4 155 1871.1 166.4 1871.9 175.8 1872.6 183.9 1873.4 190.7 1874.1 195.1 1874.9 199 1875.6 201.4 1876.4 203.8 1877.1 205.2 1877.9 206.1 1878.6 206.8 1879.4 207.7 1880.1 208.4 1880.9 208.9 1881.6 209.4 1882.4 209.8 1883.1 210.1 1883.9 210.4 1884.6 210.6 1885.4 210.8 1886.1 211 1886.9 211.1 1887.6 211.2 1888.4 211.2 1889.1 211.3 1889.9 211.3 1890.6 211.3 1891.4 211.4 1892.1 211.4 1892.9 211.4 1893.6 211.4 1894.4 211.4 1895.1 211.4 1895.9 211.4 1896.6 211.4 1897.4 211.4 1898.1 211.4 1898.9 211.4 1899.6 211.4 1900.4 211.4 1901.1 211.4 1901.9 211.4 1902.6 211.4 1903.4 211.4 1904.1 211.4 1904.9 211.4 1905.6 211.4 1906.4 211.4 1907.1 211.4 1907.9 211.4 1908.6 211.4 1909.4 211.4 1910.1 211.4 1910.9 211.4 1911.6 211.4 1912.4 211.4 1913.1 211.4 1913.9 211.4 1914.6 211.4 1915.4 211.4 1916.1 211.4 1916.9 211.4 1917.6 211.4 1918.4 211.4 1919.1 211.4 1919.9 211.4 1920.6 211.4 1921.4 211.4 1922.1 211.4 1922.9 211.4 1923.6 211.4 1924.4 211.4 1925.1 211.4 1925.9 211.4 1926.6 211.4 1927.4 211.4 1928.1 211.4 1928.9 211.4 1929.6 211.4 1930.4 211.4 1931.1 211.4 1931.9 211.4 1932.6 211.4 1933.4 211.4 1934.1 211.4 1934.9 211.4 1935.6 211.4 1936.4 211.4 1937.1 211.4 1937.9 211.4 1938.6 211.4 1939.4 211.4 1940.1 211.4 1940.9 211.4 1941.6 211.4 1942.4 211.4 1943.1 211.4 1943.9 211.4 1944.6 211.4 1945.4 211.4 1946.1 211.4 1946.9 211.4 1947.6 211.4 1948.4 211.4 1949.1 211.4 1949.9 211.4 1950.6 211.4 1951.4 211.4 1952.1 211.4 1952.9 211.4 1953.6 211.4 1954.4 211.4 1955.1 211.4 1955.9 211.4 1956.6 211.4 1957.4 211.4 1958.1 211.4 1958.9 211.4 1959.6 211.4 1960.4 211.4 1961.1 211.4 1961.9 211.4 1962.6 211.4 1963.4 211.4 1964.1 211.4 1964.9 211.4 1965.6 211.4 1966.4 211.4 1967.1 211.4 1967.9 211.4 1968.6 211.4 1969.4 211.4 1970.1 211.4 1970.9 211.4 1971.6 211.4 1972.4 211.4 1973.1 211.4 1973.9 211.4 1974.6 211.4 1975.4 211.4 1976.1 211.4 1976.9 211.4 1977.6 211.4 1978.4 211.4 1979.1 211.4 1979.9 211.4" fill="none" stroke="#1a7de8" stroke-width="2.2" stroke-linejoin="round"/>
<line x1="1906" y1="57.4" x2="1906" y2="211.2" stroke="#505050" stroke-width="2.6" stroke-dasharray="2.2 1.8"/>
<rect x="1824.6" y="55.4" width="156.6" height="156.8" fill="none" stroke="#2a2a2a" stroke-width="1.5"/>
<text transform="translate(1912.1 206.2) scale(0.937 1)" font-size="22.8" font-weight="bold">0.09%</text>
<path d="M1279.4 390.8 1280.1 390.8 1280.9 390.8 1281.6 390.8 1282.4 390.8 1283.1 390.8 1283.9 390.8 1284.6 390.8 1285.4 390.8 1286.1 390.8 1286.9 390.8 1287.6 390.8 1288.4 390.8 1289.1 390.8 1289.9 390.8 1290.6 390.7 1291.4 390.7 1292.1 390.7 1292.9 390.6 1293.6 390.5 1294.4 390.3 1295.1 390 1295.9 389.6 1296.6 389 1297.4 388.2 1298.1 387.2 1298.9 385.6 1299.6 383.6 1300.4 381.3 1301.1 378.4 1301.9 374.6 1302.6 369.4 1303.4 364 1304.1 357 1304.9 348.3 1305.6 339.4 1306.4 328.6 1307.1 319.7 1307.9 308.8 1308.6 297.4 1309.4 285.4 1310.1 275.7 1310.9 264.1 1311.6 256.6 1312.4 248.7 1313.1 246.8 1313.9 242.3 1314.6 244.7 1315.4 245.6 1316.1 249.9 1316.9 258.2 1317.6 266.1 1318.4 276.3 1319.1 284.6 1319.9 295.8 1320.6 306.3 1321.4 318.7 1322.1 329 1322.9 337.1 1323.6 346.9 1324.4 353.6 1325.1 361.2 1325.9 367.9 1326.6 372.1 1327.4 376.4 1328.1 380 1328.9 382.4 1329.6 384.6 1330.4 386.3 1331.1 387.5 1331.9 388.6 1332.6 389.3 1333.4 389.8 1334.1 390.1 1334.9 390.3 1335.6 390.5 1336.4 390.6 1337.1 390.7 1337.9 390.7 1338.6 390.8 1339.4 390.8 1340.1 390.8 1340.9 390.8 1341.6 390.8 1342.4 390.8 1343.1 390.8 1343.9 390.8 1344.6 390.8 1345.4 390.8 1346.1 390.8 1346.9 390.8 1347.6 390.8 1348.4 390.8 1349.1 390.8 1349.9 390.8 1350.6 390.8 1351.4 390.8 1352.1 390.8 1352.9 390.8 1353.6 390.8 1354.4 390.8 1355.1 390.8 1355.9 390.8 1356.6 390.8 1357.4 390.8 1358.1 390.8 1358.9 390.8 1359.6 390.8 1360.4 390.8 1361.1 390.8 1361.9 390.8 1362.6 390.8 1363.4 390.8 1364.1 390.8 1364.9 390.8 1365.6 390.8 1366.4 390.8 1367.1 390.8 1367.9 390.8 1368.6 390.8 1369.4 390.8 1370.1 390.8 1370.9 390.8 1371.6 390.8 1372.4 390.8 1373.1 390.8 1373.9 390.8 1374.6 390.8 1375.4 390.8 1376.1 390.8 1376.9 390.8 1377.6 390.8 1378.4 390.8 1379.1 390.8 1379.9 390.8 1380.6 390.8 1381.4 390.8 1382.1 390.8 1382.9 390.8 1383.6 390.8 1384.4 390.8 1385.1 390.8 1385.9 390.8 1386.6 390.8 1387.4 390.8 1388.1 390.8 1388.9 390.8 1389.6 390.8 1390.4 390.8 1391.1 390.8 1391.9 390.8 1392.6 390.8 1393.4 390.8 1394.1 390.8 1394.9 390.8 1395.6 390.8 1396.4 390.8 1397.1 390.8 1397.9 390.8 1398.6 390.8 1399.4 390.8 1400.1 390.8 1400.9 390.8 1401.6 390.8 1402.4 390.8 1403.1 390.8 1403.9 390.8 1404.6 390.8 1405.4 390.8 1406.1 390.8 1406.9 390.8 1407.6 390.8 1408.4 390.8 1409.1 390.8 1409.9 390.8 1410.6 390.8 1411.4 390.8 1412.1 390.8 1412.9 390.8 1413.6 390.8 1414.4 390.8 1415.1 390.8 1415.9 390.8 1416.6 390.8 1417.4 390.8 1418.1 390.8 1418.9 390.8 1419.6 390.8 1420.4 390.8 1421.1 390.8 1421.9 390.8 1422.6 390.8 1423.4 390.8 1424.1 390.8 1424.9 390.8 1425.6 390.8 1426.4 390.8 1427.1 390.8 1427.9 390.8 1428.6 390.8 1429.4 390.8 1430.1 390.8 1430.9 390.8 1431.6 390.8 1432.4 390.8 1433.1 390.8 1433.9 390.8L1434.4 390.8L1279.4 390.8Z" fill="#e8e8e8" stroke="none"/>
<path d="M1279.4 390.8 1280.1 390.8 1280.9 390.8 1281.6 390.8 1282.4 390.8 1283.1 390.8 1283.9 390.8 1284.6 390.8 1285.4 390.8 1286.1 390.8 1286.9 390.8 1287.6 390.8 1288.4 390.8 1289.1 390.8 1289.9 390.8 1290.6 390.8 1291.4 390.8 1292.1 390.8 1292.9 390.8 1293.6 390.8 1294.4 390.8 1295.1 390.8 1295.9 390.8 1296.6 390.8 1297.4 390.8 1298.1 390.8 1298.9 390.8 1299.6 390.8 1300.4 390.8 1301.1 390.8 1301.9 390.8 1302.6 390.8 1303.4 390.8 1304.1 390.8 1304.9 390.8 1305.6 390.8 1306.4 390.8 1307.1 390.8 1307.9 390.8 1308.6 390.8 1309.4 390.8 1310.1 390.8 1310.9 390.8 1311.6 390.8 1312.4 390.8 1313.1 390.8 1313.9 390.8 1314.6 390.8 1315.4 390.8 1316.1 390.8 1316.9 390.8 1317.6 390.8 1318.4 390.8 1319.1 390.8 1319.9 390.8 1320.6 390.8 1321.4 390.8 1322.1 390.8 1322.9 390.8 1323.6 390.8 1324.4 390.8 1325.1 390.8 1325.9 390.8 1326.6 390.8 1327.4 390.8 1328.1 390.8 1328.9 390.8 1329.6 390.8 1330.4 390.8 1331.1 390.8 1331.9 390.8 1332.6 390.8 1333.4 390.8 1334.1 390.8 1334.9 390.8 1335.6 390.8 1336.4 390.8 1337.1 390.8 1337.9 390.8 1338.6 390.8 1339.4 390.8 1340.1 390.8 1340.9 390.8 1341.6 390.8 1342.4 390.8 1343.1 390.8 1343.9 390.8 1344.6 390.8 1345.4 390.8 1346.1 390.8 1346.9 390.8 1347.6 390.8 1348.4 390.8 1349.1 390.8 1349.9 390.8 1350.6 390.8 1351.4 390.8 1352.1 390.8 1352.9 390.8 1353.6 390.8 1354.4 390.8 1355.1 390.8 1355.9 390.7 1356.6 390.7 1357.4 390.7 1358.1 390.7 1358.9 390.7 1359.6 390.7 1360.4 390.6 1361.1 390.6 1361.9 390.6 1362.6 390.5 1363.4 390.4 1364.1 390.4 1364.9 390.3 1365.6 390.2 1366.4 390.1 1367.1 390 1367.9 389.9 1368.6 389.7 1369.4 389.6 1370.1 389.4 1370.9 389.2 1371.6 389 1372.4 388.8 1373.1 388.5 1373.9 388.2 1374.6 387.9 1375.4 387.3 1376.1 387.3 1376.9 386.6 1377.6 386.5 1378.4 386 1379.1 385.6 1379.9 385 1380.6 384.8 1381.4 384 1382.1 383.5 1382.9 383.1 1383.6 381.9 1384.4 381.1 1385.1 381.1 1385.9 379.9 1386.6 379.2 1387.4 378.4 1388.1 377.2 1388.9 376 1389.6 375.3 1390.4 373.8 1391.1 372 1391.9 369.6 1392.6 367.5 1393.4 365.3 1394.1 363.1 1394.9 359.2 1395.6 355.5 1396.4 351.6 1397.1 348.4 1397.9 343 1398.6 337.9 1399.4 331.4 1400.1 324 1400.9 318.1 1401.6 311.3 1402.4 304.4 1403.1 296.9 1403.9 287.3 1404.6 279.5 1405.4 272.4 1406.1 268.5 1406.9 261.5 1407.6 256.5 1408.4 250.8 1409.1 248.2 1409.9 244.7 1410.6 243.5 1411.4 242.7 1412.1 244.6 1412.9 247.9 1413.6 254.4 1414.4 257.8 1415.1 267.4 1415.9 274.8 1416.6 286.1 1417.4 296.7 1418.1 304.4 1418.9 315.9 1419.6 326.4 1420.4 333.8 1421.1 342.5 1421.9 351.8 1422.6 357.2 1423.4 364.6 1424.1 369.7 1424.9 374.1 1425.6 376.9 1426.4 380.3 1427.1 382.8 1427.9 384.6 1428.6 386.4 1429.4 387.7 1430.1 388.3 1430.9 389 1431.6 389.5 1432.4 389.9 1433.1 390.2 1433.9 390.3L1434.4 390.8L1279.4 390.8Z" fill="rgba(240,40,48,0.42)" stroke="none"/>
<path d="M1279.4 390.8 1280.1 390.8 1280.9 390.8 1281.6 390.8 1282.4 390.8 1283.1 390.8 1283.9 390.8 1284.6 390.8 1285.4 390.8 1286.1 390.8 1286.9 390.8 1287.6 390.8 1288.4 390.8 1289.1 390.8 1289.9 390.8 1290.6 390.7 1291.4 390.7 1292.1 390.7 1292.9 390.6 1293.6 390.5 1294.4 390.3 1295.1 390 1295.9 389.6 1296.6 389 1297.4 388.2 1298.1 387.2 1298.9 385.6 1299.6 383.6 1300.4 381.3 1301.1 378.4 1301.9 374.6 1302.6 369.4 1303.4 364 1304.1 357 1304.9 348.3 1305.6 339.4 1306.4 328.6 1307.1 319.7 1307.9 308.8 1308.6 297.4 1309.4 285.4 1310.1 275.7 1310.9 264.1 1311.6 256.6 1312.4 248.7 1313.1 246.8 1313.9 242.3 1314.6 244.7 1315.4 245.6 1316.1 249.9 1316.9 258.2 1317.6 266.1 1318.4 276.3 1319.1 284.6 1319.9 295.8 1320.6 306.3 1321.4 318.7 1322.1 329 1322.9 337.1 1323.6 346.9 1324.4 353.6 1325.1 361.2 1325.9 367.9 1326.6 372.1 1327.4 376.4 1328.1 380 1328.9 382.4 1329.6 384.6 1330.4 386.3 1331.1 387.5 1331.9 388.6 1332.6 389.3 1333.4 389.8 1334.1 390.1 1334.9 390.3 1335.6 390.5 1336.4 390.6 1337.1 390.7 1337.9 390.7 1338.6 390.8 1339.4 390.8 1340.1 390.8 1340.9 390.8 1341.6 390.8 1342.4 390.8 1343.1 390.8 1343.9 390.8 1344.6 390.8 1345.4 390.8 1346.1 390.8 1346.9 390.8 1347.6 390.8 1348.4 390.8 1349.1 390.8 1349.9 390.8 1350.6 390.8 1351.4 390.8 1352.1 390.8 1352.9 390.8 1353.6 390.8 1354.4 390.8 1355.1 390.8 1355.9 390.8 1356.6 390.8 1357.4 390.8 1358.1 390.8 1358.9 390.8 1359.6 390.8 1360.4 390.8 1361.1 390.8 1361.9 390.8 1362.6 390.8 1363.4 390.8 1364.1 390.8 1364.9 390.8 1365.6 390.8 1366.4 390.8 1367.1 390.8 1367.9 390.8 1368.6 390.8 1369.4 390.8 1370.1 390.8 1370.9 390.8 1371.6 390.8 1372.4 390.8 1373.1 390.8 1373.9 390.8 1374.6 390.8 1375.4 390.8 1376.1 390.8 1376.9 390.8 1377.6 390.8 1378.4 390.8 1379.1 390.8 1379.9 390.8 1380.6 390.8 1381.4 390.8 1382.1 390.8 1382.9 390.8 1383.6 390.8 1384.4 390.8 1385.1 390.8 1385.9 390.8 1386.6 390.8 1387.4 390.8 1388.1 390.8 1388.9 390.8 1389.6 390.8 1390.4 390.8 1391.1 390.8 1391.9 390.8 1392.6 390.8 1393.4 390.8 1394.1 390.8 1394.9 390.8 1395.6 390.8 1396.4 390.8 1397.1 390.8 1397.9 390.8 1398.6 390.8 1399.4 390.8 1400.1 390.8 1400.9 390.8 1401.6 390.8 1402.4 390.8 1403.1 390.8 1403.9 390.8 1404.6 390.8 1405.4 390.8 1406.1 390.8 1406.9 390.8 1407.6 390.8 1408.4 390.8 1409.1 390.8 1409.9 390.8 1410.6 390.8 1411.4 390.8 1412.1 390.8 1412.9 390.8 1413.6 390.8 1414.4 390.8 1415.1 390.8 1415.9 390.8 1416.6 390.8 1417.4 390.8 1418.1 390.8 1418.9 390.8 1419.6 390.8 1420.4 390.8 1421.1 390.8 1421.9 390.8 1422.6 390.8 1423.4 390.8 1424.1 390.8 1424.9 390.8 1425.6 390.8 1426.4 390.8 1427.1 390.8 1427.9 390.8 1428.6 390.8 1429.4 390.8 1430.1 390.8 1430.9 390.8 1431.6 390.8 1432.4 390.8 1433.1 390.8 1433.9 390.8" fill="none" stroke="#707070" stroke-width="1.7" stroke-linejoin="round"/>
<path d="M1279.4 390.8 1280.1 390.8 1280.9 390.8 1281.6 390.8 1282.4 390.8 1283.1 390.8 1283.9 390.8 1284.6 390.8 1285.4 390.8 1286.1 390.8 1286.9 390.8 1287.6 390.8 1288.4 390.8 1289.1 390.8 1289.9 390.8 1290.6 390.8 1291.4 390.8 1292.1 390.8 1292.9 390.8 1293.6 390.8 1294.4 390.8 1295.1 390.8 1295.9 390.8 1296.6 390.8 1297.4 390.8 1298.1 390.8 1298.9 390.8 1299.6 390.8 1300.4 390.8 1301.1 390.8 1301.9 390.8 1302.6 390.8 1303.4 390.8 1304.1 390.8 1304.9 390.8 1305.6 390.8 1306.4 390.8 1307.1 390.8 1307.9 390.8 1308.6 390.8 1309.4 390.8 1310.1 390.8 1310.9 390.8 1311.6 390.8 1312.4 390.8 1313.1 390.8 1313.9 390.8 1314.6 390.8 1315.4 390.8 1316.1 390.8 1316.9 390.8 1317.6 390.8 1318.4 390.8 1319.1 390.8 1319.9 390.8 1320.6 390.8 1321.4 390.8 1322.1 390.8 1322.9 390.8 1323.6 390.8 1324.4 390.8 1325.1 390.8 1325.9 390.8 1326.6 390.8 1327.4 390.8 1328.1 390.8 1328.9 390.8 1329.6 390.8 1330.4 390.8 1331.1 390.8 1331.9 390.8 1332.6 390.8 1333.4 390.8 1334.1 390.8 1334.9 390.8 1335.6 390.8 1336.4 390.8 1337.1 390.8 1337.9 390.8 1338.6 390.8 1339.4 390.8 1340.1 390.8 1340.9 390.8 1341.6 390.8 1342.4 390.8 1343.1 390.8 1343.9 390.8 1344.6 390.8 1345.4 390.8 1346.1 390.8 1346.9 390.8 1347.6 390.8 1348.4 390.8 1349.1 390.8 1349.9 390.8 1350.6 390.8 1351.4 390.8 1352.1 390.8 1352.9 390.8 1353.6 390.8 1354.4 390.8 1355.1 390.8 1355.9 390.7 1356.6 390.7 1357.4 390.7 1358.1 390.7 1358.9 390.7 1359.6 390.7 1360.4 390.6 1361.1 390.6 1361.9 390.6 1362.6 390.5 1363.4 390.4 1364.1 390.4 1364.9 390.3 1365.6 390.2 1366.4 390.1 1367.1 390 1367.9 389.9 1368.6 389.7 1369.4 389.6 1370.1 389.4 1370.9 389.2 1371.6 389 1372.4 388.8 1373.1 388.5 1373.9 388.2 1374.6 387.9 1375.4 387.3 1376.1 387.3 1376.9 386.6 1377.6 386.5 1378.4 386 1379.1 385.6 1379.9 385 1380.6 384.8 1381.4 384 1382.1 383.5 1382.9 383.1 1383.6 381.9 1384.4 381.1 1385.1 381.1 1385.9 379.9 1386.6 379.2 1387.4 378.4 1388.1 377.2 1388.9 376 1389.6 375.3 1390.4 373.8 1391.1 372 1391.9 369.6 1392.6 367.5 1393.4 365.3 1394.1 363.1 1394.9 359.2 1395.6 355.5 1396.4 351.6 1397.1 348.4 1397.9 343 1398.6 337.9 1399.4 331.4 1400.1 324 1400.9 318.1 1401.6 311.3 1402.4 304.4 1403.1 296.9 1403.9 287.3 1404.6 279.5 1405.4 272.4 1406.1 268.5 1406.9 261.5 1407.6 256.5 1408.4 250.8 1409.1 248.2 1409.9 244.7 1410.6 243.5 1411.4 242.7 1412.1 244.6 1412.9 247.9 1413.6 254.4 1414.4 257.8 1415.1 267.4 1415.9 274.8 1416.6 286.1 1417.4 296.7 1418.1 304.4 1418.9 315.9 1419.6 326.4 1420.4 333.8 1421.1 342.5 1421.9 351.8 1422.6 357.2 1423.4 364.6 1424.1 369.7 1424.9 374.1 1425.6 376.9 1426.4 380.3 1427.1 382.8 1427.9 384.6 1428.6 386.4 1429.4 387.7 1430.1 388.3 1430.9 389 1431.6 389.5 1432.4 389.9 1433.1 390.2 1433.9 390.3" fill="none" stroke="#ee2a30" stroke-width="2.2" stroke-linejoin="round"/>
<line x1="1356" y1="236.4" x2="1356" y2="390.6" stroke="#505050" stroke-width="2.6" stroke-dasharray="2.2 1.8"/>
<rect x="1278.6" y="234.4" width="156.6" height="157.2" fill="none" stroke="#2a2a2a" stroke-width="1.5"/>
<text transform="translate(1364.3 385.3) scale(0.928 1)" font-size="22.8" font-weight="bold">99.9%</text>
<path d="M1461 390.6 1461.8 390 1462.5 389.3 1463.2 388.5 1464 387.6 1464.8 386.6 1465.5 386.2 1466.2 384.4 1467 383.5 1467.8 382.3 1468.5 380.8 1469.2 380.1 1470 378.1 1470.8 376.7 1471.5 375.9 1472.2 373.3 1473 371.6 1473.8 369 1474.5 366.4 1475.2 363.8 1476 360.9 1476.8 357 1477.5 355.3 1478.2 351.9 1479 347.4 1479.8 343.9 1480.5 339.8 1481.2 336.9 1482 333.8 1482.8 329 1483.5 327.4 1484.2 323.2 1485 317.1 1485.8 314 1486.5 310.3 1487.2 306.8 1488 304.6 1488.8 299.7 1489.5 296.5 1490.2 292.5 1491 287.8 1491.8 285.4 1492.5 278.9 1493.2 277.7 1494 274.6 1494.8 269.1 1495.5 266.6 1496.2 263.4 1497 257.7 1497.8 254.6 1498.5 250.6 1499.2 247.8 1500 249.3 1500.8 246.9 1501.5 246.7 1502.2 246.6 1503 246.5 1503.8 247 1504.5 248 1505.2 249.1 1506 250.3 1506.8 253.4 1507.5 261.4 1508.2 267 1509 271.7 1509.8 279.8 1510.5 289.1 1511.2 297.2 1512 304.3 1512.8 310.9 1513.5 314.5 1514.2 321.5 1515 328.2 1515.8 333.9 1516.5 340.2 1517.2 345.5 1518 351.6 1518.8 355.7 1519.5 360.5 1520.2 364.4 1521 368.3 1521.8 371.3 1522.5 374.2 1523.2 375.8 1524 378.1 1524.8 380.8 1525.5 382.7 1526.2 384.7 1527 386 1527.8 387.1 1528.5 387.2 1529.2 387.9 1530 388.4 1530.8 388.8 1531.5 389.1 1532.2 389.4 1533 389.7 1533.8 389.9 1534.5 390.1 1535.2 390.3 1536 390.5 1536.8 390.5 1537.5 390.6 1538.2 390.6 1539 390.7 1539.8 390.7 1540.5 390.7 1541.2 390.7 1542 390.8 1542.8 390.8 1543.5 390.8 1544.2 390.8 1545 390.8 1545.8 390.8 1546.5 390.8 1547.2 390.8 1548 390.8 1548.8 390.8 1549.5 390.8 1550.2 390.8 1551 390.8 1551.8 390.8 1552.5 390.8 1553.2 390.8 1554 390.8 1554.8 390.8 1555.5 390.8 1556.2 390.8 1557 390.8 1557.8 390.8 1558.5 390.8 1559.2 390.8 1560 390.8 1560.8 390.8 1561.5 390.8 1562.2 390.8 1563 390.8 1563.8 390.8 1564.5 390.8 1565.2 390.8 1566 390.8 1566.8 390.8 1567.5 390.8 1568.2 390.8 1569 390.8 1569.8 390.8 1570.5 390.8 1571.2 390.8 1572 390.8 1572.8 390.8 1573.5 390.8 1574.2 390.8 1575 390.8 1575.8 390.8 1576.5 390.8 1577.2 390.8 1578 390.8 1578.8 390.8 1579.5 390.8 1580.2 390.8 1581 390.8 1581.8 390.8 1582.5 390.8 1583.2 390.8 1584 390.8 1584.8 390.8 1585.5 390.8 1586.2 390.8 1587 390.8 1587.8 390.8 1588.5 390.8 1589.2 390.8 1590 390.8 1590.8 390.8 1591.5 390.8 1592.2 390.8 1593 390.8 1593.8 390.8 1594.5 390.8 1595.2 390.8 1596 390.8 1596.8 390.8 1597.5 390.8 1598.2 390.8 1599 390.8 1599.8 390.8 1600.5 390.8 1601.2 390.8 1602 390.8 1602.8 390.8 1603.5 390.8 1604.2 390.8 1605 390.8 1605.8 390.8 1606.5 390.8 1607.2 390.8 1608 390.8 1608.8 390.8 1609.5 390.8 1610.2 390.8 1611 390.8 1611.8 390.8 1612.5 390.8 1613.2 390.8 1614 390.8 1614.8 390.8 1615.5 390.8L1616 390.8L1461 390.8Z" fill="#e8e8e8" stroke="none"/>
<path d="M1461 390.8 1461.8 390.8 1462.5 390.8 1463.2 390.7 1464 390.6 1464.8 390.4 1465.5 390.3 1466.2 390.1 1467 389.9 1467.8 389.7 1468.5 389.4 1469.2 389.1 1470 388.8 1470.8 388.5 1471.5 388.1 1472.2 387.4 1473 387.4 1473.8 386.4 1474.5 386.2 1475.2 385.7 1476 384.9 1476.8 384.7 1477.5 384 1478.2 383 1479 382.4 1479.8 380.9 1480.5 379.9 1481.2 378.3 1482 376.7 1482.8 374.8 1483.5 372 1484.2 369.4 1485 367.9 1485.8 364.6 1486.5 363 1487.2 359.5 1488 358 1488.8 354.5 1489.5 351.8 1490.2 347.3 1491 344 1491.8 342 1492.5 338.2 1493.2 333.3 1494 330.1 1494.8 326.2 1495.5 320.2 1496.2 316.5 1497 315.4 1497.8 311.5 1498.5 305.4 1499.2 300.2 1500 296.3 1500.8 293 1501.5 288.8 1502.2 285.9 1503 282.2 1503.8 277.3 1504.5 276.6 1505.2 270.7 1506 267 1506.8 265.9 1507.5 260.1 1508.2 259.7 1509 253.8 1509.8 252.5 1510.5 251.7 1511.2 249.2 1512 245.6 1512.8 246.7 1513.5 246.4 1514.2 243.9 1515 243 1515.8 246.7 1516.5 244.5 1517.2 246.9 1518 246.5 1518.8 248.3 1519.5 247.4 1520.2 250.1 1521 249.7 1521.8 251.5 1522.5 257.2 1523.2 256.3 1524 259.8 1524.8 265 1525.5 266 1526.2 270.3 1527 274.4 1527.8 277.8 1528.5 280 1529.2 281.4 1530 287.4 1530.8 288.3 1531.5 290 1532.2 294.4 1533 295.8 1533.8 298.8 1534.5 300.7 1535.2 304.2 1536 305.1 1536.8 309.6 1537.5 312.8 1538.2 315.6 1539 317.7 1539.8 320.6 1540.5 320.6 1541.2 325.4 1542 325.8 1542.8 328.5 1543.5 331.8 1544.2 335.3 1545 337.1 1545.8 337.2 1546.5 340.4 1547.2 341 1548 344.2 1548.8 345.7 1549.5 346.3 1550.2 347.6 1551 349.1 1551.8 349.2 1552.5 350.4 1553.2 351.4 1554 352.9 1554.8 353.6 1555.5 354.7 1556.2 354.8 1557 355.8 1557.8 355.8 1558.5 355.7 1559.2 357.6 1560 357.6 1560.8 359.2 1561.5 358.2 1562.2 359.4 1563 359.9 1563.8 360.6 1564.5 362.3 1565.2 361.6 1566 364.2 1566.8 364.9 1567.5 365.6 1568.2 366.1 1569 367.9 1569.8 369.1 1570.5 371.5 1571.2 372.6 1572 374 1572.8 376 1573.5 377.5 1574.2 378.7 1575 380.6 1575.8 382.4 1576.5 383.9 1577.2 385 1578 386.8 1578.8 388.2 1579.5 389.3 1580.2 390 1581 390.3 1581.8 390.5 1582.5 390.6 1583.2 390.7 1584 390.8 1584.8 390.8 1585.5 390.8 1586.2 390.8 1587 390.8 1587.8 390.8 1588.5 390.8 1589.2 390.8 1590 390.8 1590.8 390.8 1591.5 390.8 1592.2 390.8 1593 390.8 1593.8 390.8 1594.5 390.8 1595.2 390.8 1596 390.8 1596.8 390.8 1597.5 390.8 1598.2 390.8 1599 390.8 1599.8 390.8 1600.5 390.8 1601.2 390.8 1602 390.8 1602.8 390.8 1603.5 390.8 1604.2 390.8 1605 390.8 1605.8 390.8 1606.5 390.8 1607.2 390.8 1608 390.8 1608.8 390.8 1609.5 390.8 1610.2 390.8 1611 390.8 1611.8 390.8 1612.5 390.8 1613.2 390.8 1614 390.8 1614.8 390.8 1615.5 390.8L1616 390.8L1461 390.8Z" fill="rgba(240,40,48,0.42)" stroke="none"/>
<path d="M1461 390.6 1461.8 390 1462.5 389.3 1463.2 388.5 1464 387.6 1464.8 386.6 1465.5 386.2 1466.2 384.4 1467 383.5 1467.8 382.3 1468.5 380.8 1469.2 380.1 1470 378.1 1470.8 376.7 1471.5 375.9 1472.2 373.3 1473 371.6 1473.8 369 1474.5 366.4 1475.2 363.8 1476 360.9 1476.8 357 1477.5 355.3 1478.2 351.9 1479 347.4 1479.8 343.9 1480.5 339.8 1481.2 336.9 1482 333.8 1482.8 329 1483.5 327.4 1484.2 323.2 1485 317.1 1485.8 314 1486.5 310.3 1487.2 306.8 1488 304.6 1488.8 299.7 1489.5 296.5 1490.2 292.5 1491 287.8 1491.8 285.4 1492.5 278.9 1493.2 277.7 1494 274.6 1494.8 269.1 1495.5 266.6 1496.2 263.4 1497 257.7 1497.8 254.6 1498.5 250.6 1499.2 247.8 1500 249.3 1500.8 246.9 1501.5 246.7 1502.2 246.6 1503 246.5 1503.8 247 1504.5 248 1505.2 249.1 1506 250.3 1506.8 253.4 1507.5 261.4 1508.2 267 1509 271.7 1509.8 279.8 1510.5 289.1 1511.2 297.2 1512 304.3 1512.8 310.9 1513.5 314.5 1514.2 321.5 1515 328.2 1515.8 333.9 1516.5 340.2 1517.2 345.5 1518 351.6 1518.8 355.7 1519.5 360.5 1520.2 364.4 1521 368.3 1521.8 371.3 1522.5 374.2 1523.2 375.8 1524 378.1 1524.8 380.8 1525.5 382.7 1526.2 384.7 1527 386 1527.8 387.1 1528.5 387.2 1529.2 387.9 1530 388.4 1530.8 388.8 1531.5 389.1 1532.2 389.4 1533 389.7 1533.8 389.9 1534.5 390.1 1535.2 390.3 1536 390.5 1536.8 390.5 1537.5 390.6 1538.2 390.6 1539 390.7 1539.8 390.7 1540.5 390.7 1541.2 390.7 1542 390.8 1542.8 390.8 1543.5 390.8 1544.2 390.8 1545 390.8 1545.8 390.8 1546.5 390.8 1547.2 390.8 1548 390.8 1548.8 390.8 1549.5 390.8 1550.2 390.8 1551 390.8 1551.8 390.8 1552.5 390.8 1553.2 390.8 1554 390.8 1554.8 390.8 1555.5 390.8 1556.2 390.8 1557 390.8 1557.8 390.8 1558.5 390.8 1559.2 390.8 1560 390.8 1560.8 390.8 1561.5 390.8 1562.2 390.8 1563 390.8 1563.8 390.8 1564.5 390.8 1565.2 390.8 1566 390.8 1566.8 390.8 1567.5 390.8 1568.2 390.8 1569 390.8 1569.8 390.8 1570.5 390.8 1571.2 390.8 1572 390.8 1572.8 390.8 1573.5 390.8 1574.2 390.8 1575 390.8 1575.8 390.8 1576.5 390.8 1577.2 390.8 1578 390.8 1578.8 390.8 1579.5 390.8 1580.2 390.8 1581 390.8 1581.8 390.8 1582.5 390.8 1583.2 390.8 1584 390.8 1584.8 390.8 1585.5 390.8 1586.2 390.8 1587 390.8 1587.8 390.8 1588.5 390.8 1589.2 390.8 1590 390.8 1590.8 390.8 1591.5 390.8 1592.2 390.8 1593 390.8 1593.8 390.8 1594.5 390.8 1595.2 390.8 1596 390.8 1596.8 390.8 1597.5 390.8 1598.2 390.8 1599 390.8 1599.8 390.8 1600.5 390.8 1601.2 390.8 1602 390.8 1602.8 390.8 1603.5 390.8 1604.2 390.8 1605 390.8 1605.8 390.8 1606.5 390.8 1607.2 390.8 1608 390.8 1608.8 390.8 1609.5 390.8 1610.2 390.8 1611 390.8 1611.8 390.8 1612.5 390.8 1613.2 390.8 1614 390.8 1614.8 390.8 1615.5 390.8" fill="none" stroke="#707070" stroke-width="1.7" stroke-linejoin="round"/>
<path d="M1461 390.8 1461.8 390.8 1462.5 390.8 1463.2 390.7 1464 390.6 1464.8 390.4 1465.5 390.3 1466.2 390.1 1467 389.9 1467.8 389.7 1468.5 389.4 1469.2 389.1 1470 388.8 1470.8 388.5 1471.5 388.1 1472.2 387.4 1473 387.4 1473.8 386.4 1474.5 386.2 1475.2 385.7 1476 384.9 1476.8 384.7 1477.5 384 1478.2 383 1479 382.4 1479.8 380.9 1480.5 379.9 1481.2 378.3 1482 376.7 1482.8 374.8 1483.5 372 1484.2 369.4 1485 367.9 1485.8 364.6 1486.5 363 1487.2 359.5 1488 358 1488.8 354.5 1489.5 351.8 1490.2 347.3 1491 344 1491.8 342 1492.5 338.2 1493.2 333.3 1494 330.1 1494.8 326.2 1495.5 320.2 1496.2 316.5 1497 315.4 1497.8 311.5 1498.5 305.4 1499.2 300.2 1500 296.3 1500.8 293 1501.5 288.8 1502.2 285.9 1503 282.2 1503.8 277.3 1504.5 276.6 1505.2 270.7 1506 267 1506.8 265.9 1507.5 260.1 1508.2 259.7 1509 253.8 1509.8 252.5 1510.5 251.7 1511.2 249.2 1512 245.6 1512.8 246.7 1513.5 246.4 1514.2 243.9 1515 243 1515.8 246.7 1516.5 244.5 1517.2 246.9 1518 246.5 1518.8 248.3 1519.5 247.4 1520.2 250.1 1521 249.7 1521.8 251.5 1522.5 257.2 1523.2 256.3 1524 259.8 1524.8 265 1525.5 266 1526.2 270.3 1527 274.4 1527.8 277.8 1528.5 280 1529.2 281.4 1530 287.4 1530.8 288.3 1531.5 290 1532.2 294.4 1533 295.8 1533.8 298.8 1534.5 300.7 1535.2 304.2 1536 305.1 1536.8 309.6 1537.5 312.8 1538.2 315.6 1539 317.7 1539.8 320.6 1540.5 320.6 1541.2 325.4 1542 325.8 1542.8 328.5 1543.5 331.8 1544.2 335.3 1545 337.1 1545.8 337.2 1546.5 340.4 1547.2 341 1548 344.2 1548.8 345.7 1549.5 346.3 1550.2 347.6 1551 349.1 1551.8 349.2 1552.5 350.4 1553.2 351.4 1554 352.9 1554.8 353.6 1555.5 354.7 1556.2 354.8 1557 355.8 1557.8 355.8 1558.5 355.7 1559.2 357.6 1560 357.6 1560.8 359.2 1561.5 358.2 1562.2 359.4 1563 359.9 1563.8 360.6 1564.5 362.3 1565.2 361.6 1566 364.2 1566.8 364.9 1567.5 365.6 1568.2 366.1 1569 367.9 1569.8 369.1 1570.5 371.5 1571.2 372.6 1572 374 1572.8 376 1573.5 377.5 1574.2 378.7 1575 380.6 1575.8 382.4 1576.5 383.9 1577.2 385 1578 386.8 1578.8 388.2 1579.5 389.3 1580.2 390 1581 390.3 1581.8 390.5 1582.5 390.6 1583.2 390.7 1584 390.8 1584.8 390.8 1585.5 390.8 1586.2 390.8 1587 390.8 1587.8 390.8 1588.5 390.8 1589.2 390.8 1590 390.8 1590.8 390.8 1591.5 390.8 1592.2 390.8 1593 390.8 1593.8 390.8 1594.5 390.8 1595.2 390.8 1596 390.8 1596.8 390.8 1597.5 390.8 1598.2 390.8 1599 390.8 1599.8 390.8 1600.5 390.8 1601.2 390.8 1602 390.8 1602.8 390.8 1603.5 390.8 1604.2 390.8 1605 390.8 1605.8 390.8 1606.5 390.8 1607.2 390.8 1608 390.8 1608.8 390.8 1609.5 390.8 1610.2 390.8 1611 390.8 1611.8 390.8 1612.5 390.8 1613.2 390.8 1614 390.8 1614.8 390.8 1615.5 390.8" fill="none" stroke="#ee2a30" stroke-width="2.2" stroke-linejoin="round"/>
<line x1="1538" y1="236.4" x2="1538" y2="390.6" stroke="#505050" stroke-width="2.6" stroke-dasharray="2.2 1.8"/>
<rect x="1460.2" y="234.4" width="156.6" height="157.2" fill="none" stroke="#2a2a2a" stroke-width="1.5"/>
<text transform="translate(1547 385.3) scale(0.921 1)" font-size="22.8" font-weight="bold">20.5%</text>
<path d="M1643.2 390.3 1644 390.2 1644.7 390.1 1645.5 390 1646.2 389.8 1647 389.6 1647.7 389.4 1648.5 389.1 1649.2 388.8 1650 388.5 1650.7 388.1 1651.5 387.6 1652.2 386.9 1653 386.3 1653.7 385.5 1654.5 384.5 1655.2 383.7 1656 383.2 1656.7 382 1657.5 380.5 1658.2 379.1 1659 376.8 1659.7 375.2 1660.5 373.6 1661.2 371.7 1662 369.5 1662.7 366.4 1663.5 363 1664.2 361.4 1665 357.7 1665.7 354.5 1666.5 350.3 1667.2 347.2 1668 343.6 1668.7 337.9 1669.5 334.4 1670.2 328.9 1671 323.4 1671.7 319.4 1672.5 313.4 1673.2 308.6 1674 305.8 1674.7 300 1675.5 293.5 1676.2 289 1677 285.7 1677.7 277.9 1678.5 273.8 1679.2 270.1 1680 265.5 1680.7 262.8 1681.5 257.7 1682.2 256 1683 250.9 1683.7 247.3 1684.5 248.1 1685.2 246.3 1686 243.8 1686.7 241.9 1687.5 244.6 1688.2 243.9 1689 243.8 1689.7 246.9 1690.5 249 1691.2 248.4 1692 251.5 1692.7 254.7 1693.5 258.2 1694.2 263.6 1695 266.2 1695.7 270.5 1696.5 274.9 1697.2 280.9 1698 286.1 1698.7 289.6 1699.5 294.1 1700.2 299.4 1701 303.7 1701.7 310.6 1702.5 315.6 1703.2 320.8 1704 325.1 1704.7 329.5 1705.5 333.6 1706.2 339.9 1707 343 1707.7 346.6 1708.5 350.5 1709.2 354.8 1710 358.8 1710.7 361.5 1711.5 364 1712.2 366.4 1713 369.8 1713.7 372 1714.5 374 1715.2 376.4 1716 377 1716.7 379.3 1717.5 380.7 1718.2 381.4 1719 382.8 1719.7 384.3 1720.5 384.6 1721.2 385.5 1722 386.4 1722.7 387.1 1723.5 387.4 1724.2 388.1 1725 388.5 1725.7 388.9 1726.5 389.2 1727.2 389.4 1728 389.7 1728.7 389.9 1729.5 390 1730.2 390.1 1731 390.3 1731.7 390.4 1732.5 390.4 1733.2 390.5 1734 390.6 1734.7 390.6 1735.5 390.6 1736.2 390.7 1737 390.7 1737.7 390.7 1738.5 390.7 1739.2 390.7 1740 390.8 1740.7 390.8 1741.5 390.8 1742.2 390.8 1743 390.8 1743.7 390.8 1744.5 390.8 1745.2 390.8 1746 390.8 1746.7 390.8 1747.5 390.8 1748.2 390.8 1749 390.8 1749.7 390.8 1750.5 390.8 1751.2 390.8 1752 390.8 1752.7 390.8 1753.5 390.8 1754.2 390.8 1755 390.8 1755.7 390.8 1756.5 390.8 1757.2 390.8 1758 390.8 1758.7 390.8 1759.5 390.8 1760.2 390.8 1761 390.8 1761.7 390.8 1762.5 390.8 1763.2 390.8 1764 390.8 1764.7 390.8 1765.5 390.8 1766.2 390.8 1767 390.8 1767.7 390.8 1768.5 390.8 1769.2 390.8 1770 390.8 1770.7 390.8 1771.5 390.8 1772.2 390.8 1773 390.8 1773.7 390.8 1774.5 390.8 1775.2 390.8 1776 390.8 1776.7 390.8 1777.5 390.8 1778.2 390.8 1779 390.8 1779.7 390.8 1780.5 390.8 1781.2 390.8 1782 390.8 1782.7 390.8 1783.5 390.8 1784.2 390.8 1785 390.8 1785.7 390.8 1786.5 390.8 1787.2 390.8 1788 390.8 1788.7 390.8 1789.5 390.8 1790.2 390.8 1791 390.8 1791.7 390.8 1792.5 390.8 1793.2 390.8 1794 390.8 1794.7 390.8 1795.5 390.8 1796.2 390.8 1797 390.8 1797.7 390.8L1798.2 390.8L1643.2 390.8Z" fill="rgba(240,40,48,0.42)" stroke="none"/>
<path d="M1643.2 390.8 1644 390.8 1644.7 390.8 1645.5 390.8 1646.2 390.8 1647 390.8 1647.7 390.8 1648.5 390.8 1649.2 390.8 1650 390.8 1650.7 390.8 1651.5 390.8 1652.2 390.8 1653 390.8 1653.7 390.8 1654.5 390.8 1655.2 390.7 1656 390.7 1656.7 390.7 1657.5 390.7 1658.2 390.6 1659 390.5 1659.7 390.4 1660.5 390.3 1661.2 390.1 1662 389.9 1662.7 389.6 1663.5 389.2 1664.2 388.7 1665 388.1 1665.7 387.5 1666.5 386.2 1667.2 385.2 1668 384.4 1668.7 382.3 1669.5 380.9 1670.2 378.7 1671 375.1 1671.7 371.8 1672.5 368.9 1673.2 364.7 1674 361.2 1674.7 356.3 1675.5 350.5 1676.2 345 1677 336.9 1677.7 331.6 1678.5 323.6 1679.2 317.3 1680 309.3 1680.7 301.1 1681.5 292.8 1682.2 285.9 1683 277.8 1683.7 270.7 1684.5 266.1 1685.2 259 1686 256.1 1686.7 250 1687.5 246.6 1688.2 244.3 1689 243.9 1689.7 245.5 1690.5 245.7 1691.2 249.4 1692 253.3 1692.7 260.3 1693.5 265.8 1694.2 271.1 1695 275.6 1695.7 282.8 1696.5 290.7 1697.2 299.6 1698 308.2 1698.7 315.4 1699.5 321.3 1700.2 330.5 1701 335.7 1701.7 342.9 1702.5 349.1 1703.2 355.3 1704 360.3 1704.7 364.8 1705.5 368 1706.2 372.7 1707 375.3 1707.7 377.7 1708.5 380.4 1709.2 382.5 1710 383.4 1710.7 385.4 1711.5 386 1712.2 387.3 1713 388.1 1713.7 388.7 1714.5 389.2 1715.2 389.5 1716 389.8 1716.7 390.1 1717.5 390.3 1718.2 390.4 1719 390.5 1719.7 390.6 1720.5 390.6 1721.2 390.7 1722 390.7 1722.7 390.7 1723.5 390.8 1724.2 390.8 1725 390.8 1725.7 390.8 1726.5 390.8 1727.2 390.8 1728 390.8 1728.7 390.8 1729.5 390.8 1730.2 390.8 1731 390.8 1731.7 390.8 1732.5 390.8 1733.2 390.8 1734 390.8 1734.7 390.8 1735.5 390.8 1736.2 390.8 1737 390.8 1737.7 390.8 1738.5 390.8 1739.2 390.8 1740 390.8 1740.7 390.8 1741.5 390.8 1742.2 390.8 1743 390.8 1743.7 390.8 1744.5 390.8 1745.2 390.8 1746 390.8 1746.7 390.8 1747.5 390.8 1748.2 390.8 1749 390.8 1749.7 390.8 1750.5 390.8 1751.2 390.8 1752 390.8 1752.7 390.8 1753.5 390.8 1754.2 390.8 1755 390.8 1755.7 390.8 1756.5 390.8 1757.2 390.8 1758 390.8 1758.7 390.8 1759.5 390.8 1760.2 390.8 1761 390.8 1761.7 390.8 1762.5 390.8 1763.2 390.8 1764 390.8 1764.7 390.8 1765.5 390.8 1766.2 390.8 1767 390.8 1767.7 390.8 1768.5 390.8 1769.2 390.8 1770 390.8 1770.7 390.8 1771.5 390.8 1772.2 390.8 1773 390.8 1773.7 390.8 1774.5 390.8 1775.2 390.8 1776 390.8 1776.7 390.8 1777.5 390.8 1778.2 390.8 1779 390.8 1779.7 390.8 1780.5 390.8 1781.2 390.8 1782 390.8 1782.7 390.8 1783.5 390.8 1784.2 390.8 1785 390.8 1785.7 390.8 1786.5 390.8 1787.2 390.8 1788 390.8 1788.7 390.8 1789.5 390.8 1790.2 390.8 1791 390.8 1791.7 390.8 1792.5 390.8 1793.2 390.8 1794 390.8 1794.7 390.8 1795.5 390.8 1796.2 390.8 1797 390.8 1797.7 390.8L1798.2 390.8L1643.2 390.8Z" fill="rgba(180,120,120,0.35)" stroke="none"/>
<path d="M1643.2 390.8 1644 390.8 1644.7 390.8 1645.5 390.8 1646.2 390.8 1647 390.8 1647.7 390.8 1648.5 390.8 1649.2 390.8 1650 390.8 1650.7 390.8 1651.5 390.8 1652.2 390.8 1653 390.8 1653.7 390.8 1654.5 390.8 1655.2 390.7 1656 390.7 1656.7 390.7 1657.5 390.7 1658.2 390.6 1659 390.5 1659.7 390.4 1660.5 390.3 1661.2 390.1 1662 389.9 1662.7 389.6 1663.5 389.2 1664.2 388.7 1665 388.1 1665.7 387.4 1666.5 386.1 1667.2 385.2 1668 384.3 1668.7 382.3 1669.5 380.7 1670.2 378.6 1671 375 1671.7 371.6 1672.5 368.7 1673.2 364.5 1674 360.9 1674.7 356 1675.5 350 1676.2 344.5 1677 336.4 1677.7 331 1678.5 322.9 1679.2 316.6 1680 308.4 1680.7 300.1 1681.5 291.8 1682.2 284.9 1683 276.6 1683.7 269.5 1684.5 264.8 1685.2 257.7 1686 254.7 1686.7 248.6 1687.5 245.1 1688.2 242.8 1689 242.4 1689.7 244.1 1690.5 244.2 1691.2 248 1692 251.9 1692.7 259 1693.5 264.5 1694.2 269.9 1695 274.4 1695.7 281.7 1696.5 289.7 1697.2 298.6 1698 307.4 1698.7 314.6 1699.5 320.6 1700.2 329.9 1701 335.2 1701.7 342.4 1702.5 348.7 1703.2 354.9 1704 360 1704.7 364.6 1705.5 367.7 1706.2 372.5 1707 375.2 1707.7 377.6 1708.5 380.3 1709.2 382.4 1710 383.3 1710.7 385.3 1711.5 386 1712.2 387.2 1713 388 1713.7 388.6 1714.5 389.1 1715.2 389.5 1716 389.8 1716.7 390.1 1717.5 390.3 1718.2 390.4 1719 390.5 1719.7 390.6 1720.5 390.6 1721.2 390.7 1722 390.7 1722.7 390.7 1723.5 390.8 1724.2 390.8 1725 390.8 1725.7 390.8 1726.5 390.8 1727.2 390.8 1728 390.8 1728.7 390.8 1729.5 390.8 1730.2 390.8 1731 390.8 1731.7 390.8 1732.5 390.8 1733.2 390.8 1734 390.8 1734.7 390.8 1735.5 390.8 1736.2 390.8 1737 390.8 1737.7 390.8 1738.5 390.8 1739.2 390.8 1740 390.8 1740.7 390.8 1741.5 390.8 1742.2 390.8 1743 390.8 1743.7 390.8 1744.5 390.8 1745.2 390.8 1746 390.8 1746.7 390.8 1747.5 390.8 1748.2 390.8 1749 390.8 1749.7 390.8 1750.5 390.8 1751.2 390.8 1752 390.8 1752.7 390.8 1753.5 390.8 1754.2 390.8 1755 390.8 1755.7 390.8 1756.5 390.8 1757.2 390.8 1758 390.8 1758.7 390.8 1759.5 390.8 1760.2 390.8 1761 390.8 1761.7 390.8 1762.5 390.8 1763.2 390.8 1764 390.8 1764.7 390.8 1765.5 390.8 1766.2 390.8 1767 390.8 1767.7 390.8 1768.5 390.8 1769.2 390.8 1770 390.8 1770.7 390.8 1771.5 390.8 1772.2 390.8 1773 390.8 1773.7 390.8 1774.5 390.8 1775.2 390.8 1776 390.8 1776.7 390.8 1777.5 390.8 1778.2 390.8 1779 390.8 1779.7 390.8 1780.5 390.8 1781.2 390.8 1782 390.8 1782.7 390.8 1783.5 390.8 1784.2 390.8 1785 390.8 1785.7 390.8 1786.5 390.8 1787.2 390.8 1788 390.8 1788.7 390.8 1789.5 390.8 1790.2 390.8 1791 390.8 1791.7 390.8 1792.5 390.8 1793.2 390.8 1794 390.8 1794.7 390.8 1795.5 390.8 1796.2 390.8 1797 390.8 1797.7 390.8" fill="none" stroke="#707070" stroke-width="1.7" stroke-linejoin="round"/>
<path d="M1643.2 390.3 1644 390.2 1644.7 390.1 1645.5 390 1646.2 389.8 1647 389.6 1647.7 389.4 1648.5 389.1 1649.2 388.8 1650 388.5 1650.7 388.1 1651.5 387.6 1652.2 386.9 1653 386.3 1653.7 385.5 1654.5 384.5 1655.2 383.7 1656 383.2 1656.7 382 1657.5 380.5 1658.2 379.1 1659 376.8 1659.7 375.2 1660.5 373.6 1661.2 371.7 1662 369.5 1662.7 366.4 1663.5 363 1664.2 361.4 1665 357.7 1665.7 354.5 1666.5 350.3 1667.2 347.2 1668 343.6 1668.7 337.9 1669.5 334.4 1670.2 328.9 1671 323.4 1671.7 319.4 1672.5 313.4 1673.2 308.6 1674 305.8 1674.7 300 1675.5 293.5 1676.2 289 1677 285.7 1677.7 277.9 1678.5 273.8 1679.2 270.1 1680 265.5 1680.7 262.8 1681.5 257.7 1682.2 256 1683 250.9 1683.7 247.3 1684.5 248.1 1685.2 246.3 1686 243.8 1686.7 241.9 1687.5 244.6 1688.2 243.9 1689 243.8 1689.7 246.9 1690.5 249 1691.2 248.4 1692 251.5 1692.7 254.7 1693.5 258.2 1694.2 263.6 1695 266.2 1695.7 270.5 1696.5 274.9 1697.2 280.9 1698 286.1 1698.7 289.6 1699.5 294.1 1700.2 299.4 1701 303.7 1701.7 310.6 1702.5 315.6 1703.2 320.8 1704 325.1 1704.7 329.5 1705.5 333.6 1706.2 339.9 1707 343 1707.7 346.6 1708.5 350.5 1709.2 354.8 1710 358.8 1710.7 361.5 1711.5 364 1712.2 366.4 1713 369.8 1713.7 372 1714.5 374 1715.2 376.4 1716 377 1716.7 379.3 1717.5 380.7 1718.2 381.4 1719 382.8 1719.7 384.3 1720.5 384.6 1721.2 385.5 1722 386.4 1722.7 387.1 1723.5 387.4 1724.2 388.1 1725 388.5 1725.7 388.9 1726.5 389.2 1727.2 389.4 1728 389.7 1728.7 389.9 1729.5 390 1730.2 390.1 1731 390.3 1731.7 390.4 1732.5 390.4 1733.2 390.5 1734 390.6 1734.7 390.6 1735.5 390.6 1736.2 390.7 1737 390.7 1737.7 390.7 1738.5 390.7 1739.2 390.7 1740 390.8 1740.7 390.8 1741.5 390.8 1742.2 390.8 1743 390.8 1743.7 390.8 1744.5 390.8 1745.2 390.8 1746 390.8 1746.7 390.8 1747.5 390.8 1748.2 390.8 1749 390.8 1749.7 390.8 1750.5 390.8 1751.2 390.8 1752 390.8 1752.7 390.8 1753.5 390.8 1754.2 390.8 1755 390.8 1755.7 390.8 1756.5 390.8 1757.2 390.8 1758 390.8 1758.7 390.8 1759.5 390.8 1760.2 390.8 1761 390.8 1761.7 390.8 1762.5 390.8 1763.2 390.8 1764 390.8 1764.7 390.8 1765.5 390.8 1766.2 390.8 1767 390.8 1767.7 390.8 1768.5 390.8 1769.2 390.8 1770 390.8 1770.7 390.8 1771.5 390.8 1772.2 390.8 1773 390.8 1773.7 390.8 1774.5 390.8 1775.2 390.8 1776 390.8 1776.7 390.8 1777.5 390.8 1778.2 390.8 1779 390.8 1779.7 390.8 1780.5 390.8 1781.2 390.8 1782 390.8 1782.7 390.8 1783.5 390.8 1784.2 390.8 1785 390.8 1785.7 390.8 1786.5 390.8 1787.2 390.8 1788 390.8 1788.7 390.8 1789.5 390.8 1790.2 390.8 1791 390.8 1791.7 390.8 1792.5 390.8 1793.2 390.8 1794 390.8 1794.7 390.8 1795.5 390.8 1796.2 390.8 1797 390.8 1797.7 390.8" fill="none" stroke="#ee2a30" stroke-width="2.2" stroke-linejoin="round"/>
<line x1="1715" y1="236.4" x2="1715" y2="390.6" stroke="#505050" stroke-width="2.6" stroke-dasharray="2.2 1.8"/>
<rect x="1642.4" y="234.4" width="156.6" height="157.2" fill="none" stroke="#2a2a2a" stroke-width="1.5"/>
<text transform="translate(1725.5 385.3) scale(0.931 1)" font-size="22.8" font-weight="bold">0.62%</text>
<path d="M1825.4 390.8 1826.1 390.8 1826.9 390.8 1827.6 390.8 1828.4 390.8 1829.1 390.8 1829.9 390.8 1830.6 390.8 1831.4 390.8 1832.1 390.8 1832.9 390.8 1833.6 390.8 1834.4 390.8 1835.1 390.8 1835.9 390.8 1836.6 390.8 1837.4 390.8 1838.1 390.8 1838.9 390.8 1839.6 390.8 1840.4 390.8 1841.1 390.8 1841.9 390.8 1842.6 390.8 1843.4 390.7 1844.1 390.7 1844.9 390.7 1845.6 390.6 1846.4 390.5 1847.1 390.4 1847.9 390.2 1848.6 390 1849.4 389.7 1850.1 389.3 1850.9 388.7 1851.6 388 1852.4 387.4 1853.1 386.2 1853.9 385 1854.6 383 1855.4 380.8 1856.1 378.5 1856.9 375.4 1857.6 371.7 1858.4 367.9 1859.1 363 1859.9 357.2 1860.6 351.3 1861.4 343.9 1862.1 336.6 1862.9 328.9 1863.6 320.8 1864.4 312.9 1865.1 302.8 1865.9 293.9 1866.6 286.4 1867.4 278.4 1868.1 269.8 1868.9 263 1869.6 256.8 1870.4 251.7 1871.1 247.9 1871.9 246.6 1872.6 243.9 1873.4 242.7 1874.1 246.8 1874.9 246.7 1875.6 249.8 1876.4 252.5 1877.1 259.3 1877.9 263.3 1878.6 270.6 1879.4 276.5 1880.1 281.5 1880.9 289.6 1881.6 296.7 1882.4 301.8 1883.1 309.4 1883.9 316.2 1884.6 323.3 1885.4 329 1886.1 335.8 1886.9 342.2 1887.6 346.6 1888.4 352.6 1889.1 357.8 1889.9 362 1890.6 365.1 1891.4 368.9 1892.1 372.3 1892.9 375 1893.6 377.8 1894.4 380 1895.1 382 1895.9 383 1896.6 384.5 1897.4 385.4 1898.1 386.5 1898.9 387.5 1899.6 388.1 1900.4 388.6 1901.1 389.1 1901.9 389.5 1902.6 389.7 1903.4 390 1904.1 390.2 1904.9 390.3 1905.6 390.4 1906.4 390.5 1907.1 390.6 1907.9 390.6 1908.6 390.7 1909.4 390.7 1910.1 390.7 1910.9 390.8 1911.6 390.8 1912.4 390.8 1913.1 390.8 1913.9 390.8 1914.6 390.8 1915.4 390.8 1916.1 390.8 1916.9 390.8 1917.6 390.8 1918.4 390.8 1919.1 390.8 1919.9 390.8 1920.6 390.8 1921.4 390.8 1922.1 390.8 1922.9 390.8 1923.6 390.8 1924.4 390.8 1925.1 390.8 1925.9 390.8 1926.6 390.8 1927.4 390.8 1928.1 390.8 1928.9 390.8 1929.6 390.8 1930.4 390.8 1931.1 390.8 1931.9 390.8 1932.6 390.8 1933.4 390.8 1934.1 390.8 1934.9 390.8 1935.6 390.8 1936.4 390.8 1937.1 390.8 1937.9 390.8 1938.6 390.8 1939.4 390.8 1940.1 390.8 1940.9 390.8 1941.6 390.8 1942.4 390.8 1943.1 390.8 1943.9 390.8 1944.6 390.8 1945.4 390.8 1946.1 390.8 1946.9 390.8 1947.6 390.8 1948.4 390.8 1949.1 390.8 1949.9 390.8 1950.6 390.8 1951.4 390.8 1952.1 390.8 1952.9 390.8 1953.6 390.8 1954.4 390.8 1955.1 390.8 1955.9 390.8 1956.6 390.8 1957.4 390.8 1958.1 390.8 1958.9 390.8 1959.6 390.8 1960.4 390.8 1961.1 390.8 1961.9 390.8 1962.6 390.8 1963.4 390.8 1964.1 390.8 1964.9 390.8 1965.6 390.8 1966.4 390.8 1967.1 390.8 1967.9 390.8 1968.6 390.8 1969.4 390.8 1970.1 390.8 1970.9 390.8 1971.6 390.8 1972.4 390.8 1973.1 390.8 1973.9 390.8 1974.6 390.8 1975.4 390.8 1976.1 390.8 1976.9 390.8 1977.6 390.8 1978.4 390.8 1979.1 390.8 1979.9 390.8L1980.4 390.8L1825.4 390.8Z" fill="#e8e8e8" stroke="none"/>
<path d="M1825.4 390.8 1826.1 390.8 1826.9 390.8 1827.6 390.8 1828.4 390.8 1829.1 390.8 1829.9 390.8 1830.6 390.8 1831.4 390.8 1832.1 390.8 1832.9 390.8 1833.6 390.8 1834.4 390.8 1835.1 390.8 1835.9 390.8 1836.6 390.8 1837.4 390.8 1838.1 390.8 1838.9 390.8 1839.6 390.8 1840.4 390.8 1841.1 390.8 1841.9 390.8 1842.6 390.8 1843.4 390.8 1844.1 390.8 1844.9 390.8 1845.6 390.8 1846.4 390.8 1847.1 390.8 1847.9 390.8 1848.6 390.8 1849.4 390.8 1850.1 390.7 1850.9 390.7 1851.6 390.5 1852.4 390.2 1853.1 389.5 1853.9 388.3 1854.6 386.5 1855.4 382.4 1856.1 377.2 1856.9 370.3 1857.6 358.8 1858.4 345.5 1859.1 327.2 1859.9 308.2 1860.6 290.1 1861.4 270.8 1862.1 256 1862.9 247 1863.6 243.4 1864.4 246.8 1865.1 255.1 1865.9 266.4 1866.6 283.1 1867.4 302.5 1868.1 319.1 1868.9 334 1869.6 348.7 1870.4 360.9 1871.1 370.1 1871.9 377 1872.6 382.4 1873.4 385.6 1874.1 387.8 1874.9 389 1875.6 389.8 1876.4 390.3 1877.1 390.5 1877.9 390.7 1878.6 390.7 1879.4 390.8 1880.1 390.8 1880.9 390.8 1881.6 390.8 1882.4 390.8 1883.1 390.8 1883.9 390.8 1884.6 390.8 1885.4 390.8 1886.1 390.8 1886.9 390.8 1887.6 390.8 1888.4 390.8 1889.1 390.8 1889.9 390.8 1890.6 390.8 1891.4 390.8 1892.1 390.8 1892.9 390.8 1893.6 390.8 1894.4 390.8 1895.1 390.8 1895.9 390.8 1896.6 390.8 1897.4 390.8 1898.1 390.8 1898.9 390.8 1899.6 390.8 1900.4 390.8 1901.1 390.8 1901.9 390.8 1902.6 390.8 1903.4 390.8 1904.1 390.8 1904.9 390.8 1905.6 390.8 1906.4 390.8 1907.1 390.8 1907.9 390.8 1908.6 390.8 1909.4 390.8 1910.1 390.8 1910.9 390.8 1911.6 390.8 1912.4 390.8 1913.1 390.8 1913.9 390.8 1914.6 390.8 1915.4 390.8 1916.1 390.8 1916.9 390.8 1917.6 390.8 1918.4 390.8 1919.1 390.8 1919.9 390.8 1920.6 390.8 1921.4 390.8 1922.1 390.8 1922.9 390.8 1923.6 390.8 1924.4 390.8 1925.1 390.8 1925.9 390.8 1926.6 390.8 1927.4 390.8 1928.1 390.8 1928.9 390.8 1929.6 390.8 1930.4 390.8 1931.1 390.8 1931.9 390.8 1932.6 390.8 1933.4 390.8 1934.1 390.8 1934.9 390.8 1935.6 390.8 1936.4 390.8 1937.1 390.8 1937.9 390.8 1938.6 390.8 1939.4 390.8 1940.1 390.8 1940.9 390.8 1941.6 390.8 1942.4 390.8 1943.1 390.8 1943.9 390.8 1944.6 390.8 1945.4 390.8 1946.1 390.8 1946.9 390.8 1947.6 390.8 1948.4 390.8 1949.1 390.8 1949.9 390.8 1950.6 390.8 1951.4 390.8 1952.1 390.8 1952.9 390.8 1953.6 390.8 1954.4 390.8 1955.1 390.8 1955.9 390.8 1956.6 390.8 1957.4 390.8 1958.1 390.8 1958.9 390.8 1959.6 390.8 1960.4 390.8 1961.1 390.8 1961.9 390.8 1962.6 390.8 1963.4 390.8 1964.1 390.8 1964.9 390.8 1965.6 390.8 1966.4 390.8 1967.1 390.8 1967.9 390.8 1968.6 390.8 1969.4 390.8 1970.1 390.8 1970.9 390.8 1971.6 390.8 1972.4 390.8 1973.1 390.8 1973.9 390.8 1974.6 390.8 1975.4 390.8 1976.1 390.8 1976.9 390.8 1977.6 390.8 1978.4 390.8 1979.1 390.8 1979.9 390.8L1980.4 390.8L1825.4 390.8Z" fill="rgba(240,40,48,0.42)" stroke="none"/>
<path d="M1825.4 390.8 1826.1 390.8 1826.9 390.8 1827.6 390.8 1828.4 390.8 1829.1 390.8 1829.9 390.8 1830.6 390.8 1831.4 390.8 1832.1 390.8 1832.9 390.8 1833.6 390.8 1834.4 390.8 1835.1 390.8 1835.9 390.8 1836.6 390.8 1837.4 390.8 1838.1 390.8 1838.9 390.8 1839.6 390.8 1840.4 390.8 1841.1 390.8 1841.9 390.8 1842.6 390.8 1843.4 390.7 1844.1 390.7 1844.9 390.7 1845.6 390.6 1846.4 390.5 1847.1 390.4 1847.9 390.2 1848.6 390 1849.4 389.7 1850.1 389.3 1850.9 388.7 1851.6 388 1852.4 387.4 1853.1 386.2 1853.9 385 1854.6 383 1855.4 380.8 1856.1 378.5 1856.9 375.4 1857.6 371.7 1858.4 367.9 1859.1 363 1859.9 357.2 1860.6 351.3 1861.4 343.9 1862.1 336.6 1862.9 328.9 1863.6 320.8 1864.4 312.9 1865.1 302.8 1865.9 293.9 1866.6 286.4 1867.4 278.4 1868.1 269.8 1868.9 263 1869.6 256.8 1870.4 251.7 1871.1 247.9 1871.9 246.6 1872.6 243.9 1873.4 242.7 1874.1 246.8 1874.9 246.7 1875.6 249.8 1876.4 252.5 1877.1 259.3 1877.9 263.3 1878.6 270.6 1879.4 276.5 1880.1 281.5 1880.9 289.6 1881.6 296.7 1882.4 301.8 1883.1 309.4 1883.9 316.2 1884.6 323.3 1885.4 329 1886.1 335.8 1886.9 342.2 1887.6 346.6 1888.4 352.6 1889.1 357.8 1889.9 362 1890.6 365.1 1891.4 368.9 1892.1 372.3 1892.9 375 1893.6 377.8 1894.4 380 1895.1 382 1895.9 383 1896.6 384.5 1897.4 385.4 1898.1 386.5 1898.9 387.5 1899.6 388.1 1900.4 388.6 1901.1 389.1 1901.9 389.5 1902.6 389.7 1903.4 390 1904.1 390.2 1904.9 390.3 1905.6 390.4 1906.4 390.5 1907.1 390.6 1907.9 390.6 1908.6 390.7 1909.4 390.7 1910.1 390.7 1910.9 390.8 1911.6 390.8 1912.4 390.8 1913.1 390.8 1913.9 390.8 1914.6 390.8 1915.4 390.8 1916.1 390.8 1916.9 390.8 1917.6 390.8 1918.4 390.8 1919.1 390.8 1919.9 390.8 1920.6 390.8 1921.4 390.8 1922.1 390.8 1922.9 390.8 1923.6 390.8 1924.4 390.8 1925.1 390.8 1925.9 390.8 1926.6 390.8 1927.4 390.8 1928.1 390.8 1928.9 390.8 1929.6 390.8 1930.4 390.8 1931.1 390.8 1931.9 390.8 1932.6 390.8 1933.4 390.8 1934.1 390.8 1934.9 390.8 1935.6 390.8 1936.4 390.8 1937.1 390.8 1937.9 390.8 1938.6 390.8 1939.4 390.8 1940.1 390.8 1940.9 390.8 1941.6 390.8 1942.4 390.8 1943.1 390.8 1943.9 390.8 1944.6 390.8 1945.4 390.8 1946.1 390.8 1946.9 390.8 1947.6 390.8 1948.4 390.8 1949.1 390.8 1949.9 390.8 1950.6 390.8 1951.4 390.8 1952.1 390.8 1952.9 390.8 1953.6 390.8 1954.4 390.8 1955.1 390.8 1955.9 390.8 1956.6 390.8 1957.4 390.8 1958.1 390.8 1958.9 390.8 1959.6 390.8 1960.4 390.8 1961.1 390.8 1961.9 390.8 1962.6 390.8 1963.4 390.8 1964.1 390.8 1964.9 390.8 1965.6 390.8 1966.4 390.8 1967.1 390.8 1967.9 390.8 1968.6 390.8 1969.4 390.8 1970.1 390.8 1970.9 390.8 1971.6 390.8 1972.4 390.8 1973.1 390.8 1973.9 390.8 1974.6 390.8 1975.4 390.8 1976.1 390.8 1976.9 390.8 1977.6 390.8 1978.4 390.8 1979.1 390.8 1979.9 390.8" fill="none" stroke="#707070" stroke-width="1.7" stroke-linejoin="round"/>
<path d="M1825.4 390.8 1826.1 390.8 1826.9 390.8 1827.6 390.8 1828.4 390.8 1829.1 390.8 1829.9 390.8 1830.6 390.8 1831.4 390.8 1832.1 390.8 1832.9 390.8 1833.6 390.8 1834.4 390.8 1835.1 390.8 1835.9 390.8 1836.6 390.8 1837.4 390.8 1838.1 390.8 1838.9 390.8 1839.6 390.8 1840.4 390.8 1841.1 390.8 1841.9 390.8 1842.6 390.8 1843.4 390.8 1844.1 390.8 1844.9 390.8 1845.6 390.8 1846.4 390.8 1847.1 390.8 1847.9 390.8 1848.6 390.8 1849.4 390.8 1850.1 390.7 1850.9 390.7 1851.6 390.5 1852.4 390.2 1853.1 389.5 1853.9 388.3 1854.6 386.5 1855.4 382.4 1856.1 377.2 1856.9 370.3 1857.6 358.8 1858.4 345.5 1859.1 327.2 1859.9 308.2 1860.6 290.1 1861.4 270.8 1862.1 256 1862.9 247 1863.6 243.4 1864.4 246.8 1865.1 255.1 1865.9 266.4 1866.6 283.1 1867.4 302.5 1868.1 319.1 1868.9 334 1869.6 348.7 1870.4 360.9 1871.1 370.1 1871.9 377 1872.6 382.4 1873.4 385.6 1874.1 387.8 1874.9 389 1875.6 389.8 1876.4 390.3 1877.1 390.5 1877.9 390.7 1878.6 390.7 1879.4 390.8 1880.1 390.8 1880.9 390.8 1881.6 390.8 1882.4 390.8 1883.1 390.8 1883.9 390.8 1884.6 390.8 1885.4 390.8 1886.1 390.8 1886.9 390.8 1887.6 390.8 1888.4 390.8 1889.1 390.8 1889.9 390.8 1890.6 390.8 1891.4 390.8 1892.1 390.8 1892.9 390.8 1893.6 390.8 1894.4 390.8 1895.1 390.8 1895.9 390.8 1896.6 390.8 1897.4 390.8 1898.1 390.8 1898.9 390.8 1899.6 390.8 1900.4 390.8 1901.1 390.8 1901.9 390.8 1902.6 390.8 1903.4 390.8 1904.1 390.8 1904.9 390.8 1905.6 390.8 1906.4 390.8 1907.1 390.8 1907.9 390.8 1908.6 390.8 1909.4 390.8 1910.1 390.8 1910.9 390.8 1911.6 390.8 1912.4 390.8 1913.1 390.8 1913.9 390.8 1914.6 390.8 1915.4 390.8 1916.1 390.8 1916.9 390.8 1917.6 390.8 1918.4 390.8 1919.1 390.8 1919.9 390.8 1920.6 390.8 1921.4 390.8 1922.1 390.8 1922.9 390.8 1923.6 390.8 1924.4 390.8 1925.1 390.8 1925.9 390.8 1926.6 390.8 1927.4 390.8 1928.1 390.8 1928.9 390.8 1929.6 390.8 1930.4 390.8 1931.1 390.8 1931.9 390.8 1932.6 390.8 1933.4 390.8 1934.1 390.8 1934.9 390.8 1935.6 390.8 1936.4 390.8 1937.1 390.8 1937.9 390.8 1938.6 390.8 1939.4 390.8 1940.1 390.8 1940.9 390.8 1941.6 390.8 1942.4 390.8 1943.1 390.8 1943.9 390.8 1944.6 390.8 1945.4 390.8 1946.1 390.8 1946.9 390.8 1947.6 390.8 1948.4 390.8 1949.1 390.8 1949.9 390.8 1950.6 390.8 1951.4 390.8 1952.1 390.8 1952.9 390.8 1953.6 390.8 1954.4 390.8 1955.1 390.8 1955.9 390.8 1956.6 390.8 1957.4 390.8 1958.1 390.8 1958.9 390.8 1959.6 390.8 1960.4 390.8 1961.1 390.8 1961.9 390.8 1962.6 390.8 1963.4 390.8 1964.1 390.8 1964.9 390.8 1965.6 390.8 1966.4 390.8 1967.1 390.8 1967.9 390.8 1968.6 390.8 1969.4 390.8 1970.1 390.8 1970.9 390.8 1971.6 390.8 1972.4 390.8 1973.1 390.8 1973.9 390.8 1974.6 390.8 1975.4 390.8 1976.1 390.8 1976.9 390.8 1977.6 390.8 1978.4 390.8 1979.1 390.8 1979.9 390.8" fill="none" stroke="#ee2a30" stroke-width="2.2" stroke-linejoin="round"/>
<line x1="1901" y1="236.4" x2="1901" y2="390.6" stroke="#505050" stroke-width="2.6" stroke-dasharray="2.2 1.8"/>
<rect x="1824.6" y="234.4" width="156.6" height="157.2" fill="none" stroke="#2a2a2a" stroke-width="1.5"/>
<text transform="translate(1903.9 385.3) scale(0.931 1)" font-size="22.8" font-weight="bold">0.002%</text>
<rect x="1289.2" y="411" width="24.8" height="24.6" fill="#d8e7f7" stroke="#5aa2e6" stroke-width="1.6"/>
<rect x="1493.4" y="412" width="25.6" height="25.2" fill="#f8a7aa" stroke="#e62a30" stroke-width="1.8"/>
<rect x="1741" y="412.2" width="24.8" height="25" fill="#f4f4ee" stroke="#888" stroke-width="1.6"/>
<text x="1323" y="435.5" font-size="30.7">HLA<tspan dy="-12.5" font-size="20">+</tspan><tspan dy="12.5"> cells</tspan></text>
<text x="1526.6" y="435.5" font-size="30.7">HLA-I/II<tspan dy="-12.5" font-size="20">-</tspan><tspan dy="12.5"> cells</tspan></text>
<text x="1773.2" y="435.5" font-size="30.7">Isotype control</text>
<line x1="290" y1="675.1" x2="355.6" y2="672" stroke="#000" stroke-width="1.8"/>
<line x1="290" y1="708.9" x2="355.6" y2="730" stroke="#000" stroke-width="1.8"/>
<line x1="290" y1="715.6" x2="355.6" y2="715.6" stroke="#000" stroke-width="1.8"/>
<line x1="290" y1="719.8" x2="355.6" y2="738.5" stroke="#000" stroke-width="1.8"/>
<line x1="290" y1="764.5" x2="355.6" y2="765.9" stroke="#000" stroke-width="1.8"/>
<line x1="290" y1="768.7" x2="355.6" y2="844.1" stroke="#000" stroke-width="1.8"/>
<line x1="464" y1="686.8" x2="529.6" y2="679" stroke="#000" stroke-width="1.8"/>
<line x1="464" y1="854.6" x2="529.6" y2="851.4" stroke="#000" stroke-width="1.8"/>
<line x1="464" y1="856.7" x2="529.6" y2="853.2" stroke="#000" stroke-width="1.8"/>
<line x1="464" y1="908.4" x2="529.6" y2="906.3" stroke="#000" stroke-width="1.8"/>
<line x1="464" y1="909.9" x2="529.6" y2="914.8" stroke="#000" stroke-width="1.8"/>
<line x1="464" y1="923.2" x2="529.6" y2="923.6" stroke="#000" stroke-width="1.8"/>
<line x1="639.4" y1="773.3" x2="705" y2="725.5" stroke="#000" stroke-width="1.8"/>
<line x1="639.4" y1="778.2" x2="705" y2="787.7" stroke="#000" stroke-width="1.8"/>
<line x1="639.4" y1="783.9" x2="705" y2="782.1" stroke="#000" stroke-width="1.8"/>
<line x1="639.4" y1="866.6" x2="705" y2="817" stroke="#000" stroke-width="1.8"/>
<line x1="639.4" y1="912.3" x2="705" y2="893" stroke="#000" stroke-width="1.8"/>
<line x1="639.4" y1="926" x2="705" y2="932" stroke="#000" stroke-width="1.8"/>
<rect x="282.5" y="667.6" width="15" height="15" fill="#000"/>
<rect x="282.5" y="701.4" width="15" height="15" fill="#000"/>
<rect x="282.5" y="708.1" width="15" height="15" fill="#000"/>
<rect x="282.5" y="712.3" width="15" height="15" fill="#000"/>
<rect x="282.5" y="757" width="15" height="15" fill="#000"/>
<rect x="282.5" y="761.2" width="15" height="15" fill="#000"/>
<rect x="349.1" y="665.5" width="13" height="13" fill="none" stroke="#000" stroke-width="1.8"/>
<rect x="349.1" y="723.5" width="13" height="13" fill="none" stroke="#000" stroke-width="1.8"/>
<rect x="349.1" y="709.1" width="13" height="13" fill="none" stroke="#000" stroke-width="1.8"/>
<rect x="349.1" y="732" width="13" height="13" fill="none" stroke="#000" stroke-width="1.8"/>
<rect x="349.1" y="759.4" width="13" height="13" fill="none" stroke="#000" stroke-width="1.8"/>
<rect x="349.1" y="837.6" width="13" height="13" fill="none" stroke="#000" stroke-width="1.8"/>
<rect x="456.5" y="679.3" width="15" height="15" fill="#000"/>
<rect x="456.5" y="847.1" width="15" height="15" fill="#000"/>
<rect x="456.5" y="849.2" width="15" height="15" fill="#000"/>
<rect x="456.5" y="900.9" width="15" height="15" fill="#000"/>
<rect x="456.5" y="902.4" width="15" height="15" fill="#000"/>
<rect x="456.5" y="915.7" width="15" height="15" fill="#000"/>
<rect x="523.1" y="672.5" width="13" height="13" fill="none" stroke="#000" stroke-width="1.8"/>
<rect x="523.1" y="844.9" width="13" height="13" fill="none" stroke="#000" stroke-width="1.8"/>
<rect x="523.1" y="846.7" width="13" height="13" fill="none" stroke="#000" stroke-width="1.8"/>
<rect x="523.1" y="899.8" width="13" height="13" fill="none" stroke="#000" stroke-width="1.8"/>
<rect x="523.1" y="908.3" width="13" height="13" fill="none" stroke="#000" stroke-width="1.8"/>
<rect x="523.1" y="917.1" width="13" height="13" fill="none" stroke="#000" stroke-width="1.8"/>
<rect x="631.9" y="765.8" width="15" height="15" fill="#000"/>
<rect x="631.9" y="770.7" width="15" height="15" fill="#000"/>
<rect x="631.9" y="776.4" width="15" height="15" fill="#000"/>
<rect x="631.9" y="859.1" width="15" height="15" fill="#000"/>
<rect x="631.9" y="904.8" width="15" height="15" fill="#000"/>
<rect x="631.9" y="918.5" width="15" height="15" fill="#000"/>
<rect x="698.5" y="719" width="13" height="13" fill="none" stroke="#000" stroke-width="1.8"/>
<rect x="698.5" y="781.2" width="13" height="13" fill="none" stroke="#000" stroke-width="1.8"/>
<rect x="698.5" y="775.6" width="13" height="13" fill="none" stroke="#000" stroke-width="1.8"/>
<rect x="698.5" y="810.5" width="13" height="13" fill="none" stroke="#000" stroke-width="1.8"/>
<rect x="698.5" y="886.5" width="13" height="13" fill="none" stroke="#000" stroke-width="1.8"/>
<rect x="698.5" y="925.5" width="13" height="13" fill="none" stroke="#000" stroke-width="1.8"/>
<path d="M235.3 612.5V964.4H761" fill="none" stroke="#000" stroke-width="2.2"/>
<line x1="226.3" y1="964.4" x2="235.3" y2="964.4" stroke="#000" stroke-width="2.2"/>
<text x="224.3" y="973.4" font-size="25.5" font-weight="bold" text-anchor="end">0</text>
<line x1="226.3" y1="894" x2="235.3" y2="894" stroke="#000" stroke-width="2.2"/>
<text x="224.3" y="903" font-size="25.5" font-weight="bold" text-anchor="end">20</text>
<line x1="226.3" y1="823.6" x2="235.3" y2="823.6" stroke="#000" stroke-width="2.2"/>
<text x="224.3" y="832.6" font-size="25.5" font-weight="bold" text-anchor="end">40</text>
<line x1="226.3" y1="753.3" x2="235.3" y2="753.3" stroke="#000" stroke-width="2.2"/>
<text x="224.3" y="762.3" font-size="25.5" font-weight="bold" text-anchor="end">60</text>
<line x1="226.3" y1="682.9" x2="235.3" y2="682.9" stroke="#000" stroke-width="2.2"/>
<text x="224.3" y="691.9" font-size="25.5" font-weight="bold" text-anchor="end">80</text>
<line x1="226.3" y1="612.5" x2="235.3" y2="612.5" stroke="#000" stroke-width="2.2"/>
<text x="224.3" y="621.5" font-size="25.5" font-weight="bold" text-anchor="end">100</text>
<line x1="323.6" y1="964.4" x2="323.6" y2="974.4" stroke="#000" stroke-width="2.2"/>
<line x1="497.6" y1="964.4" x2="497.6" y2="974.4" stroke="#000" stroke-width="2.2"/>
<line x1="673" y1="964.4" x2="673" y2="974.4" stroke="#000" stroke-width="2.2"/>
<text transform="translate(300.2 602.8) scale(1.013 1)" font-size="30.2">n.s</text>
<text transform="translate(475.5 602.8) scale(1.002 1)" font-size="30.2">n.s</text>
<text transform="translate(650.7 602.8) scale(1.002 1)" font-size="30.2">n.s</text>
<text transform="translate(279.5 1016.5) scale(1.031 1)" font-size="29.5">TNF-α</text>
<text transform="translate(453.4 1016.5) scale(1.047 1)" font-size="29.5">IFN-γ</text>
<text transform="translate(620.1 1016.5) scale(1.008 1)" font-size="29.5">CD107a</text>
<text transform="translate(176.2 872.3) rotate(-90) scale(1.000 1)" font-size="30.2" font-weight="bold">% of T cells</text>
<line x1="1075.5" y1="769.4" x2="1140.5" y2="834.2" stroke="#000" stroke-width="1.8"/>
<line x1="1075.5" y1="817.2" x2="1140.5" y2="813.3" stroke="#000" stroke-width="1.8"/>
<line x1="1075.5" y1="840.3" x2="1140.5" y2="771.5" stroke="#000" stroke-width="1.8"/>
<line x1="1249.6" y1="882.9" x2="1314.6" y2="929.1" stroke="#000" stroke-width="1.8"/>
<line x1="1249.6" y1="949.5" x2="1314.6" y2="939.5" stroke="#000" stroke-width="1.8"/>
<line x1="1249.6" y1="949.5" x2="1314.6" y2="954.3" stroke="#000" stroke-width="1.8"/>
<line x1="1423.6" y1="682.3" x2="1488.6" y2="797.7" stroke="#000" stroke-width="1.8"/>
<line x1="1423.6" y1="777.2" x2="1488.6" y2="748.9" stroke="#000" stroke-width="1.8"/>
<line x1="1423.6" y1="802.4" x2="1488.6" y2="765" stroke="#000" stroke-width="1.8"/>
<rect x="1068" y="761.9" width="15" height="15" fill="#000"/>
<rect x="1068" y="809.7" width="15" height="15" fill="#000"/>
<rect x="1068" y="832.8" width="15" height="15" fill="#000"/>
<rect x="1134" y="827.7" width="13" height="13" fill="none" stroke="#000" stroke-width="1.8"/>
<rect x="1134" y="806.8" width="13" height="13" fill="none" stroke="#000" stroke-width="1.8"/>
<rect x="1134" y="765" width="13" height="13" fill="none" stroke="#000" stroke-width="1.8"/>
<rect x="1242.1" y="875.4" width="15" height="15" fill="#000"/>
<rect x="1242.1" y="942" width="15" height="15" fill="#000"/>
<rect x="1242.1" y="942" width="15" height="15" fill="#000"/>
<rect x="1308.1" y="922.6" width="13" height="13" fill="none" stroke="#000" stroke-width="1.8"/>
<rect x="1308.1" y="933" width="13" height="13" fill="none" stroke="#000" stroke-width="1.8"/>
<rect x="1308.1" y="947.8" width="13" height="13" fill="none" stroke="#000" stroke-width="1.8"/>
<rect x="1416.1" y="674.8" width="15" height="15" fill="#000"/>
<rect x="1416.1" y="769.7" width="15" height="15" fill="#000"/>
<rect x="1416.1" y="794.9" width="15" height="15" fill="#000"/>
<rect x="1482.1" y="791.2" width="13" height="13" fill="none" stroke="#000" stroke-width="1.8"/>
<rect x="1482.1" y="742.4" width="13" height="13" fill="none" stroke="#000" stroke-width="1.8"/>
<rect x="1482.1" y="758.5" width="13" height="13" fill="none" stroke="#000" stroke-width="1.8"/>
<path d="M1021.2 614.9V963H1543.5" fill="none" stroke="#000" stroke-width="2.2"/>
<line x1="1012.2" y1="963" x2="1021.2" y2="963" stroke="#000" stroke-width="2.2"/>
<text x="1010.2" y="972" font-size="25" font-weight="bold" text-anchor="end">0</text>
<line x1="1012.2" y1="876" x2="1021.2" y2="876" stroke="#000" stroke-width="2.2"/>
<text x="1010.2" y="885" font-size="25" font-weight="bold" text-anchor="end">20</text>
<line x1="1012.2" y1="789" x2="1021.2" y2="789" stroke="#000" stroke-width="2.2"/>
<text x="1010.2" y="798" font-size="25" font-weight="bold" text-anchor="end">40</text>
<line x1="1012.2" y1="701.9" x2="1021.2" y2="701.9" stroke="#000" stroke-width="2.2"/>
<text x="1010.2" y="710.9" font-size="25" font-weight="bold" text-anchor="end">60</text>
<line x1="1012.2" y1="614.9" x2="1021.2" y2="614.9" stroke="#000" stroke-width="2.2"/>
<text x="1010.2" y="623.9" font-size="25" font-weight="bold" text-anchor="end">80</text>
<line x1="1107.5" y1="963" x2="1107.5" y2="973" stroke="#000" stroke-width="2.2"/>
<line x1="1281.6" y1="963" x2="1281.6" y2="973" stroke="#000" stroke-width="2.2"/>
<line x1="1455.6" y1="963" x2="1455.6" y2="973" stroke="#000" stroke-width="2.2"/>
<text transform="translate(1081.2 598.2) scale(1.013 1)" font-size="30.2">n.s</text>
<text transform="translate(1256.4 598.2) scale(1.016 1)" font-size="30.2">n.s</text>
<text transform="translate(1431.6 598.2) scale(1.016 1)" font-size="30.2">n.s</text>
<text transform="translate(1064.8 1015.9) scale(1.032 1)" font-size="29.5">TNF-α</text>
<text transform="translate(1243.8 1015.9) scale(1.046 1)" font-size="29.5">IFN-γ</text>
<text transform="translate(1405 1015.9) scale(1.011 1)" font-size="29.5">CD107a</text>
<text transform="translate(962 866.4) rotate(-90) scale(0.994 1)" font-size="30" font-weight="bold">% of T cells</text>
<rect x="1614.8" y="638.2" width="15.5" height="15.5" fill="#000"/>
<rect x="1615.8" y="688.2" width="14.5" height="14.5" fill="none" stroke="#000" stroke-width="1.8"/>
<text x="1650.5" y="656.3" font-size="30.6">HLA<tspan dy="-12.5" font-size="20">+</tspan><tspan dy="12.5"> cells</tspan></text>
<text x="1650.5" y="707.4" font-size="30.6">HLA-I/II<tspan dy="-12.5" font-size="20">-</tspan><tspan dy="12.5"> cells</tspan></text>
<rect x="757" y="66" width="100" height="319.5" fill="#efefef"/>
<rect x="964.6" y="66" width="99" height="319.5" fill="#efefef"/>
<defs><pattern id="hatch" patternUnits="userSpaceOnUse" width="6.4" height="6.4"><rect width="6.4" height="6.4" fill="#fff"/><path d="M-1.6 1.6L1.6 -1.6M0 6.4L6.4 0M4.8 8L8 4.8" stroke="#444" stroke-width="1"/></pattern><pattern id="hatch2" patternUnits="userSpaceOnUse" width="3" height="3"><rect width="3" height="3" fill="#f4f4f4"/><path d="M-0.75 0.75L0.75 -0.75M0 3L3 0M2.25 3.75L3.75 2.25" stroke="#8a8a8a" stroke-width="0.9"/></pattern></defs>
<rect x="765.1" y="248.3" width="32.3" height="65.3" fill="url(#hatch)"/>
<rect x="765.1" y="73" width="32.3" height="175.3" fill="#fff"/>
<rect x="765.1" y="73" width="32.3" height="240.6" fill="none" stroke="#1565c8" stroke-width="2.7"/>
<line x1="765.1" y1="248.3" x2="797.4" y2="248.3" stroke="#1565c8" stroke-width="2.7"/>
<rect x="816.9" y="248.8" width="32.3" height="64.8" fill="url(#hatch)"/>
<rect x="816.9" y="80.5" width="32.3" height="168.3" fill="#fff"/>
<rect x="816.9" y="80.5" width="32.3" height="233.1" fill="none" stroke="#ea0a0f" stroke-width="2.7"/>
<line x1="816.9" y1="248.8" x2="849.1" y2="248.8" stroke="#ea0a0f" stroke-width="2.7"/>
<rect x="868.4" y="169.4" width="32.3" height="144.2" fill="url(#hatch)"/>
<rect x="868.4" y="73" width="32.3" height="96.4" fill="#fff"/>
<rect x="868.4" y="73" width="32.3" height="240.6" fill="none" stroke="#1565c8" stroke-width="2.7"/>
<line x1="868.4" y1="169.4" x2="900.6" y2="169.4" stroke="#1565c8" stroke-width="2.7"/>
<rect x="920.5" y="171" width="32.3" height="142.6" fill="url(#hatch)"/>
<rect x="920.5" y="73.3" width="32.3" height="97.7" fill="#fff"/>
<rect x="920.5" y="73.3" width="32.3" height="240.3" fill="none" stroke="#ea0a0f" stroke-width="2.7"/>
<line x1="920.5" y1="171" x2="952.8" y2="171" stroke="#ea0a0f" stroke-width="2.7"/>
<rect x="971.6" y="156.7" width="32.3" height="156.9" fill="url(#hatch)"/>
<rect x="971.6" y="75.2" width="32.3" height="81.5" fill="#fff"/>
<rect x="971.6" y="75.2" width="32.3" height="238.4" fill="none" stroke="#1565c8" stroke-width="2.7"/>
<line x1="971.6" y1="156.7" x2="1003.9" y2="156.7" stroke="#1565c8" stroke-width="2.7"/>
<rect x="1023.6" y="162" width="32.3" height="154" fill="url(#hatch)"/>
<rect x="1023.6" y="75.2" width="32.3" height="86.8" fill="#fff"/>
<rect x="1023.6" y="75.2" width="32.3" height="240.8" fill="none" stroke="#ea0a0f" stroke-width="2.7"/>
<line x1="1023.6" y1="162" x2="1056" y2="162" stroke="#ea0a0f" stroke-width="2.7"/>
<path d="M755.6 67V314.8H1067.3" fill="none" stroke="#000" stroke-width="2"/>
<line x1="746.5" y1="314.8" x2="755.6" y2="314.8" stroke="#000" stroke-width="2"/>
<text x="740.5" y="321.4" font-size="18.8" font-weight="bold" text-anchor="end">0</text>
<line x1="746.5" y1="265.3" x2="755.6" y2="265.3" stroke="#000" stroke-width="2"/>
<text x="740.5" y="271.9" font-size="18.8" font-weight="bold" text-anchor="end">20</text>
<line x1="746.5" y1="215.8" x2="755.6" y2="215.8" stroke="#000" stroke-width="2"/>
<text x="740.5" y="222.4" font-size="18.8" font-weight="bold" text-anchor="end">40</text>
<line x1="746.5" y1="166.3" x2="755.6" y2="166.3" stroke="#000" stroke-width="2"/>
<text x="740.5" y="172.9" font-size="18.8" font-weight="bold" text-anchor="end">60</text>
<line x1="746.5" y1="116.8" x2="755.6" y2="116.8" stroke="#000" stroke-width="2"/>
<text x="740.5" y="123.4" font-size="18.8" font-weight="bold" text-anchor="end">80</text>
<line x1="746.5" y1="67.3" x2="755.6" y2="67.3" stroke="#000" stroke-width="2"/>
<text x="740.5" y="73.9" font-size="18.8" font-weight="bold" text-anchor="end">100</text>
<line x1="779.6" y1="314.8" x2="779.6" y2="324" stroke="#000" stroke-width="2"/>
<line x1="832.6" y1="314.8" x2="832.6" y2="324" stroke="#000" stroke-width="2"/>
<line x1="883.6" y1="314.8" x2="883.6" y2="324" stroke="#000" stroke-width="2"/>
<line x1="935.5" y1="314.8" x2="935.5" y2="324" stroke="#000" stroke-width="2"/>
<line x1="987.6" y1="314.8" x2="987.6" y2="324" stroke="#000" stroke-width="2"/>
<line x1="1039.2" y1="314.8" x2="1039.2" y2="324" stroke="#000" stroke-width="2"/>
<text x="0" y="0" font-size="17" font-weight="bold" text-anchor="end" transform="translate(785.9 335.6) rotate(-45)">HLA<tspan dy="-6.5" font-size="12">+</tspan></text>
<text x="0" y="0" font-size="17" font-weight="bold" text-anchor="end" transform="translate(838.9 335.6) rotate(-45)">HLA-I/II<tspan dy="-6.5" font-size="12">-</tspan></text>
<text x="0" y="0" font-size="17" font-weight="bold" text-anchor="end" transform="translate(889.9 335.6) rotate(-45)">HLA<tspan dy="-6.5" font-size="12">+</tspan></text>
<text x="0" y="0" font-size="17" font-weight="bold" text-anchor="end" transform="translate(941.8 335.6) rotate(-45)">HLA-I/II<tspan dy="-6.5" font-size="12">-</tspan></text>
<text x="0" y="0" font-size="17" font-weight="bold" text-anchor="end" transform="translate(993.9 335.6) rotate(-45)">HLA<tspan dy="-6.5" font-size="12">+</tspan></text>
<text x="0" y="0" font-size="17" font-weight="bold" text-anchor="end" transform="translate(1045.5 335.6) rotate(-45)">HLA-I/II<tspan dy="-6.5" font-size="12">-</tspan></text>
<text transform="translate(793.2 411.7) scale(1.008 1)" font-size="21.8" font-weight="bold">#1</text>
<text transform="translate(897.8 411.7) scale(1.013 1)" font-size="21.8" font-weight="bold">#2</text>
<text transform="translate(1002 411.7) scale(1.015 1)" font-size="21.8" font-weight="bold">#3</text>
<text x="0" y="0" font-size="24.5" font-weight="bold" text-anchor="middle" transform="translate(703 194.5) rotate(-90) scale(1.07 1)">% of CD3<tspan dy="-8.5" font-size="16">+</tspan><tspan dy="8.5"> T cells</tspan></text>
<rect x="1080" y="52.3" width="34.2" height="17.4" fill="#fff" stroke="#000" stroke-width="2.1"/>
<rect x="1080" y="102.7" width="34.2" height="17.4" fill="url(#hatch2)" stroke="#000" stroke-width="2.1"/>
<text x="1124.3" y="72" font-size="31">CD4<tspan dy="-9.5" font-size="20.5">+</tspan></text>
<text x="1124.3" y="121.6" font-size="31">CD8<tspan dy="-9.5" font-size="20.5">+</tspan></text>
</svg></body></html>
